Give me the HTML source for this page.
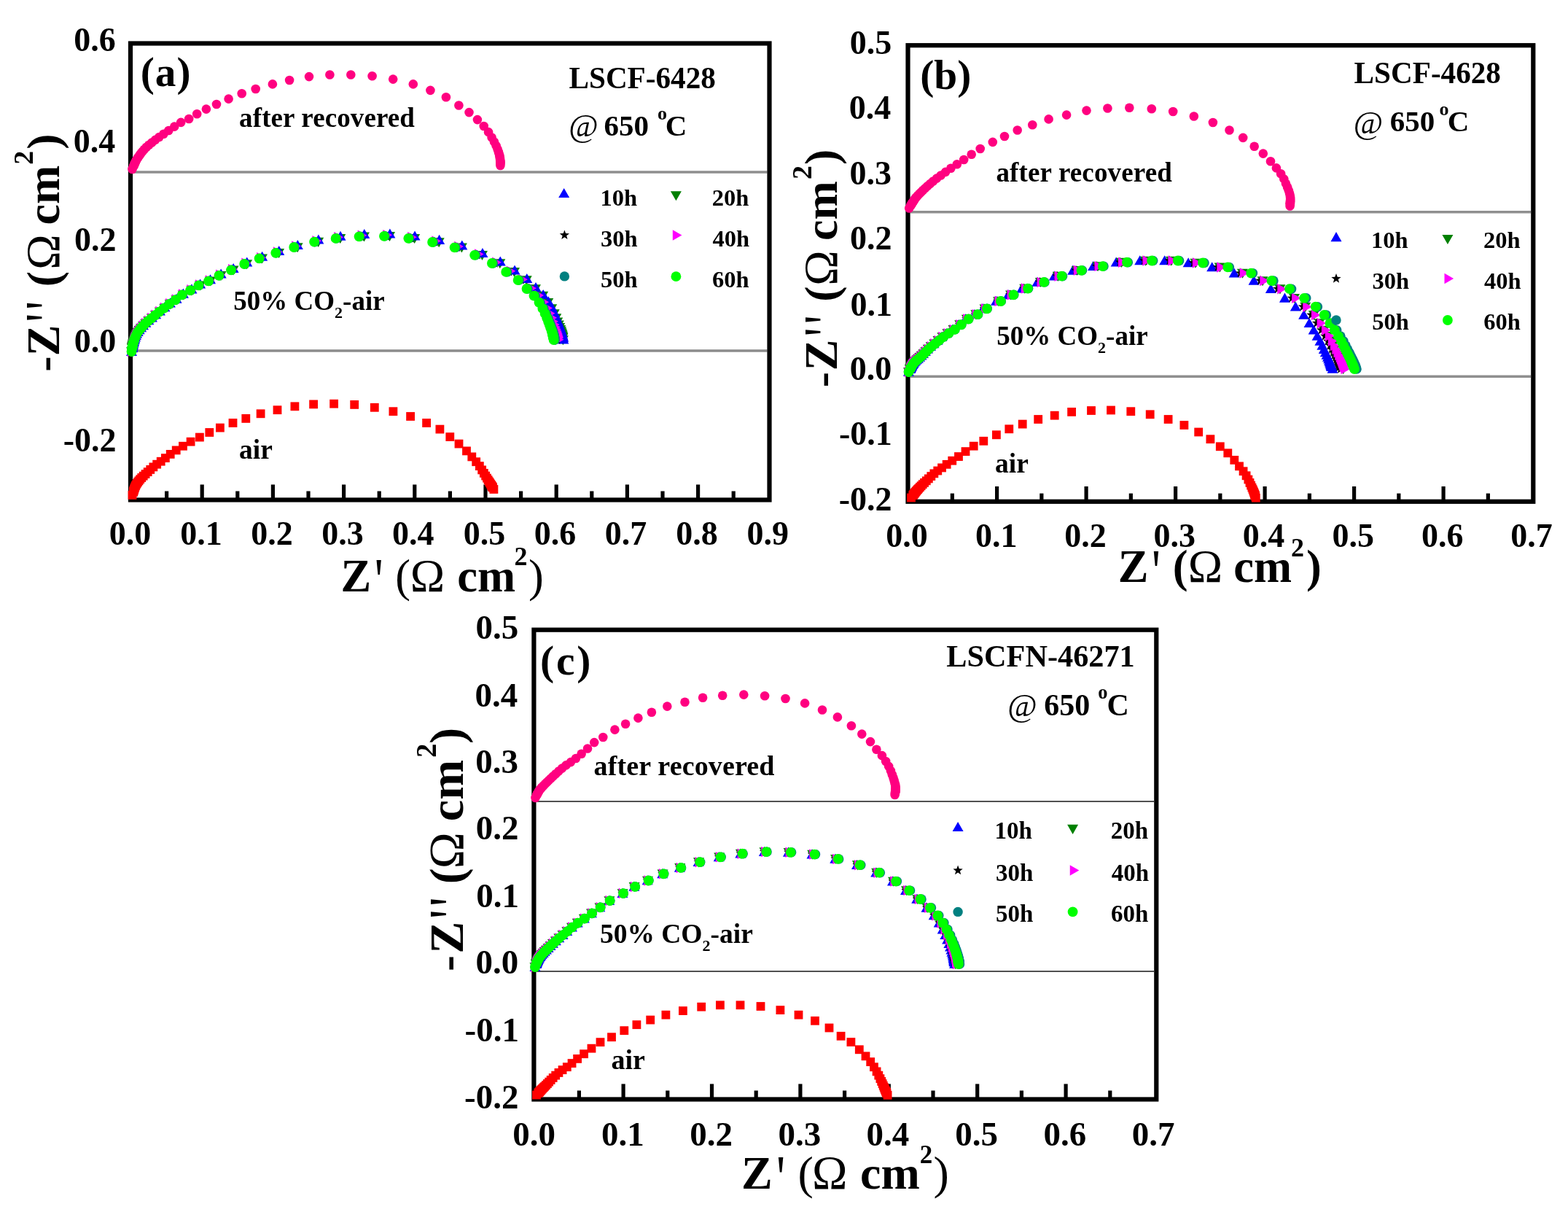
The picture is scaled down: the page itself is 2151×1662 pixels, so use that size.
<!DOCTYPE html><html><head><meta charset="utf-8"><title>Impedance spectra</title><style>html,body{margin:0;padding:0;background:#fff;}svg{display:block;}</style></head><body><svg xmlns="http://www.w3.org/2000/svg" width="2151" height="1662" viewBox="0 0 2151 1662"><rect width="2151" height="1662" fill="#fff"/><g><g font-family="'Liberation Serif','Times New Roman',serif" font-weight="bold"><line x1="182" y1="236" x2="1052.5" y2="236" stroke="#8e8e8e" stroke-width="3.6"/><line x1="182" y1="481" x2="1052.5" y2="481" stroke="#8c8c8c" stroke-width="3.6"/><rect x="179" y="59.5" width="876.5" height="626" fill="none" stroke="#000" stroke-width="6.2"/><g stroke="#000" stroke-width="5.2"><line x1="277.2" y1="685.5" x2="277.2" y2="664.5"/><line x1="374.4" y1="685.5" x2="374.4" y2="664.5"/><line x1="471.6" y1="685.5" x2="471.6" y2="664.5"/><line x1="568.8" y1="685.5" x2="568.8" y2="664.5"/><line x1="666" y1="685.5" x2="666" y2="664.5"/><line x1="763.2" y1="685.5" x2="763.2" y2="664.5"/><line x1="860.4" y1="685.5" x2="860.4" y2="664.5"/><line x1="957.6" y1="685.5" x2="957.6" y2="664.5"/><line x1="228.6" y1="685.5" x2="228.6" y2="673.5"/><line x1="325.8" y1="685.5" x2="325.8" y2="673.5"/><line x1="423" y1="685.5" x2="423" y2="673.5"/><line x1="520.2" y1="685.5" x2="520.2" y2="673.5"/><line x1="617.4" y1="685.5" x2="617.4" y2="673.5"/><line x1="714.6" y1="685.5" x2="714.6" y2="673.5"/><line x1="811.8" y1="685.5" x2="811.8" y2="673.5"/><line x1="909" y1="685.5" x2="909" y2="673.5"/><line x1="1006.2" y1="685.5" x2="1006.2" y2="673.5"/></g><circle cx="239.21" cy="173.67" r="6.3" fill="#FF0080"/><circle cx="231.35" cy="178.96" r="6.3" fill="#FF0080"/><circle cx="224.42" cy="183.7" r="6.3" fill="#FF0080"/><circle cx="218.33" cy="188.01" r="6.3" fill="#FF0080"/><circle cx="212.99" cy="191.9" r="6.3" fill="#FF0080"/><circle cx="208.36" cy="195.49" r="6.3" fill="#FF0080"/><circle cx="204.33" cy="198.78" r="6.3" fill="#FF0080"/><circle cx="200.87" cy="201.82" r="6.3" fill="#FF0080"/><circle cx="197.98" cy="204.71" r="6.3" fill="#FF0080"/><circle cx="195.6" cy="207.45" r="6.3" fill="#FF0080"/><circle cx="193.61" cy="209.98" r="6.3" fill="#FF0080"/><circle cx="191.91" cy="212.27" r="6.3" fill="#FF0080"/><circle cx="190.45" cy="214.34" r="6.3" fill="#FF0080"/><circle cx="189.18" cy="216.19" r="6.3" fill="#FF0080"/><circle cx="188.08" cy="217.85" r="6.3" fill="#FF0080"/><circle cx="187.17" cy="219.37" r="6.3" fill="#FF0080"/><circle cx="186.44" cy="220.75" r="6.3" fill="#FF0080"/><circle cx="185.84" cy="222" r="6.3" fill="#FF0080"/><circle cx="185.34" cy="223.13" r="6.3" fill="#FF0080"/><circle cx="184.9" cy="224.13" r="6.3" fill="#FF0080"/><circle cx="184.49" cy="225.01" r="6.3" fill="#FF0080"/><circle cx="184.13" cy="225.79" r="6.3" fill="#FF0080"/><circle cx="183.82" cy="226.49" r="6.3" fill="#FF0080"/><circle cx="183.55" cy="227.11" r="6.3" fill="#FF0080"/><circle cx="183.31" cy="227.66" r="6.3" fill="#FF0080"/><circle cx="183.1" cy="228.15" r="6.3" fill="#FF0080"/><circle cx="181.5" cy="232" r="6.3" fill="#FF0080"/><circle cx="248.2" cy="167.9" r="6.3" fill="#FF0080"/><circle cx="259.2" cy="163" r="6.3" fill="#FF0080"/><circle cx="270.2" cy="156.2" r="6.3" fill="#FF0080"/><circle cx="282.9" cy="149.6" r="6.3" fill="#FF0080"/><circle cx="297" cy="143" r="6.3" fill="#FF0080"/><circle cx="313.6" cy="135.6" r="6.3" fill="#FF0080"/><circle cx="331.7" cy="128.3" r="6.3" fill="#FF0080"/><circle cx="350.7" cy="122" r="6.3" fill="#FF0080"/><circle cx="373.9" cy="115.4" r="6.3" fill="#FF0080"/><circle cx="397.1" cy="110" r="6.3" fill="#FF0080"/><circle cx="424" cy="105.1" r="6.3" fill="#FF0080"/><circle cx="452.4" cy="102.5" r="6.3" fill="#FF0080"/><circle cx="481.3" cy="102.5" r="6.3" fill="#FF0080"/><circle cx="510.6" cy="104.2" r="6.3" fill="#FF0080"/><circle cx="539.2" cy="108.6" r="6.3" fill="#FF0080"/><circle cx="566.8" cy="115.4" r="6.3" fill="#FF0080"/><circle cx="590.4" cy="123.9" r="6.3" fill="#FF0080"/><circle cx="611.9" cy="133.2" r="6.3" fill="#FF0080"/><circle cx="629.4" cy="144.5" r="6.3" fill="#FF0080"/><circle cx="643.5" cy="154.1" r="6.3" fill="#FF0080"/><circle cx="654.9" cy="164.1" r="6.3" fill="#FF0080"/><circle cx="663.73" cy="172.99" r="6.3" fill="#FF0080"/><circle cx="670.09" cy="181.17" r="6.3" fill="#FF0080"/><circle cx="674.58" cy="188.47" r="6.3" fill="#FF0080"/><circle cx="678.03" cy="194.66" r="6.3" fill="#FF0080"/><circle cx="680.62" cy="199.91" r="6.3" fill="#FF0080"/><circle cx="682.51" cy="204.37" r="6.3" fill="#FF0080"/><circle cx="683.85" cy="208.15" r="6.3" fill="#FF0080"/><circle cx="684.77" cy="211.33" r="6.3" fill="#FF0080"/><circle cx="685.39" cy="213.99" r="6.3" fill="#FF0080"/><circle cx="685.79" cy="216.22" r="6.3" fill="#FF0080"/><circle cx="686.02" cy="218.08" r="6.3" fill="#FF0080"/><circle cx="686.15" cy="219.62" r="6.3" fill="#FF0080"/><circle cx="686.22" cy="220.9" r="6.3" fill="#FF0080"/><circle cx="686.26" cy="221.95" r="6.3" fill="#FF0080"/><circle cx="686.29" cy="222.83" r="6.3" fill="#FF0080"/><circle cx="686.31" cy="223.55" r="6.3" fill="#FF0080"/><circle cx="686.32" cy="224.15" r="6.3" fill="#FF0080"/><circle cx="686.4" cy="227" r="6.3" fill="#FF0080"/><rect x="245.08" y="605.86" width="11.8" height="11.8" fill="#FF0000"/><rect x="235.8" y="611.53" width="11.8" height="11.8" fill="#FF0000"/><rect x="227.8" y="616.98" width="11.8" height="11.8" fill="#FF0000"/><rect x="220.96" y="622.22" width="11.8" height="11.8" fill="#FF0000"/><rect x="214.82" y="626.83" width="11.8" height="11.8" fill="#FF0000"/><rect x="209.26" y="630.8" width="11.8" height="11.8" fill="#FF0000"/><rect x="204.45" y="634.52" width="11.8" height="11.8" fill="#FF0000"/><rect x="200.35" y="638.05" width="11.8" height="11.8" fill="#FF0000"/><rect x="196.78" y="641.29" width="11.8" height="11.8" fill="#FF0000"/><rect x="193.63" y="644.2" width="11.8" height="11.8" fill="#FF0000"/><rect x="190.82" y="646.79" width="11.8" height="11.8" fill="#FF0000"/><rect x="188.36" y="649.13" width="11.8" height="11.8" fill="#FF0000"/><rect x="186.31" y="651.36" width="11.8" height="11.8" fill="#FF0000"/><rect x="184.57" y="653.41" width="11.8" height="11.8" fill="#FF0000"/><rect x="183.08" y="655.29" width="11.8" height="11.8" fill="#FF0000"/><rect x="181.85" y="657.03" width="11.8" height="11.8" fill="#FF0000"/><rect x="180.86" y="658.65" width="11.8" height="11.8" fill="#FF0000"/><rect x="180.08" y="660.15" width="11.8" height="11.8" fill="#FF0000"/><rect x="179.47" y="661.53" width="11.8" height="11.8" fill="#FF0000"/><rect x="178.97" y="662.78" width="11.8" height="11.8" fill="#FF0000"/><rect x="178.56" y="663.9" width="11.8" height="11.8" fill="#FF0000"/><rect x="178.21" y="664.9" width="11.8" height="11.8" fill="#FF0000"/><rect x="177.91" y="665.79" width="11.8" height="11.8" fill="#FF0000"/><rect x="177.65" y="666.59" width="11.8" height="11.8" fill="#FF0000"/><rect x="177.42" y="667.31" width="11.8" height="11.8" fill="#FF0000"/><rect x="177.22" y="667.94" width="11.8" height="11.8" fill="#FF0000"/><rect x="177.04" y="668.51" width="11.8" height="11.8" fill="#FF0000"/><rect x="176.88" y="669.01" width="11.8" height="11.8" fill="#FF0000"/><rect x="175.6" y="673.1" width="11.8" height="11.8" fill="#FF0000"/><rect x="255.7" y="599.8" width="11.8" height="11.8" fill="#FF0000"/><rect x="268" y="593.7" width="11.8" height="11.8" fill="#FF0000"/><rect x="281.4" y="587.1" width="11.8" height="11.8" fill="#FF0000"/><rect x="296" y="580.7" width="11.8" height="11.8" fill="#FF0000"/><rect x="313.6" y="574.1" width="11.8" height="11.8" fill="#FF0000"/><rect x="331.4" y="568" width="11.8" height="11.8" fill="#FF0000"/><rect x="351.7" y="561.4" width="11.8" height="11.8" fill="#FF0000"/><rect x="374.6" y="556.3" width="11.8" height="11.8" fill="#FF0000"/><rect x="398.5" y="551.4" width="11.8" height="11.8" fill="#FF0000"/><rect x="424.2" y="548.5" width="11.8" height="11.8" fill="#FF0000"/><rect x="452.2" y="547.8" width="11.8" height="11.8" fill="#FF0000"/><rect x="480.3" y="549" width="11.8" height="11.8" fill="#FF0000"/><rect x="507.9" y="552.9" width="11.8" height="11.8" fill="#FF0000"/><rect x="533.5" y="558.3" width="11.8" height="11.8" fill="#FF0000"/><rect x="557.2" y="565.1" width="11.8" height="11.8" fill="#FF0000"/><rect x="579.2" y="574.1" width="11.8" height="11.8" fill="#FF0000"/><rect x="597.5" y="582.7" width="11.8" height="11.8" fill="#FF0000"/><rect x="611.4" y="593.2" width="11.8" height="11.8" fill="#FF0000"/><rect x="623.6" y="602.7" width="11.8" height="11.8" fill="#FF0000"/><rect x="634.1" y="612.5" width="11.8" height="11.8" fill="#FF0000"/><rect x="641.4" y="620.5" width="11.8" height="11.8" fill="#FF0000"/><rect x="647.28" y="627.34" width="11.8" height="11.8" fill="#FF0000"/><rect x="651.95" y="633.21" width="11.8" height="11.8" fill="#FF0000"/><rect x="655.25" y="638.53" width="11.8" height="11.8" fill="#FF0000"/><rect x="657.95" y="642.98" width="11.8" height="11.8" fill="#FF0000"/><rect x="660.23" y="646.67" width="11.8" height="11.8" fill="#FF0000"/><rect x="662.12" y="649.75" width="11.8" height="11.8" fill="#FF0000"/><rect x="663.7" y="652.31" width="11.8" height="11.8" fill="#FF0000"/><rect x="665.02" y="654.44" width="11.8" height="11.8" fill="#FF0000"/><rect x="666.11" y="656.22" width="11.8" height="11.8" fill="#FF0000"/><rect x="667.02" y="657.7" width="11.8" height="11.8" fill="#FF0000"/><rect x="667.77" y="658.93" width="11.8" height="11.8" fill="#FF0000"/><rect x="668.4" y="659.96" width="11.8" height="11.8" fill="#FF0000"/><rect x="668.92" y="660.82" width="11.8" height="11.8" fill="#FF0000"/><rect x="669.35" y="661.54" width="11.8" height="11.8" fill="#FF0000"/><rect x="669.71" y="662.13" width="11.8" height="11.8" fill="#FF0000"/><rect x="670.01" y="662.63" width="11.8" height="11.8" fill="#FF0000"/><rect x="671.5" y="665.1" width="11.8" height="11.8" fill="#FF0000"/><path d="M241.99 418.4L249.49 405.35L234.49 405.35Z" fill="#008000"/><path d="M233.33 424.17L240.83 411.12L225.83 411.12Z" fill="#008000"/><path d="M225.87 429.71L233.37 416.66L218.37 416.66Z" fill="#008000"/><path d="M219.31 434.8L226.81 421.75L211.81 421.75Z" fill="#008000"/><path d="M213.52 439.42L221.02 426.37L206.02 426.37Z" fill="#008000"/><path d="M208.36 443.57L215.86 430.52L200.86 430.52Z" fill="#008000"/><path d="M203.73 447.26L211.23 434.21L196.23 434.21Z" fill="#008000"/><path d="M199.81 450.8L207.31 437.75L192.31 437.75Z" fill="#008000"/><path d="M196.46 454.12L203.96 441.07L188.96 441.07Z" fill="#008000"/><path d="M193.56 457.18L201.06 444.13L186.06 444.13Z" fill="#008000"/><path d="M191.11 460.03L198.61 446.98L183.61 446.98Z" fill="#008000"/><path d="M189.12 462.72L196.62 449.67L181.62 449.67Z" fill="#008000"/><path d="M187.58 465.28L195.08 452.23L180.08 452.23Z" fill="#008000"/><path d="M186.41 467.68L193.91 454.63L178.91 454.63Z" fill="#008000"/><path d="M185.5 469.89L193 456.84L178 456.84Z" fill="#008000"/><path d="M184.78 471.88L192.28 458.83L177.28 458.83Z" fill="#008000"/><path d="M184.17 473.69L191.67 460.64L176.67 460.64Z" fill="#008000"/><path d="M183.66 475.3L191.16 462.25L176.16 462.25Z" fill="#008000"/><path d="M183.2 476.75L190.7 463.7L175.7 463.7Z" fill="#008000"/><path d="M182.81 478.05L190.31 465L175.31 465Z" fill="#008000"/><path d="M182.49 479.21L189.99 466.16L174.99 466.16Z" fill="#008000"/><path d="M182.23 480.26L189.73 467.21L174.73 467.21Z" fill="#008000"/><path d="M182.01 481.21L189.51 468.16L174.51 468.16Z" fill="#008000"/><path d="M181.83 482.05L189.33 469L174.33 469Z" fill="#008000"/><path d="M181.68 482.81L189.18 469.76L174.18 469.76Z" fill="#008000"/><path d="M181.54 483.48L189.04 470.43L174.04 470.43Z" fill="#008000"/><path d="M181.43 484.09L188.93 471.04L173.93 471.04Z" fill="#008000"/><path d="M181.33 484.63L188.83 471.58L173.83 471.58Z" fill="#008000"/><path d="M180.51 489.18L188.01 476.13L173.01 476.13Z" fill="#008000"/><path d="M251.34 411.48L258.84 398.43L243.84 398.43Z" fill="#008000"/><path d="M262.88 405.38L270.38 392.33L255.38 392.33Z" fill="#008000"/><path d="M274.53 398.58L282.03 385.53L267.03 385.53Z" fill="#008000"/><path d="M288.43 392.58L295.93 379.53L280.93 379.53Z" fill="#008000"/><path d="M303.05 384.98L310.55 371.93L295.55 371.93Z" fill="#008000"/><path d="M320.01 377.48L327.51 364.43L312.51 364.43Z" fill="#008000"/><path d="M338.61 369.18L346.11 356.13L331.11 356.13Z" fill="#008000"/><path d="M359.46 361.58L366.96 348.53L351.96 348.53Z" fill="#008000"/><path d="M382.56 353.98L390.06 340.93L375.06 340.93Z" fill="#008000"/><path d="M408.11 346.18L415.61 333.13L400.61 333.13Z" fill="#008000"/><path d="M436.62 338.88L444.12 325.83L429.12 325.83Z" fill="#008000"/><path d="M466.77 334.08L474.27 321.03L459.27 321.03Z" fill="#008000"/><path d="M499.48 331.48L506.98 318.43L491.98 318.43Z" fill="#008000"/><path d="M534.53 330.98L542.03 317.93L527.03 317.93Z" fill="#008000"/><path d="M568.67 333.98L576.17 320.93L561.17 320.93Z" fill="#008000"/><path d="M602.19 339.18L609.69 326.13L594.69 326.13Z" fill="#008000"/><path d="M633.36 346.58L640.86 333.53L625.86 333.53Z" fill="#008000"/><path d="M661.46 356.98L668.96 343.93L653.96 343.93Z" fill="#008000"/><path d="M685.79 368.18L693.29 355.13L678.29 355.13Z" fill="#008000"/><path d="M705.51 380.08L713.01 367.03L698.01 367.03Z" fill="#008000"/><path d="M722.27 391.28L729.77 378.23L714.77 378.23Z" fill="#008000"/><path d="M734.44 403.18L741.94 390.13L726.94 390.13Z" fill="#008000"/><path d="M744.62 412.89L752.12 399.84L737.12 399.84Z" fill="#008000"/><path d="M751.76 422.05L759.26 409L744.26 409Z" fill="#008000"/><path d="M756.72 430.25L764.22 417.2L749.22 417.2Z" fill="#008000"/><path d="M760.18 437.37L767.68 424.32L752.68 424.32Z" fill="#008000"/><path d="M762.78 443.38L770.28 430.33L755.28 430.33Z" fill="#008000"/><path d="M764.75 448.43L772.25 435.38L757.25 435.38Z" fill="#008000"/><path d="M766.37 452.61L773.87 439.56L758.87 439.56Z" fill="#008000"/><path d="M767.71 456.07L775.21 443.02L760.21 443.02Z" fill="#008000"/><path d="M768.77 458.95L776.27 445.9L761.27 445.9Z" fill="#008000"/><path d="M769.58 461.35L777.08 448.3L762.08 448.3Z" fill="#008000"/><path d="M770.18 463.36L777.68 450.31L762.68 450.31Z" fill="#008000"/><path d="M770.61 465.04L778.11 451.99L763.11 451.99Z" fill="#008000"/><path d="M770.94 466.44L778.44 453.39L763.44 453.39Z" fill="#008000"/><path d="M771.2 467.6L778.7 454.55L763.7 454.55Z" fill="#008000"/><path d="M771.41 468.56L778.91 455.51L763.91 455.51Z" fill="#008000"/><path d="M771.57 469.36L779.07 456.31L764.07 456.31Z" fill="#008000"/><path d="M771.71 470.02L779.21 456.97L764.21 456.97Z" fill="#008000"/><path d="M771.82 470.56L779.32 457.51L764.32 457.51Z" fill="#008000"/><path d="M772.35 473.18L779.85 460.13L764.85 460.13Z" fill="#008000"/><path d="M242.05 402.65L249.55 415.7L234.55 415.7Z" fill="#0000FF"/><path d="M233.38 408.54L240.88 421.59L225.88 421.59Z" fill="#0000FF"/><path d="M225.91 414.19L233.41 427.24L218.41 427.24Z" fill="#0000FF"/><path d="M219.35 419.38L226.85 432.43L211.85 432.43Z" fill="#0000FF"/><path d="M213.55 424.09L221.05 437.14L206.05 437.14Z" fill="#0000FF"/><path d="M208.38 428.33L215.88 441.38L200.88 441.38Z" fill="#0000FF"/><path d="M203.75 432.09L211.25 445.14L196.25 445.14Z" fill="#0000FF"/><path d="M199.82 435.7L207.32 448.75L192.32 448.75Z" fill="#0000FF"/><path d="M196.48 439.09L203.98 452.14L188.98 452.14Z" fill="#0000FF"/><path d="M193.58 442.2L201.08 455.25L186.08 455.25Z" fill="#0000FF"/><path d="M191.13 445.11L198.63 458.16L183.63 458.16Z" fill="#0000FF"/><path d="M189.13 447.86L196.63 460.91L181.63 460.91Z" fill="#0000FF"/><path d="M187.59 450.47L195.09 463.52L180.09 463.52Z" fill="#0000FF"/><path d="M186.42 452.92L193.92 465.97L178.92 465.97Z" fill="#0000FF"/><path d="M185.51 455.16L193.01 468.21L178.01 468.21Z" fill="#0000FF"/><path d="M184.78 457.2L192.28 470.25L177.28 470.25Z" fill="#0000FF"/><path d="M184.18 459.04L191.68 472.09L176.68 472.09Z" fill="#0000FF"/><path d="M183.66 460.69L191.16 473.74L176.16 473.74Z" fill="#0000FF"/><path d="M183.2 462.17L190.7 475.22L175.7 475.22Z" fill="#0000FF"/><path d="M182.81 463.49L190.31 476.54L175.31 476.54Z" fill="#0000FF"/><path d="M182.49 464.68L189.99 477.73L174.99 477.73Z" fill="#0000FF"/><path d="M182.23 465.75L189.73 478.8L174.73 478.8Z" fill="#0000FF"/><path d="M182.01 466.71L189.51 479.76L174.51 479.76Z" fill="#0000FF"/><path d="M181.83 467.57L189.33 480.62L174.33 480.62Z" fill="#0000FF"/><path d="M181.68 468.34L189.18 481.39L174.18 481.39Z" fill="#0000FF"/><path d="M181.54 469.03L189.04 482.08L174.04 482.08Z" fill="#0000FF"/><path d="M181.43 469.65L188.93 482.7L173.93 482.7Z" fill="#0000FF"/><path d="M181.33 470.2L188.83 483.25L173.83 483.25Z" fill="#0000FF"/><path d="M180.51 474.84L188.01 487.89L173.01 487.89Z" fill="#0000FF"/><path d="M251.41 395.59L258.91 408.64L243.91 408.64Z" fill="#0000FF"/><path d="M262.97 389.37L270.47 402.42L255.47 402.42Z" fill="#0000FF"/><path d="M274.63 382.43L282.13 395.48L267.13 395.48Z" fill="#0000FF"/><path d="M288.54 376.31L296.04 389.36L281.04 389.36Z" fill="#0000FF"/><path d="M303.17 368.56L310.67 381.61L295.67 381.61Z" fill="#0000FF"/><path d="M320.15 360.91L327.65 373.96L312.65 373.96Z" fill="#0000FF"/><path d="M338.77 352.44L346.27 365.49L331.27 365.49Z" fill="#0000FF"/><path d="M359.64 344.69L367.14 357.74L352.14 357.74Z" fill="#0000FF"/><path d="M382.76 336.94L390.26 349.99L375.26 349.99Z" fill="#0000FF"/><path d="M408.33 328.98L415.83 342.03L400.83 342.03Z" fill="#0000FF"/><path d="M436.88 321.54L444.38 334.59L429.38 334.59Z" fill="#0000FF"/><path d="M467.05 316.64L474.55 329.69L459.55 329.69Z" fill="#0000FF"/><path d="M499.79 313.99L507.29 327.04L492.29 327.04Z" fill="#0000FF"/><path d="M534.88 313.48L542.38 326.53L527.38 326.53Z" fill="#0000FF"/><path d="M569.05 316.54L576.55 329.59L561.55 329.59Z" fill="#0000FF"/><path d="M602.6 321.84L610.1 334.89L595.1 334.89Z" fill="#0000FF"/><path d="M633.8 329.39L641.3 342.44L626.3 342.44Z" fill="#0000FF"/><path d="M661.94 340L669.44 353.05L654.44 353.05Z" fill="#0000FF"/><path d="M686.28 351.42L693.78 364.47L678.78 364.47Z" fill="#0000FF"/><path d="M706.03 363.56L713.53 376.61L698.53 376.61Z" fill="#0000FF"/><path d="M722.8 374.98L730.3 388.03L715.3 388.03Z" fill="#0000FF"/><path d="M734.98 387.12L742.48 400.17L727.48 400.17Z" fill="#0000FF"/><path d="M745.18 397.03L752.68 410.08L737.68 410.08Z" fill="#0000FF"/><path d="M752.32 406.37L759.82 419.42L744.82 419.42Z" fill="#0000FF"/><path d="M757.29 414.73L764.79 427.78L749.79 427.78Z" fill="#0000FF"/><path d="M760.75 422L768.25 435.05L753.25 435.05Z" fill="#0000FF"/><path d="M763.35 428.13L770.85 441.18L755.85 441.18Z" fill="#0000FF"/><path d="M765.33 433.28L772.83 446.33L757.83 446.33Z" fill="#0000FF"/><path d="M766.94 437.54L774.44 450.59L759.44 450.59Z" fill="#0000FF"/><path d="M768.28 441.07L775.78 454.12L760.78 454.12Z" fill="#0000FF"/><path d="M769.34 444.01L776.84 457.06L761.84 457.06Z" fill="#0000FF"/><path d="M770.16 446.46L777.66 459.51L762.66 459.51Z" fill="#0000FF"/><path d="M770.76 448.51L778.26 461.56L763.26 461.56Z" fill="#0000FF"/><path d="M771.19 450.22L778.69 463.27L763.69 463.27Z" fill="#0000FF"/><path d="M771.52 451.65L779.02 464.7L764.02 464.7Z" fill="#0000FF"/><path d="M771.78 452.83L779.28 465.88L764.28 465.88Z" fill="#0000FF"/><path d="M771.98 453.81L779.48 466.86L764.48 466.86Z" fill="#0000FF"/><path d="M772.15 454.62L779.65 467.67L764.65 467.67Z" fill="#0000FF"/><path d="M772.28 455.3L779.78 468.35L764.78 468.35Z" fill="#0000FF"/><path d="M772.39 455.85L779.89 468.9L764.89 468.9Z" fill="#0000FF"/><path d="M772.93 458.52L780.43 471.57L765.43 471.57Z" fill="#0000FF"/><path d="M241.14 404.23L242.87 408.85L247.8 409.06L243.94 412.13L245.26 416.89L241.14 414.17L237.03 416.89L238.34 412.13L234.48 409.06L239.41 408.85Z" fill="#000000"/><path d="M232.6 410L234.33 414.62L239.26 414.83L235.39 417.91L236.71 422.66L232.6 419.94L228.48 422.66L229.8 417.91L225.94 414.83L230.87 414.62Z" fill="#000000"/><path d="M225.24 415.54L226.97 420.16L231.9 420.37L228.04 423.44L229.36 428.2L225.24 425.48L221.13 428.2L222.45 423.44L218.58 420.37L223.51 420.16Z" fill="#000000"/><path d="M218.78 420.62L220.5 425.24L225.43 425.46L221.57 428.53L222.89 433.29L218.78 430.56L214.66 433.29L215.98 428.53L212.12 425.46L217.05 425.24Z" fill="#000000"/><path d="M213.06 425.25L214.79 429.87L219.72 430.08L215.86 433.15L217.17 437.91L213.06 435.19L208.95 437.91L210.26 433.15L206.4 430.08L211.33 429.87Z" fill="#000000"/><path d="M207.97 429.4L209.7 434.02L214.63 434.23L210.76 437.3L212.08 442.06L207.97 439.34L203.85 442.06L205.17 437.3L201.31 434.23L206.24 434.02Z" fill="#000000"/><path d="M203.4 433.09L205.13 437.71L210.06 437.92L206.2 441L207.52 445.75L203.4 443.03L199.29 445.75L200.61 441L196.75 437.92L201.68 437.71Z" fill="#000000"/><path d="M199.53 436.62L201.26 441.24L206.19 441.46L202.33 444.53L203.65 449.28L199.53 446.56L195.42 449.28L196.74 444.53L192.88 441.46L197.81 441.24Z" fill="#000000"/><path d="M196.24 439.95L197.96 444.57L202.89 444.78L199.03 447.85L200.35 452.61L196.24 449.89L192.12 452.61L193.44 447.85L189.58 444.78L194.51 444.57Z" fill="#000000"/><path d="M193.38 443L195.11 447.62L200.04 447.84L196.17 450.91L197.49 455.66L193.38 452.94L189.26 455.66L190.58 450.91L186.72 447.84L191.65 447.62Z" fill="#000000"/><path d="M190.96 445.85L192.69 450.47L197.62 450.69L193.76 453.76L195.08 458.51L190.96 455.79L186.85 458.51L188.17 453.76L184.31 450.69L189.23 450.47Z" fill="#000000"/><path d="M188.99 448.54L190.72 453.16L195.65 453.38L191.79 456.45L193.11 461.21L188.99 458.48L184.88 461.21L186.2 456.45L182.33 453.38L187.26 453.16Z" fill="#000000"/><path d="M187.47 451.11L189.2 455.73L194.13 455.94L190.27 459.02L191.59 463.77L187.47 461.05L183.36 463.77L184.68 459.02L180.82 455.94L185.75 455.73Z" fill="#000000"/><path d="M186.32 453.51L188.05 458.13L192.98 458.34L189.12 461.41L190.44 466.17L186.32 463.45L182.21 466.17L183.53 461.41L179.67 458.34L184.6 458.13Z" fill="#000000"/><path d="M185.43 455.71L187.16 460.33L192.09 460.55L188.22 463.62L189.54 468.37L185.43 465.65L181.31 468.37L182.63 463.62L178.77 460.55L183.7 460.33Z" fill="#000000"/><path d="M184.71 457.71L186.44 462.33L191.37 462.54L187.51 465.62L188.82 470.37L184.71 467.65L180.6 470.37L181.91 465.62L178.05 462.54L182.98 462.33Z" fill="#000000"/><path d="M184.11 459.51L185.84 464.13L190.77 464.35L186.91 467.42L188.23 472.17L184.11 469.45L180 472.17L181.32 467.42L177.46 464.35L182.39 464.13Z" fill="#000000"/><path d="M183.61 461.13L185.33 465.75L190.26 465.96L186.4 469.03L187.72 473.79L183.61 471.07L179.49 473.79L180.81 469.03L176.95 465.96L181.88 465.75Z" fill="#000000"/><path d="M183.16 462.57L184.88 467.19L189.81 467.41L185.95 470.48L187.27 475.24L183.16 472.51L179.04 475.24L180.36 470.48L176.5 467.41L181.43 467.19Z" fill="#000000"/><path d="M182.77 463.87L184.49 468.49L189.42 468.71L185.56 471.78L186.88 476.53L182.77 473.81L178.65 476.53L179.97 471.78L176.11 468.71L181.04 468.49Z" fill="#000000"/><path d="M182.45 465.04L184.18 469.66L189.11 469.87L185.25 472.95L186.57 477.7L182.45 474.98L178.34 477.7L179.66 472.95L175.79 469.87L180.72 469.66Z" fill="#000000"/><path d="M182.2 466.09L183.93 470.71L188.85 470.92L184.99 474L186.31 478.75L182.2 476.03L178.08 478.75L179.4 474L175.54 470.92L180.47 470.71Z" fill="#000000"/><path d="M181.98 467.03L183.71 471.65L188.64 471.87L184.78 474.94L186.1 479.69L181.98 476.97L177.87 479.69L179.19 474.94L175.33 471.87L180.26 471.65Z" fill="#000000"/><path d="M181.81 467.87L183.53 472.49L188.46 472.71L184.6 475.78L185.92 480.54L181.81 477.81L177.69 480.54L179.01 475.78L175.15 472.71L180.08 472.49Z" fill="#000000"/><path d="M181.65 468.63L183.38 473.25L188.31 473.47L184.45 476.54L185.77 481.29L181.65 478.57L177.54 481.29L178.86 476.54L175 473.47L179.93 473.25Z" fill="#000000"/><path d="M181.52 469.31L183.25 473.93L188.18 474.14L184.32 477.21L185.64 481.97L181.52 479.25L177.41 481.97L178.73 477.21L174.86 474.14L179.79 473.93Z" fill="#000000"/><path d="M181.41 469.91L183.14 474.53L188.07 474.75L184.2 477.82L185.52 482.57L181.41 479.85L177.29 482.57L178.61 477.82L174.75 474.75L179.68 474.53Z" fill="#000000"/><path d="M181.31 470.45L183.04 475.07L187.97 475.29L184.11 478.36L185.42 483.12L181.31 480.39L177.2 483.12L178.51 478.36L174.65 475.29L179.58 475.07Z" fill="#000000"/><path d="M180.5 475L182.23 479.62L187.16 479.84L183.3 482.91L184.62 487.66L180.5 484.94L176.39 487.66L177.71 482.91L173.85 479.84L178.78 479.62Z" fill="#000000"/><path d="M250.36 397.3L252.09 401.92L257.02 402.14L253.15 405.21L254.47 409.96L250.36 407.24L246.24 409.96L247.56 405.21L243.7 402.14L248.63 401.92Z" fill="#000000"/><path d="M261.75 391.2L263.48 395.82L268.41 396.04L264.54 399.11L265.86 403.86L261.75 401.14L257.63 403.86L258.95 399.11L255.09 396.04L260.02 395.82Z" fill="#000000"/><path d="M273.24 384.4L274.97 389.02L279.9 389.24L276.04 392.31L277.35 397.06L273.24 394.34L269.13 397.06L270.44 392.31L266.58 389.24L271.51 389.02Z" fill="#000000"/><path d="M286.95 378.4L288.68 383.02L293.61 383.24L289.74 386.31L291.06 391.06L286.95 388.34L282.83 391.06L284.15 386.31L280.29 383.24L285.22 383.02Z" fill="#000000"/><path d="M301.36 370.8L303.09 375.42L308.02 375.64L304.16 378.71L305.48 383.46L301.36 380.74L297.25 383.46L298.57 378.71L294.71 375.64L299.64 375.42Z" fill="#000000"/><path d="M318.1 363.3L319.82 367.92L324.75 368.14L320.89 371.21L322.21 375.96L318.1 373.24L313.98 375.96L315.3 371.21L311.44 368.14L316.37 367.92Z" fill="#000000"/><path d="M336.44 355L338.17 359.62L343.1 359.84L339.24 362.91L340.56 367.66L336.44 364.94L332.33 367.66L333.65 362.91L329.78 359.84L334.71 359.62Z" fill="#000000"/><path d="M357 347.4L358.73 352.02L363.66 352.24L359.8 355.31L361.12 360.06L357 357.34L352.89 360.06L354.21 355.31L350.35 352.24L355.28 352.02Z" fill="#000000"/><path d="M379.79 339.8L381.51 344.42L386.44 344.64L382.58 347.71L383.9 352.46L379.79 349.74L375.67 352.46L376.99 347.71L373.13 344.64L378.06 344.42Z" fill="#000000"/><path d="M404.99 332L406.71 336.62L411.64 336.84L407.78 339.91L409.1 344.66L404.99 341.94L400.87 344.66L402.19 339.91L398.33 336.84L403.26 336.62Z" fill="#000000"/><path d="M433.11 324.7L434.84 329.32L439.77 329.54L435.9 332.61L437.22 337.36L433.11 334.64L428.99 337.36L430.31 332.61L426.45 329.54L431.38 329.32Z" fill="#000000"/><path d="M462.84 319.9L464.57 324.52L469.5 324.74L465.64 327.81L466.96 332.56L462.84 329.84L458.73 332.56L460.05 327.81L456.19 324.74L461.12 324.52Z" fill="#000000"/><path d="M495.1 317.3L496.83 321.92L501.76 322.14L497.9 325.21L499.22 329.96L495.1 327.24L490.99 329.96L492.3 325.21L488.44 322.14L493.37 321.92Z" fill="#000000"/><path d="M529.68 316.8L531.4 321.42L536.33 321.64L532.47 324.71L533.79 329.46L529.68 326.74L525.56 329.46L526.88 324.71L523.02 321.64L527.95 321.42Z" fill="#000000"/><path d="M563.34 319.8L565.07 324.42L570 324.64L566.14 327.71L567.46 332.46L563.34 329.74L559.23 332.46L560.55 327.71L556.69 324.64L561.61 324.42Z" fill="#000000"/><path d="M596.4 325L598.13 329.62L603.06 329.84L599.2 332.91L600.52 337.66L596.4 334.94L592.29 337.66L593.61 332.91L589.75 329.84L594.68 329.62Z" fill="#000000"/><path d="M627.15 332.4L628.88 337.02L633.81 337.24L629.94 340.31L631.26 345.06L627.15 342.34L623.03 345.06L624.35 340.31L620.49 337.24L625.42 337.02Z" fill="#000000"/><path d="M654.87 342.8L656.6 347.42L661.53 347.64L657.66 350.71L658.98 355.46L654.87 352.74L650.75 355.46L652.07 350.71L648.21 347.64L653.14 347.42Z" fill="#000000"/><path d="M678.86 354L680.59 358.62L685.52 358.84L681.66 361.91L682.97 366.66L678.86 363.94L674.74 366.66L676.06 361.91L672.2 358.84L677.13 358.62Z" fill="#000000"/><path d="M698.31 365.9L700.04 370.52L704.97 370.74L701.11 373.81L702.43 378.56L698.31 375.84L694.2 378.56L695.52 373.81L691.66 370.74L696.59 370.52Z" fill="#000000"/><path d="M714.84 377.1L716.57 381.72L721.5 381.94L717.64 385.01L718.96 389.76L714.84 387.04L710.73 389.76L712.05 385.01L708.19 381.94L713.12 381.72Z" fill="#000000"/><path d="M726.84 389L728.57 393.62L733.5 393.84L729.64 396.91L730.95 401.66L726.84 398.94L722.73 401.66L724.04 396.91L720.18 393.84L725.11 393.62Z" fill="#000000"/><path d="M736.89 398.72L738.62 403.34L743.55 403.55L739.69 406.63L741 411.38L736.89 408.66L732.78 411.38L734.09 406.63L730.23 403.55L735.16 403.34Z" fill="#000000"/><path d="M743.93 407.87L745.66 412.49L750.58 412.71L746.72 415.78L748.04 420.53L743.93 417.81L739.81 420.53L741.13 415.78L737.27 412.71L742.2 412.49Z" fill="#000000"/><path d="M748.82 416.07L750.55 420.69L755.48 420.91L751.62 423.98L752.94 428.73L748.82 426.01L744.71 428.73L746.03 423.98L742.16 420.91L747.09 420.69Z" fill="#000000"/><path d="M752.23 423.19L753.96 427.81L758.89 428.03L755.03 431.1L756.35 435.86L752.23 433.13L748.12 435.86L749.44 431.1L745.58 428.03L750.51 427.81Z" fill="#000000"/><path d="M754.8 429.2L756.53 433.83L761.45 434.04L757.59 437.11L758.91 441.87L754.8 439.14L750.68 441.87L752 437.11L748.14 434.04L753.07 433.83Z" fill="#000000"/><path d="M756.74 434.25L758.47 438.87L763.4 439.09L759.54 442.16L760.86 446.91L756.74 444.19L752.63 446.91L753.95 442.16L750.09 439.09L755.02 438.87Z" fill="#000000"/><path d="M758.34 438.43L760.07 443.05L764.99 443.27L761.13 446.34L762.45 451.09L758.34 448.37L754.22 451.09L755.54 446.34L751.68 443.27L756.61 443.05Z" fill="#000000"/><path d="M759.66 441.89L761.38 446.51L766.31 446.73L762.45 449.8L763.77 454.55L759.66 451.83L755.54 454.55L756.86 449.8L753 446.73L757.93 446.51Z" fill="#000000"/><path d="M760.7 444.77L762.43 449.39L767.36 449.6L763.5 452.68L764.81 457.43L760.7 454.71L756.59 457.43L757.9 452.68L754.04 449.6L758.97 449.39Z" fill="#000000"/><path d="M761.5 447.17L763.23 451.79L768.16 452.01L764.3 455.08L765.62 459.83L761.5 457.11L757.39 459.83L758.71 455.08L754.84 452.01L759.77 451.79Z" fill="#000000"/><path d="M762.09 449.18L763.82 453.8L768.75 454.02L764.89 457.09L766.21 461.85L762.09 459.12L757.98 461.85L759.3 457.09L755.44 454.02L760.37 453.8Z" fill="#000000"/><path d="M762.52 450.86L764.25 455.48L769.18 455.7L765.32 458.77L766.64 463.53L762.52 460.8L758.41 463.53L759.73 458.77L755.87 455.7L760.8 455.48Z" fill="#000000"/><path d="M762.85 452.26L764.58 456.88L769.51 457.1L765.64 460.17L766.96 464.92L762.85 462.2L758.73 464.92L760.05 460.17L756.19 457.1L761.12 456.88Z" fill="#000000"/><path d="M763.1 453.42L764.83 458.04L769.76 458.26L765.9 461.33L767.22 466.08L763.1 463.36L758.99 466.08L760.31 461.33L756.45 458.26L761.37 458.04Z" fill="#000000"/><path d="M763.3 454.38L765.03 459L769.96 459.22L766.1 462.29L767.42 467.05L763.3 464.32L759.19 467.05L760.51 462.29L756.65 459.22L761.58 459Z" fill="#000000"/><path d="M763.47 455.18L765.2 459.8L770.12 460.02L766.26 463.09L767.58 467.84L763.47 465.12L759.35 467.84L760.67 463.09L756.81 460.02L761.74 459.8Z" fill="#000000"/><path d="M763.6 455.84L765.33 460.46L770.26 460.67L766.4 463.75L767.71 468.5L763.6 465.78L759.49 468.5L760.8 463.75L756.94 460.67L761.87 460.46Z" fill="#000000"/><path d="M763.71 456.38L765.44 461.01L770.37 461.22L766.5 464.29L767.82 469.05L763.71 466.32L759.59 469.05L760.91 464.29L757.05 461.22L761.98 461.01Z" fill="#000000"/><path d="M764.24 459L765.96 463.62L770.89 463.84L767.03 466.91L768.35 471.66L764.24 468.94L760.12 471.66L761.44 466.91L757.58 463.84L762.51 463.62Z" fill="#000000"/><path d="M248.32 410.53L235.71 417.78L235.71 403.28Z" fill="#FF00FF"/><path d="M239.75 416.36L227.13 423.61L227.13 409.11Z" fill="#FF00FF"/><path d="M232.36 421.95L219.74 429.2L219.74 414.7Z" fill="#FF00FF"/><path d="M225.87 427.09L213.25 434.34L213.25 419.84Z" fill="#FF00FF"/><path d="M220.13 431.76L207.51 439.01L207.51 424.51Z" fill="#FF00FF"/><path d="M215.02 435.95L202.4 443.2L202.4 428.7Z" fill="#FF00FF"/><path d="M210.44 439.68L197.82 446.93L197.82 432.43Z" fill="#FF00FF"/><path d="M206.55 443.25L193.93 450.5L193.93 436Z" fill="#FF00FF"/><path d="M203.24 446.61L190.62 453.86L190.62 439.36Z" fill="#FF00FF"/><path d="M200.37 449.69L187.76 456.94L187.76 442.44Z" fill="#FF00FF"/><path d="M197.94 452.57L185.33 459.82L185.33 445.32Z" fill="#FF00FF"/><path d="M195.97 455.29L183.35 462.54L183.35 448.04Z" fill="#FF00FF"/><path d="M194.44 457.88L181.83 465.13L181.83 450.63Z" fill="#FF00FF"/><path d="M193.29 460.3L180.67 467.55L180.67 453.05Z" fill="#FF00FF"/><path d="M192.39 462.53L179.77 469.78L179.77 455.28Z" fill="#FF00FF"/><path d="M191.67 464.54L179.05 471.79L179.05 457.29Z" fill="#FF00FF"/><path d="M191.07 466.36L178.45 473.61L178.45 459.11Z" fill="#FF00FF"/><path d="M190.56 468L177.94 475.25L177.94 460.75Z" fill="#FF00FF"/><path d="M190.11 469.46L177.49 476.71L177.49 462.21Z" fill="#FF00FF"/><path d="M189.72 470.77L177.1 478.02L177.1 463.52Z" fill="#FF00FF"/><path d="M189.4 471.95L176.78 479.2L176.78 464.7Z" fill="#FF00FF"/><path d="M189.14 473.01L176.53 480.26L176.53 465.76Z" fill="#FF00FF"/><path d="M188.93 473.96L176.32 481.21L176.32 466.71Z" fill="#FF00FF"/><path d="M188.75 474.81L176.14 482.06L176.14 467.56Z" fill="#FF00FF"/><path d="M188.6 475.58L175.98 482.83L175.98 468.33Z" fill="#FF00FF"/><path d="M188.47 476.26L175.85 483.51L175.85 469.01Z" fill="#FF00FF"/><path d="M188.35 476.87L175.74 484.12L175.74 469.62Z" fill="#FF00FF"/><path d="M188.25 477.42L175.64 484.67L175.64 470.17Z" fill="#FF00FF"/><path d="M187.44 482.01L174.83 489.26L174.83 474.76Z" fill="#FF00FF"/><path d="M257.58 403.53L244.96 410.78L244.96 396.28Z" fill="#FF00FF"/><path d="M269.01 397.37L256.4 404.62L256.4 390.12Z" fill="#FF00FF"/><path d="M280.55 390.5L267.93 397.75L267.93 383.25Z" fill="#FF00FF"/><path d="M294.31 384.44L281.7 391.69L281.7 377.19Z" fill="#FF00FF"/><path d="M308.78 376.77L296.17 384.02L296.17 369.52Z" fill="#FF00FF"/><path d="M325.58 369.19L312.97 376.44L312.97 361.94Z" fill="#FF00FF"/><path d="M344 360.81L331.39 368.06L331.39 353.56Z" fill="#FF00FF"/><path d="M364.65 353.13L352.03 360.38L352.03 345.88Z" fill="#FF00FF"/><path d="M387.52 345.46L374.9 352.71L374.9 338.21Z" fill="#FF00FF"/><path d="M412.82 337.58L400.2 344.83L400.2 330.33Z" fill="#FF00FF"/><path d="M441.05 330.21L428.44 337.46L428.44 322.96Z" fill="#FF00FF"/><path d="M470.91 325.36L458.29 332.61L458.29 318.11Z" fill="#FF00FF"/><path d="M503.29 322.73L490.67 329.98L490.67 315.48Z" fill="#FF00FF"/><path d="M538 322.23L525.39 329.48L525.39 314.98Z" fill="#FF00FF"/><path d="M571.8 325.26L559.19 332.51L559.19 318.01Z" fill="#FF00FF"/><path d="M605 330.51L592.38 337.76L592.38 323.26Z" fill="#FF00FF"/><path d="M635.86 337.98L623.25 345.23L623.25 330.73Z" fill="#FF00FF"/><path d="M663.69 348.49L651.08 355.74L651.08 341.24Z" fill="#FF00FF"/><path d="M687.78 359.8L675.16 367.05L675.16 352.55Z" fill="#FF00FF"/><path d="M707.31 371.82L694.69 379.07L694.69 364.57Z" fill="#FF00FF"/><path d="M723.91 383.13L711.29 390.38L711.29 375.88Z" fill="#FF00FF"/><path d="M735.95 395.15L723.33 402.4L723.33 387.9Z" fill="#FF00FF"/><path d="M746.04 404.96L733.42 412.21L733.42 397.71Z" fill="#FF00FF"/><path d="M753.1 414.21L740.49 421.46L740.49 406.96Z" fill="#FF00FF"/><path d="M758.02 422.49L745.4 429.74L745.4 415.24Z" fill="#FF00FF"/><path d="M761.44 429.68L748.83 436.93L748.83 422.43Z" fill="#FF00FF"/><path d="M764.02 435.76L751.4 443.01L751.4 428.51Z" fill="#FF00FF"/><path d="M765.97 440.85L753.36 448.1L753.36 433.6Z" fill="#FF00FF"/><path d="M767.57 445.07L754.96 452.32L754.96 437.82Z" fill="#FF00FF"/><path d="M768.89 448.57L756.28 455.82L756.28 441.32Z" fill="#FF00FF"/><path d="M769.94 451.48L757.33 458.73L757.33 444.23Z" fill="#FF00FF"/><path d="M770.75 453.9L758.13 461.15L758.13 446.65Z" fill="#FF00FF"/><path d="M771.34 455.93L758.73 463.18L758.73 448.68Z" fill="#FF00FF"/><path d="M771.77 457.63L759.16 464.88L759.16 450.38Z" fill="#FF00FF"/><path d="M772.1 459.04L759.48 466.29L759.48 451.79Z" fill="#FF00FF"/><path d="M772.35 460.21L759.74 467.46L759.74 452.96Z" fill="#FF00FF"/><path d="M772.56 461.19L759.94 468.44L759.94 453.94Z" fill="#FF00FF"/><path d="M772.72 461.99L760.11 469.24L760.11 454.74Z" fill="#FF00FF"/><path d="M772.85 462.66L760.24 469.91L760.24 455.41Z" fill="#FF00FF"/><path d="M772.96 463.21L760.35 470.46L760.35 455.96Z" fill="#FF00FF"/><path d="M773.49 465.85L760.88 473.1L760.88 458.6Z" fill="#FF00FF"/><circle cx="240.84" cy="411.23" r="6.7" fill="#008080"/><circle cx="232.34" cy="417" r="6.7" fill="#008080"/><circle cx="225.02" cy="422.54" r="6.7" fill="#008080"/><circle cx="218.58" cy="427.62" r="6.7" fill="#008080"/><circle cx="212.9" cy="432.25" r="6.7" fill="#008080"/><circle cx="207.83" cy="436.4" r="6.7" fill="#008080"/><circle cx="203.29" cy="440.09" r="6.7" fill="#008080"/><circle cx="199.44" cy="443.62" r="6.7" fill="#008080"/><circle cx="196.16" cy="446.95" r="6.7" fill="#008080"/><circle cx="193.31" cy="450" r="6.7" fill="#008080"/><circle cx="190.91" cy="452.85" r="6.7" fill="#008080"/><circle cx="188.95" cy="455.54" r="6.7" fill="#008080"/><circle cx="187.44" cy="458.11" r="6.7" fill="#008080"/><circle cx="186.29" cy="460.51" r="6.7" fill="#008080"/><circle cx="185.4" cy="462.71" r="6.7" fill="#008080"/><circle cx="184.69" cy="464.71" r="6.7" fill="#008080"/><circle cx="184.09" cy="466.51" r="6.7" fill="#008080"/><circle cx="183.59" cy="468.13" r="6.7" fill="#008080"/><circle cx="183.14" cy="469.57" r="6.7" fill="#008080"/><circle cx="182.75" cy="470.87" r="6.7" fill="#008080"/><circle cx="182.44" cy="472.04" r="6.7" fill="#008080"/><circle cx="182.19" cy="473.09" r="6.7" fill="#008080"/><circle cx="181.97" cy="474.03" r="6.7" fill="#008080"/><circle cx="181.8" cy="474.87" r="6.7" fill="#008080"/><circle cx="181.65" cy="475.63" r="6.7" fill="#008080"/><circle cx="181.51" cy="476.31" r="6.7" fill="#008080"/><circle cx="181.4" cy="476.91" r="6.7" fill="#008080"/><circle cx="181.3" cy="477.45" r="6.7" fill="#008080"/><circle cx="180.5" cy="482" r="6.7" fill="#008080"/><circle cx="250.01" cy="404.3" r="6.7" fill="#008080"/><circle cx="261.34" cy="398.2" r="6.7" fill="#008080"/><circle cx="272.78" cy="391.4" r="6.7" fill="#008080"/><circle cx="286.42" cy="385.4" r="6.7" fill="#008080"/><circle cx="300.76" cy="377.8" r="6.7" fill="#008080"/><circle cx="317.41" cy="370.3" r="6.7" fill="#008080"/><circle cx="335.67" cy="362" r="6.7" fill="#008080"/><circle cx="356.13" cy="354.4" r="6.7" fill="#008080"/><circle cx="378.79" cy="346.8" r="6.7" fill="#008080"/><circle cx="403.87" cy="339" r="6.7" fill="#008080"/><circle cx="431.85" cy="331.7" r="6.7" fill="#008080"/><circle cx="461.44" cy="326.9" r="6.7" fill="#008080"/><circle cx="493.54" cy="324.3" r="6.7" fill="#008080"/><circle cx="527.94" cy="323.8" r="6.7" fill="#008080"/><circle cx="561.44" cy="326.8" r="6.7" fill="#008080"/><circle cx="594.34" cy="332" r="6.7" fill="#008080"/><circle cx="624.93" cy="339.4" r="6.7" fill="#008080"/><circle cx="652.51" cy="349.8" r="6.7" fill="#008080"/><circle cx="676.38" cy="361" r="6.7" fill="#008080"/><circle cx="695.74" cy="372.9" r="6.7" fill="#008080"/><circle cx="712.19" cy="384.1" r="6.7" fill="#008080"/><circle cx="724.13" cy="396" r="6.7" fill="#008080"/><circle cx="734.13" cy="405.72" r="6.7" fill="#008080"/><circle cx="741.13" cy="414.87" r="6.7" fill="#008080"/><circle cx="746" cy="423.07" r="6.7" fill="#008080"/><circle cx="749.4" cy="430.19" r="6.7" fill="#008080"/><circle cx="751.95" cy="436.2" r="6.7" fill="#008080"/><circle cx="753.88" cy="441.25" r="6.7" fill="#008080"/><circle cx="755.47" cy="445.43" r="6.7" fill="#008080"/><circle cx="756.78" cy="448.89" r="6.7" fill="#008080"/><circle cx="757.82" cy="451.77" r="6.7" fill="#008080"/><circle cx="758.62" cy="454.17" r="6.7" fill="#008080"/><circle cx="759.21" cy="456.18" r="6.7" fill="#008080"/><circle cx="759.63" cy="457.86" r="6.7" fill="#008080"/><circle cx="759.96" cy="459.26" r="6.7" fill="#008080"/><circle cx="760.21" cy="460.42" r="6.7" fill="#008080"/><circle cx="760.41" cy="461.38" r="6.7" fill="#008080"/><circle cx="760.57" cy="462.18" r="6.7" fill="#008080"/><circle cx="760.7" cy="462.84" r="6.7" fill="#008080"/><circle cx="760.81" cy="463.38" r="6.7" fill="#008080"/><circle cx="761.34" cy="466" r="6.7" fill="#008080"/><circle cx="240.66" cy="411.23" r="6.9" fill="#00FF00"/><circle cx="232.18" cy="417" r="6.9" fill="#00FF00"/><circle cx="224.88" cy="422.54" r="6.9" fill="#00FF00"/><circle cx="218.47" cy="427.62" r="6.9" fill="#00FF00"/><circle cx="212.8" cy="432.25" r="6.9" fill="#00FF00"/><circle cx="207.75" cy="436.4" r="6.9" fill="#00FF00"/><circle cx="203.22" cy="440.09" r="6.9" fill="#00FF00"/><circle cx="199.38" cy="443.62" r="6.9" fill="#00FF00"/><circle cx="196.11" cy="446.95" r="6.9" fill="#00FF00"/><circle cx="193.27" cy="450" r="6.9" fill="#00FF00"/><circle cx="190.88" cy="452.85" r="6.9" fill="#00FF00"/><circle cx="188.92" cy="455.54" r="6.9" fill="#00FF00"/><circle cx="187.42" cy="458.11" r="6.9" fill="#00FF00"/><circle cx="186.27" cy="460.51" r="6.9" fill="#00FF00"/><circle cx="185.39" cy="462.71" r="6.9" fill="#00FF00"/><circle cx="184.67" cy="464.71" r="6.9" fill="#00FF00"/><circle cx="184.08" cy="466.51" r="6.9" fill="#00FF00"/><circle cx="183.58" cy="468.13" r="6.9" fill="#00FF00"/><circle cx="183.13" cy="469.57" r="6.9" fill="#00FF00"/><circle cx="182.74" cy="470.87" r="6.9" fill="#00FF00"/><circle cx="182.43" cy="472.04" r="6.9" fill="#00FF00"/><circle cx="182.18" cy="473.09" r="6.9" fill="#00FF00"/><circle cx="181.97" cy="474.03" r="6.9" fill="#00FF00"/><circle cx="181.79" cy="474.87" r="6.9" fill="#00FF00"/><circle cx="181.64" cy="475.63" r="6.9" fill="#00FF00"/><circle cx="181.51" cy="476.31" r="6.9" fill="#00FF00"/><circle cx="181.4" cy="476.91" r="6.9" fill="#00FF00"/><circle cx="181.3" cy="477.45" r="6.9" fill="#00FF00"/><circle cx="180.5" cy="482" r="6.9" fill="#00FF00"/><circle cx="249.8" cy="404.3" r="6.9" fill="#00FF00"/><circle cx="261.1" cy="398.2" r="6.9" fill="#00FF00"/><circle cx="272.5" cy="391.4" r="6.9" fill="#00FF00"/><circle cx="286.1" cy="385.4" r="6.9" fill="#00FF00"/><circle cx="300.4" cy="377.8" r="6.9" fill="#00FF00"/><circle cx="317" cy="370.3" r="6.9" fill="#00FF00"/><circle cx="335.2" cy="362" r="6.9" fill="#00FF00"/><circle cx="355.6" cy="354.4" r="6.9" fill="#00FF00"/><circle cx="378.2" cy="346.8" r="6.9" fill="#00FF00"/><circle cx="403.2" cy="339" r="6.9" fill="#00FF00"/><circle cx="431.1" cy="331.7" r="6.9" fill="#00FF00"/><circle cx="460.6" cy="326.9" r="6.9" fill="#00FF00"/><circle cx="492.6" cy="324.3" r="6.9" fill="#00FF00"/><circle cx="526.9" cy="323.8" r="6.9" fill="#00FF00"/><circle cx="560.3" cy="326.8" r="6.9" fill="#00FF00"/><circle cx="593.1" cy="332" r="6.9" fill="#00FF00"/><circle cx="623.6" cy="339.4" r="6.9" fill="#00FF00"/><circle cx="651.1" cy="349.8" r="6.9" fill="#00FF00"/><circle cx="674.9" cy="361" r="6.9" fill="#00FF00"/><circle cx="694.2" cy="372.9" r="6.9" fill="#00FF00"/><circle cx="710.6" cy="384.1" r="6.9" fill="#00FF00"/><circle cx="722.5" cy="396" r="6.9" fill="#00FF00"/><circle cx="732.47" cy="405.72" r="6.9" fill="#00FF00"/><circle cx="739.45" cy="414.87" r="6.9" fill="#00FF00"/><circle cx="744.31" cy="423.07" r="6.9" fill="#00FF00"/><circle cx="747.69" cy="430.19" r="6.9" fill="#00FF00"/><circle cx="750.24" cy="436.2" r="6.9" fill="#00FF00"/><circle cx="752.17" cy="441.25" r="6.9" fill="#00FF00"/><circle cx="753.75" cy="445.43" r="6.9" fill="#00FF00"/><circle cx="755.05" cy="448.89" r="6.9" fill="#00FF00"/><circle cx="756.09" cy="451.77" r="6.9" fill="#00FF00"/><circle cx="756.89" cy="454.17" r="6.9" fill="#00FF00"/><circle cx="757.47" cy="456.18" r="6.9" fill="#00FF00"/><circle cx="757.9" cy="457.86" r="6.9" fill="#00FF00"/><circle cx="758.22" cy="459.26" r="6.9" fill="#00FF00"/><circle cx="758.47" cy="460.42" r="6.9" fill="#00FF00"/><circle cx="758.68" cy="461.38" r="6.9" fill="#00FF00"/><circle cx="758.84" cy="462.18" r="6.9" fill="#00FF00"/><circle cx="758.97" cy="462.84" r="6.9" fill="#00FF00"/><circle cx="759.08" cy="463.38" r="6.9" fill="#00FF00"/><circle cx="759.6" cy="466" r="6.9" fill="#00FF00"/><text x="149.75" y="747" font-size="46">0.0</text><text x="247.26" y="747" font-size="46">0.1</text><text x="344.26" y="747" font-size="46">0.2</text><text x="441.26" y="747" font-size="46">0.3</text><text x="538.1" y="747" font-size="46">0.4</text><text x="635.72" y="747" font-size="46">0.5</text><text x="732.75" y="747" font-size="46">0.6</text><text x="829.84" y="747" font-size="46">0.7</text><text x="927.24" y="747" font-size="46">0.8</text><text x="1024.51" y="747" font-size="46">0.9</text><text x="101.35" y="70.15" font-size="46">0.6</text><text x="100.85" y="208.8" font-size="46">0.4</text><text x="101.98" y="344.4" font-size="46">0.2</text><text x="101.75" y="483" font-size="46">0.0</text><text x="86.66" y="618.6" font-size="46">-0.2</text><g><text x="467.51" y="811.1" font-size="62.5">Z</text><text transform="translate(512.69 824.35) scale(1 1.7)" font-size="50">'</text><text x="542.25" y="811.1" font-size="62.5" font-weight="normal">(</text><text x="562.7" y="811.1" font-size="63.75" font-weight="normal">Ω</text><text x="627.36" y="811.1" font-size="62.5">cm</text><text x="705.39" y="774.9" font-size="36">2</text><text x="725.03" y="811.1" font-size="62.5" font-weight="normal">)</text></g><g transform="translate(80.5 507.4) rotate(-90)"><text x="-2.34" y="0" font-size="64">-</text><text x="19.04" y="0" font-size="64">Z</text><text transform="translate(64.6 13.57) scale(1 1.7)" font-size="51.2">'</text><text transform="translate(81.4 13.57) scale(1 1.7)" font-size="51.2">'</text><text x="114.09" y="0" font-size="64">(</text><text x="137.72" y="0" font-size="65.28" font-weight="normal">Ω</text><text x="198.91" y="0" font-size="64">cm</text><text x="281.6" y="-35.8" font-size="38">2</text><text x="302.6" y="0" font-size="64">)</text></g><text x="192.68" y="118.07" font-size="57.3" letter-spacing="1.1">(a)</text><text x="780.5" y="121.3" font-size="41.2">LSCF-6428</text><text x="780.16" y="187.2" font-size="44" font-weight="normal">@</text><text x="828.4" y="185.9" font-size="41">650</text><text x="902.01" y="163.9" font-size="26">o</text><text x="912.7" y="185.9" font-size="41">C</text><text x="328.11" y="174.3" font-size="37" letter-spacing="0.1">after recovered</text><text x="320.32" y="425.2" font-size="37">50% CO<tspan dy="11" font-size="22">2</tspan><tspan dy="-11" font-size="37">-air</tspan></text><text x="327.99" y="629.1" font-size="37.5">air</text><path d="M773.7 258.02L781.2 271.07L766.2 271.07Z" fill="#0000FF"/><path d="M927.4 275.18L934.9 262.13L919.9 262.13Z" fill="#008000"/><path d="M774.4 315.4L776.13 320.02L781.06 320.24L777.2 323.31L778.51 328.06L774.4 325.34L770.29 328.06L771.6 323.31L767.74 320.24L772.67 320.02Z" fill="#000000"/><path d="M935.44 322.4L922.82 329.65L922.82 315.15Z" fill="#FF00FF"/><circle cx="774.4" cy="378.9" r="6.7" fill="#008080"/><circle cx="927.4" cy="379.2" r="6.9" fill="#00FF00"/><text x="823.4" y="282.4" font-size="32.5">10h</text><text x="976.64" y="282.4" font-size="32.5">20h</text><text x="824.08" y="337.7" font-size="32.5">30h</text><text x="977.56" y="337.7" font-size="32.5">40h</text><text x="824" y="393.5" font-size="32.5">50h</text><text x="976.89" y="393.5" font-size="32.5">60h</text></g><g font-family="'Liberation Serif','Times New Roman',serif" font-weight="bold"><line x1="1249" y1="290.8" x2="2100" y2="290.8" stroke="#8f8f8f" stroke-width="3.4"/><line x1="1249" y1="516.3" x2="2100" y2="516.3" stroke="#8f8f8f" stroke-width="3.4"/><rect x="1245.5" y="62.2" width="857.8" height="625.6" fill="none" stroke="#000" stroke-width="6.2"/><g stroke="#000" stroke-width="5.2"><line x1="1367.6" y1="687.8" x2="1367.6" y2="667"/><line x1="1490.1" y1="687.8" x2="1490.1" y2="667"/><line x1="1612.6" y1="687.8" x2="1612.6" y2="667"/><line x1="1735.1" y1="687.8" x2="1735.1" y2="667"/><line x1="1857.6" y1="687.8" x2="1857.6" y2="667"/><line x1="1980.1" y1="687.8" x2="1980.1" y2="667"/><line x1="1306.35" y1="687.8" x2="1306.35" y2="676.6"/><line x1="1428.85" y1="687.8" x2="1428.85" y2="676.6"/><line x1="1551.35" y1="687.8" x2="1551.35" y2="676.6"/><line x1="1673.85" y1="687.8" x2="1673.85" y2="676.6"/><line x1="1796.35" y1="687.8" x2="1796.35" y2="676.6"/><line x1="1918.85" y1="687.8" x2="1918.85" y2="676.6"/><line x1="2041.35" y1="687.8" x2="2041.35" y2="676.6"/></g><circle cx="1322.21" cy="218.99" r="6.3" fill="#FF0080"/><circle cx="1312.79" cy="225.22" r="6.3" fill="#FF0080"/><circle cx="1304.39" cy="230.73" r="6.3" fill="#FF0080"/><circle cx="1297.08" cy="235.83" r="6.3" fill="#FF0080"/><circle cx="1290.65" cy="240.46" r="6.3" fill="#FF0080"/><circle cx="1284.99" cy="244.65" r="6.3" fill="#FF0080"/><circle cx="1280.08" cy="248.53" r="6.3" fill="#FF0080"/><circle cx="1275.82" cy="252.1" r="6.3" fill="#FF0080"/><circle cx="1272.11" cy="255.36" r="6.3" fill="#FF0080"/><circle cx="1268.88" cy="258.33" r="6.3" fill="#FF0080"/><circle cx="1266.05" cy="261.02" r="6.3" fill="#FF0080"/><circle cx="1263.57" cy="263.43" r="6.3" fill="#FF0080"/><circle cx="1261.39" cy="265.61" r="6.3" fill="#FF0080"/><circle cx="1259.49" cy="267.58" r="6.3" fill="#FF0080"/><circle cx="1257.85" cy="269.37" r="6.3" fill="#FF0080"/><circle cx="1256.46" cy="271.02" r="6.3" fill="#FF0080"/><circle cx="1255.29" cy="272.54" r="6.3" fill="#FF0080"/><circle cx="1254.32" cy="273.94" r="6.3" fill="#FF0080"/><circle cx="1253.49" cy="275.2" r="6.3" fill="#FF0080"/><circle cx="1252.76" cy="276.33" r="6.3" fill="#FF0080"/><circle cx="1252.11" cy="277.34" r="6.3" fill="#FF0080"/><circle cx="1251.53" cy="278.23" r="6.3" fill="#FF0080"/><circle cx="1251.02" cy="279.03" r="6.3" fill="#FF0080"/><circle cx="1250.58" cy="279.74" r="6.3" fill="#FF0080"/><circle cx="1250.2" cy="280.38" r="6.3" fill="#FF0080"/><circle cx="1249.86" cy="280.94" r="6.3" fill="#FF0080"/><circle cx="1249.56" cy="281.45" r="6.3" fill="#FF0080"/><circle cx="1249.29" cy="281.9" r="6.3" fill="#FF0080"/><circle cx="1247.2" cy="285.5" r="6.3" fill="#FF0080"/><circle cx="1332.7" cy="211.8" r="6.3" fill="#FF0080"/><circle cx="1344.7" cy="204" r="6.3" fill="#FF0080"/><circle cx="1361.8" cy="194.9" r="6.3" fill="#FF0080"/><circle cx="1378" cy="187" r="6.3" fill="#FF0080"/><circle cx="1395.7" cy="178.5" r="6.3" fill="#FF0080"/><circle cx="1416.3" cy="171.2" r="6.3" fill="#FF0080"/><circle cx="1438.6" cy="163.4" r="6.3" fill="#FF0080"/><circle cx="1463.1" cy="157.6" r="6.3" fill="#FF0080"/><circle cx="1490.5" cy="151.6" r="6.3" fill="#FF0080"/><circle cx="1519.4" cy="148.5" r="6.3" fill="#FF0080"/><circle cx="1549.3" cy="147.7" r="6.3" fill="#FF0080"/><circle cx="1579.8" cy="149.3" r="6.3" fill="#FF0080"/><circle cx="1609.2" cy="153" r="6.3" fill="#FF0080"/><circle cx="1637.8" cy="159.5" r="6.3" fill="#FF0080"/><circle cx="1663.9" cy="168" r="6.3" fill="#FF0080"/><circle cx="1686.5" cy="178.5" r="6.3" fill="#FF0080"/><circle cx="1705.2" cy="188.9" r="6.3" fill="#FF0080"/><circle cx="1720.7" cy="200.7" r="6.3" fill="#FF0080"/><circle cx="1732.8" cy="210.6" r="6.3" fill="#FF0080"/><circle cx="1743" cy="221.2" r="6.3" fill="#FF0080"/><circle cx="1750.91" cy="230.39" r="6.3" fill="#FF0080"/><circle cx="1757.11" cy="238.24" r="6.3" fill="#FF0080"/><circle cx="1761.31" cy="245.33" r="6.3" fill="#FF0080"/><circle cx="1763.92" cy="251.61" r="6.3" fill="#FF0080"/><circle cx="1766.09" cy="256.78" r="6.3" fill="#FF0080"/><circle cx="1767.76" cy="261.09" r="6.3" fill="#FF0080"/><circle cx="1768.91" cy="264.72" r="6.3" fill="#FF0080"/><circle cx="1769.68" cy="267.77" r="6.3" fill="#FF0080"/><circle cx="1770.06" cy="270.33" r="6.3" fill="#FF0080"/><circle cx="1770.16" cy="272.47" r="6.3" fill="#FF0080"/><circle cx="1770.13" cy="274.23" r="6.3" fill="#FF0080"/><circle cx="1770.07" cy="275.68" r="6.3" fill="#FF0080"/><circle cx="1770" cy="276.88" r="6.3" fill="#FF0080"/><circle cx="1769.94" cy="277.87" r="6.3" fill="#FF0080"/><circle cx="1769.88" cy="278.68" r="6.3" fill="#FF0080"/><circle cx="1769.83" cy="279.35" r="6.3" fill="#FF0080"/><circle cx="1769.78" cy="279.9" r="6.3" fill="#FF0080"/><circle cx="1769.6" cy="282.5" r="6.3" fill="#FF0080"/><rect x="1318.62" y="613.22" width="11.8" height="11.8" fill="#FF0000"/><rect x="1309.08" y="620.18" width="11.8" height="11.8" fill="#FF0000"/><rect x="1300.36" y="625.84" width="11.8" height="11.8" fill="#FF0000"/><rect x="1292.76" y="630.93" width="11.8" height="11.8" fill="#FF0000"/><rect x="1286.17" y="635.54" width="11.8" height="11.8" fill="#FF0000"/><rect x="1280.38" y="639.63" width="11.8" height="11.8" fill="#FF0000"/><rect x="1275.47" y="643.46" width="11.8" height="11.8" fill="#FF0000"/><rect x="1271.42" y="647.16" width="11.8" height="11.8" fill="#FF0000"/><rect x="1267.94" y="650.51" width="11.8" height="11.8" fill="#FF0000"/><rect x="1264.87" y="653.44" width="11.8" height="11.8" fill="#FF0000"/><rect x="1262.15" y="656.01" width="11.8" height="11.8" fill="#FF0000"/><rect x="1259.79" y="658.3" width="11.8" height="11.8" fill="#FF0000"/><rect x="1257.75" y="660.36" width="11.8" height="11.8" fill="#FF0000"/><rect x="1255.98" y="662.19" width="11.8" height="11.8" fill="#FF0000"/><rect x="1254.44" y="663.82" width="11.8" height="11.8" fill="#FF0000"/><rect x="1253.1" y="665.27" width="11.8" height="11.8" fill="#FF0000"/><rect x="1251.94" y="666.56" width="11.8" height="11.8" fill="#FF0000"/><rect x="1250.93" y="667.71" width="11.8" height="11.8" fill="#FF0000"/><rect x="1250.07" y="668.74" width="11.8" height="11.8" fill="#FF0000"/><rect x="1249.32" y="669.66" width="11.8" height="11.8" fill="#FF0000"/><rect x="1248.68" y="670.48" width="11.8" height="11.8" fill="#FF0000"/><rect x="1248.12" y="671.21" width="11.8" height="11.8" fill="#FF0000"/><rect x="1247.63" y="671.85" width="11.8" height="11.8" fill="#FF0000"/><rect x="1247.2" y="672.42" width="11.8" height="11.8" fill="#FF0000"/><rect x="1246.83" y="672.92" width="11.8" height="11.8" fill="#FF0000"/><rect x="1246.5" y="673.36" width="11.8" height="11.8" fill="#FF0000"/><rect x="1244.1" y="676.6" width="11.8" height="11.8" fill="#FF0000"/><rect x="1329.8" y="605.8" width="11.8" height="11.8" fill="#FF0000"/><rect x="1343.4" y="598.9" width="11.8" height="11.8" fill="#FF0000"/><rect x="1361" y="590.4" width="11.8" height="11.8" fill="#FF0000"/><rect x="1378.4" y="582.4" width="11.8" height="11.8" fill="#FF0000"/><rect x="1396.8" y="575.7" width="11.8" height="11.8" fill="#FF0000"/><rect x="1418.3" y="569.1" width="11.8" height="11.8" fill="#FF0000"/><rect x="1440.8" y="563.8" width="11.8" height="11.8" fill="#FF0000"/><rect x="1464.2" y="559" width="11.8" height="11.8" fill="#FF0000"/><rect x="1491.1" y="557.1" width="11.8" height="11.8" fill="#FF0000"/><rect x="1518.1" y="556.6" width="11.8" height="11.8" fill="#FF0000"/><rect x="1545.4" y="558.3" width="11.8" height="11.8" fill="#FF0000"/><rect x="1571.8" y="562.4" width="11.8" height="11.8" fill="#FF0000"/><rect x="1596.7" y="569.1" width="11.8" height="11.8" fill="#FF0000"/><rect x="1618.5" y="577.1" width="11.8" height="11.8" fill="#FF0000"/><rect x="1638.3" y="586.6" width="11.8" height="11.8" fill="#FF0000"/><rect x="1654.5" y="596.3" width="11.8" height="11.8" fill="#FF0000"/><rect x="1667.9" y="606.4" width="11.8" height="11.8" fill="#FF0000"/><rect x="1678.4" y="615.4" width="11.8" height="11.8" fill="#FF0000"/><rect x="1687.4" y="625" width="11.8" height="11.8" fill="#FF0000"/><rect x="1694.12" y="633.45" width="11.8" height="11.8" fill="#FF0000"/><rect x="1699.68" y="640.34" width="11.8" height="11.8" fill="#FF0000"/><rect x="1703.69" y="646.39" width="11.8" height="11.8" fill="#FF0000"/><rect x="1706.48" y="651.66" width="11.8" height="11.8" fill="#FF0000"/><rect x="1708.58" y="656.08" width="11.8" height="11.8" fill="#FF0000"/><rect x="1710.23" y="659.74" width="11.8" height="11.8" fill="#FF0000"/><rect x="1711.57" y="662.75" width="11.8" height="11.8" fill="#FF0000"/><rect x="1712.64" y="665.22" width="11.8" height="11.8" fill="#FF0000"/><rect x="1713.49" y="667.27" width="11.8" height="11.8" fill="#FF0000"/><rect x="1714.15" y="668.96" width="11.8" height="11.8" fill="#FF0000"/><rect x="1714.67" y="670.36" width="11.8" height="11.8" fill="#FF0000"/><rect x="1715.08" y="671.51" width="11.8" height="11.8" fill="#FF0000"/><rect x="1715.41" y="672.46" width="11.8" height="11.8" fill="#FF0000"/><rect x="1715.68" y="673.24" width="11.8" height="11.8" fill="#FF0000"/><rect x="1715.9" y="673.88" width="11.8" height="11.8" fill="#FF0000"/><rect x="1716.08" y="674.4" width="11.8" height="11.8" fill="#FF0000"/><rect x="1716.9" y="676.8" width="11.8" height="11.8" fill="#FF0000"/><path d="M1315.02 438.07L1322.52 451.12L1307.52 451.12Z" fill="#0000FF"/><path d="M1306.52 444.7L1314.02 457.75L1299.02 457.75Z" fill="#0000FF"/><path d="M1298.57 449.95L1306.07 463L1291.07 463Z" fill="#0000FF"/><path d="M1291.73 454.91L1299.23 467.96L1284.23 467.96Z" fill="#0000FF"/><path d="M1286.01 459.8L1293.51 472.85L1278.51 472.85Z" fill="#0000FF"/><path d="M1280.93 464.13L1288.43 477.18L1273.43 477.18Z" fill="#0000FF"/><path d="M1276.44 467.97L1283.94 481.02L1268.94 481.02Z" fill="#0000FF"/><path d="M1272.59 471.54L1280.09 484.59L1265.09 484.59Z" fill="#0000FF"/><path d="M1269.32 474.87L1276.82 487.92L1261.82 487.92Z" fill="#0000FF"/><path d="M1266.47 477.86L1273.97 490.91L1258.97 490.91Z" fill="#0000FF"/><path d="M1263.91 480.49L1271.41 493.54L1256.41 493.54Z" fill="#0000FF"/><path d="M1261.56 482.72L1269.06 495.77L1254.06 495.77Z" fill="#0000FF"/><path d="M1259.4 484.61L1266.9 497.66L1251.9 497.66Z" fill="#0000FF"/><path d="M1257.49 486.29L1264.99 499.34L1249.99 499.34Z" fill="#0000FF"/><path d="M1255.84 487.82L1263.34 500.87L1248.34 500.87Z" fill="#0000FF"/><path d="M1254.44 489.25L1261.94 502.3L1246.94 502.3Z" fill="#0000FF"/><path d="M1253.28 490.61L1260.78 503.66L1245.78 503.66Z" fill="#0000FF"/><path d="M1252.34 491.88L1259.84 504.93L1244.84 504.93Z" fill="#0000FF"/><path d="M1251.57 493.06L1259.07 506.11L1244.07 506.11Z" fill="#0000FF"/><path d="M1250.92 494.13L1258.42 507.18L1243.42 507.18Z" fill="#0000FF"/><path d="M1250.38 495.1L1257.88 508.15L1242.88 508.15Z" fill="#0000FF"/><path d="M1249.91 495.96L1257.41 509.01L1242.41 509.01Z" fill="#0000FF"/><path d="M1249.5 496.73L1257 509.78L1242 509.78Z" fill="#0000FF"/><path d="M1249.14 497.42L1256.64 510.47L1241.64 510.47Z" fill="#0000FF"/><path d="M1248.83 498.03L1256.33 511.08L1241.33 511.08Z" fill="#0000FF"/><path d="M1248.56 498.58L1256.06 511.63L1241.06 511.63Z" fill="#0000FF"/><path d="M1248.32 499.06L1255.82 512.11L1240.82 512.11Z" fill="#0000FF"/><path d="M1246.45 502.82L1253.95 515.87L1238.95 515.87Z" fill="#0000FF"/><path d="M1324.43 430.32L1331.93 443.37L1316.93 443.37Z" fill="#0000FF"/><path d="M1336.51 424.02L1344.01 437.07L1329.01 437.07Z" fill="#0000FF"/><path d="M1348.49 416.12L1355.99 429.17L1340.99 429.17Z" fill="#0000FF"/><path d="M1366.56 405.82L1374.06 418.87L1359.06 418.87Z" fill="#0000FF"/><path d="M1383.11 397.12L1390.61 410.17L1375.61 410.17Z" fill="#0000FF"/><path d="M1401.84 388.42L1409.34 401.47L1394.34 401.47Z" fill="#0000FF"/><path d="M1422.96 379.72L1430.46 392.77L1415.46 392.77Z" fill="#0000FF"/><path d="M1446.26 371.52L1453.76 384.57L1438.76 384.57Z" fill="#0000FF"/><path d="M1471.74 363.62L1479.24 376.67L1464.24 376.67Z" fill="#0000FF"/><path d="M1499.61 357.92L1507.11 370.97L1492.11 370.97Z" fill="#0000FF"/><path d="M1531.18 352.52L1538.68 365.57L1523.68 365.57Z" fill="#0000FF"/><path d="M1563.7 350.32L1571.2 363.37L1556.2 363.37Z" fill="#0000FF"/><path d="M1597.66 350.32L1605.16 363.37L1590.16 363.37Z" fill="#0000FF"/><path d="M1630.18 353.32L1637.68 366.37L1622.68 366.37Z" fill="#0000FF"/><path d="M1662.7 359.22L1670.2 372.27L1655.2 372.27Z" fill="#0000FF"/><path d="M1693.14 367.42L1700.64 380.47L1685.64 380.47Z" fill="#0000FF"/><path d="M1720.05 377.82L1727.55 390.87L1712.55 390.87Z" fill="#0000FF"/><path d="M1743.35 389.02L1750.85 402.07L1735.85 402.07Z" fill="#0000FF"/><path d="M1762.46 401.62L1769.96 414.67L1754.96 414.67Z" fill="#0000FF"/><path d="M1777.3 413.52L1784.8 426.57L1769.8 426.57Z" fill="#0000FF"/><path d="M1788.62 424.72L1796.12 437.77L1781.12 437.77Z" fill="#0000FF"/><path d="M1796.08 435.96L1803.58 449.01L1788.58 449.01Z" fill="#0000FF"/><path d="M1802.15 445.53L1809.65 458.58L1794.65 458.58Z" fill="#0000FF"/><path d="M1807.04 453.7L1814.54 466.75L1799.54 466.75Z" fill="#0000FF"/><path d="M1810.93 460.68L1818.43 473.73L1803.43 473.73Z" fill="#0000FF"/><path d="M1813.87 466.73L1821.37 479.78L1806.37 479.78Z" fill="#0000FF"/><path d="M1816.22 471.86L1823.72 484.91L1808.72 484.91Z" fill="#0000FF"/><path d="M1818.27 476.13L1825.77 489.18L1810.77 489.18Z" fill="#0000FF"/><path d="M1820.01 479.7L1827.51 492.75L1812.51 492.75Z" fill="#0000FF"/><path d="M1821.43 482.71L1828.93 495.76L1813.93 495.76Z" fill="#0000FF"/><path d="M1822.58 485.26L1830.08 498.31L1815.08 498.31Z" fill="#0000FF"/><path d="M1823.49 487.43L1830.99 500.48L1815.99 500.48Z" fill="#0000FF"/><path d="M1824.23 489.26L1831.73 502.31L1816.73 502.31Z" fill="#0000FF"/><path d="M1824.84 490.79L1832.34 503.84L1817.34 503.84Z" fill="#0000FF"/><path d="M1825.36 492.08L1832.86 505.13L1817.86 505.13Z" fill="#0000FF"/><path d="M1825.78 493.17L1833.28 506.22L1818.28 506.22Z" fill="#0000FF"/><path d="M1826.14 494.08L1833.64 507.13L1818.64 507.13Z" fill="#0000FF"/><path d="M1826.43 494.84L1833.93 507.89L1818.93 507.89Z" fill="#0000FF"/><path d="M1826.68 495.48L1834.18 508.53L1819.18 508.53Z" fill="#0000FF"/><path d="M1826.89 496.02L1834.39 509.07L1819.39 509.07Z" fill="#0000FF"/><path d="M1827.99 498.82L1835.49 511.87L1820.49 511.87Z" fill="#0000FF"/><path d="M1316.78 452.42L1324.28 439.37L1309.28 439.37Z" fill="#008000"/><path d="M1308.06 459.05L1315.56 446L1300.56 446Z" fill="#008000"/><path d="M1299.91 464.3L1307.41 451.25L1292.41 451.25Z" fill="#008000"/><path d="M1292.9 469.27L1300.4 456.22L1285.4 456.22Z" fill="#008000"/><path d="M1287.03 474.16L1294.53 461.11L1279.53 461.11Z" fill="#008000"/><path d="M1281.82 478.48L1289.32 465.43L1274.32 465.43Z" fill="#008000"/><path d="M1277.22 482.32L1284.72 469.27L1269.72 469.27Z" fill="#008000"/><path d="M1273.27 485.89L1280.77 472.84L1265.77 472.84Z" fill="#008000"/><path d="M1269.92 489.22L1277.42 476.17L1262.42 476.17Z" fill="#008000"/><path d="M1267 492.22L1274.5 479.17L1259.5 479.17Z" fill="#008000"/><path d="M1264.37 494.84L1271.87 481.79L1256.87 481.79Z" fill="#008000"/><path d="M1261.96 497.07L1269.46 484.02L1254.46 484.02Z" fill="#008000"/><path d="M1259.75 498.97L1267.25 485.92L1252.25 485.92Z" fill="#008000"/><path d="M1257.8 500.64L1265.3 487.59L1250.3 487.59Z" fill="#008000"/><path d="M1256.1 502.18L1263.6 489.13L1248.6 489.13Z" fill="#008000"/><path d="M1254.67 503.61L1262.17 490.56L1247.17 490.56Z" fill="#008000"/><path d="M1253.48 504.96L1260.98 491.91L1245.98 491.91Z" fill="#008000"/><path d="M1252.51 506.24L1260.01 493.19L1245.01 493.19Z" fill="#008000"/><path d="M1251.72 507.42L1259.22 494.37L1244.22 494.37Z" fill="#008000"/><path d="M1251.06 508.49L1258.56 495.44L1243.56 495.44Z" fill="#008000"/><path d="M1250.5 509.45L1258 496.4L1243 496.4Z" fill="#008000"/><path d="M1250.02 510.32L1257.52 497.27L1242.52 497.27Z" fill="#008000"/><path d="M1249.6 511.09L1257.1 498.04L1242.1 498.04Z" fill="#008000"/><path d="M1249.23 511.78L1256.73 498.73L1241.73 498.73Z" fill="#008000"/><path d="M1248.92 512.39L1256.42 499.34L1241.42 499.34Z" fill="#008000"/><path d="M1248.64 512.93L1256.14 499.88L1241.14 499.88Z" fill="#008000"/><path d="M1248.39 513.42L1255.89 500.37L1240.89 500.37Z" fill="#008000"/><path d="M1246.47 517.18L1253.97 504.13L1238.97 504.13Z" fill="#008000"/><path d="M1326.42 444.68L1333.92 431.63L1318.92 431.63Z" fill="#008000"/><path d="M1338.81 438.38L1346.31 425.33L1331.31 425.33Z" fill="#008000"/><path d="M1351.09 430.48L1358.59 417.43L1343.59 417.43Z" fill="#008000"/><path d="M1369.62 420.18L1377.12 407.13L1362.12 407.13Z" fill="#008000"/><path d="M1386.58 411.48L1394.08 398.43L1379.08 398.43Z" fill="#008000"/><path d="M1405.79 402.78L1413.29 389.73L1398.29 389.73Z" fill="#008000"/><path d="M1427.43 394.08L1434.93 381.03L1419.93 381.03Z" fill="#008000"/><path d="M1451.32 385.88L1458.82 372.83L1443.82 372.83Z" fill="#008000"/><path d="M1477.45 377.98L1484.95 364.93L1469.95 364.93Z" fill="#008000"/><path d="M1506.02 372.28L1513.52 359.23L1498.52 359.23Z" fill="#008000"/><path d="M1538.39 366.88L1545.89 353.83L1530.89 353.83Z" fill="#008000"/><path d="M1571.73 364.68L1579.23 351.63L1564.23 351.63Z" fill="#008000"/><path d="M1606.54 364.68L1614.04 351.63L1599.04 351.63Z" fill="#008000"/><path d="M1639.89 367.68L1647.39 354.63L1632.39 354.63Z" fill="#008000"/><path d="M1673.23 373.58L1680.73 360.53L1665.73 360.53Z" fill="#008000"/><path d="M1704.43 381.78L1711.93 368.73L1696.93 368.73Z" fill="#008000"/><path d="M1732.03 392.18L1739.53 379.13L1724.53 379.13Z" fill="#008000"/><path d="M1755.91 403.38L1763.41 390.33L1748.41 390.33Z" fill="#008000"/><path d="M1775.51 415.98L1783.01 402.93L1768.01 402.93Z" fill="#008000"/><path d="M1790.72 427.88L1798.22 414.83L1783.22 414.83Z" fill="#008000"/><path d="M1802.32 439.08L1809.82 426.03L1794.82 426.03Z" fill="#008000"/><path d="M1809.97 450.32L1817.47 437.27L1802.47 437.27Z" fill="#008000"/><path d="M1816.2 459.89L1823.7 446.84L1808.7 446.84Z" fill="#008000"/><path d="M1821.21 468.05L1828.71 455L1813.71 455Z" fill="#008000"/><path d="M1825.2 475.04L1832.7 461.99L1817.7 461.99Z" fill="#008000"/><path d="M1828.21 481.08L1835.71 468.03L1820.71 468.03Z" fill="#008000"/><path d="M1830.62 486.22L1838.12 473.17L1823.12 473.17Z" fill="#008000"/><path d="M1832.72 490.49L1840.22 477.44L1825.22 477.44Z" fill="#008000"/><path d="M1834.51 494.05L1842.01 481L1827.01 481Z" fill="#008000"/><path d="M1835.97 497.06L1843.47 484.01L1828.47 484.01Z" fill="#008000"/><path d="M1837.14 499.62L1844.64 486.57L1829.64 486.57Z" fill="#008000"/><path d="M1838.07 501.79L1845.57 488.74L1830.57 488.74Z" fill="#008000"/><path d="M1838.84 503.61L1846.34 490.56L1831.34 490.56Z" fill="#008000"/><path d="M1839.47 505.15L1846.97 492.1L1831.97 492.1Z" fill="#008000"/><path d="M1839.99 506.44L1847.49 493.39L1832.49 493.39Z" fill="#008000"/><path d="M1840.43 507.52L1847.93 494.47L1832.93 494.47Z" fill="#008000"/><path d="M1840.79 508.43L1848.29 495.38L1833.29 495.38Z" fill="#008000"/><path d="M1841.1 509.2L1848.6 496.15L1833.6 496.15Z" fill="#008000"/><path d="M1841.35 509.84L1848.85 496.79L1833.85 496.79Z" fill="#008000"/><path d="M1841.57 510.38L1849.07 497.33L1834.07 497.33Z" fill="#008000"/><path d="M1842.69 513.18L1850.19 500.13L1835.19 500.13Z" fill="#008000"/><path d="M1316.34 438.25L1318.07 442.87L1323 443.08L1319.14 446.15L1320.46 450.91L1316.34 448.19L1312.23 450.91L1313.54 446.15L1309.68 443.08L1314.61 442.87Z" fill="#000000"/><path d="M1307.67 444.88L1309.4 449.5L1314.33 449.71L1310.47 452.78L1311.79 457.54L1307.67 454.82L1303.56 457.54L1304.88 452.78L1301.01 449.71L1305.94 449.5Z" fill="#000000"/><path d="M1299.58 450.13L1301.3 454.75L1306.23 454.96L1302.37 458.03L1303.69 462.79L1299.58 460.07L1295.46 462.79L1296.78 458.03L1292.92 454.96L1297.85 454.75Z" fill="#000000"/><path d="M1292.6 455.09L1294.33 459.71L1299.26 459.93L1295.4 463L1296.72 467.75L1292.6 465.03L1288.49 467.75L1289.81 463L1285.95 459.93L1290.88 459.71Z" fill="#000000"/><path d="M1286.78 459.98L1288.5 464.6L1293.43 464.82L1289.57 467.89L1290.89 472.64L1286.78 469.92L1282.66 472.64L1283.98 467.89L1280.12 464.82L1285.05 464.6Z" fill="#000000"/><path d="M1281.6 464.3L1283.33 468.92L1288.26 469.14L1284.4 472.21L1285.71 476.97L1281.6 474.24L1277.49 476.97L1278.8 472.21L1274.94 469.14L1279.87 468.92Z" fill="#000000"/><path d="M1277.02 468.15L1278.75 472.77L1283.68 472.98L1279.82 476.06L1281.14 480.81L1277.02 478.09L1272.91 480.81L1274.23 476.06L1270.36 472.98L1275.29 472.77Z" fill="#000000"/><path d="M1273.1 471.72L1274.83 476.34L1279.76 476.55L1275.9 479.63L1277.21 484.38L1273.1 481.66L1268.99 484.38L1270.3 479.63L1266.44 476.55L1271.37 476.34Z" fill="#000000"/><path d="M1269.77 475.05L1271.5 479.67L1276.43 479.88L1272.57 482.96L1273.89 487.71L1269.77 484.99L1265.66 487.71L1266.98 482.96L1263.12 479.88L1268.04 479.67Z" fill="#000000"/><path d="M1266.86 478.04L1268.59 482.66L1273.52 482.88L1269.66 485.95L1270.98 490.71L1266.86 487.98L1262.75 490.71L1264.07 485.95L1260.21 482.88L1265.14 482.66Z" fill="#000000"/><path d="M1264.26 480.67L1265.99 485.29L1270.92 485.5L1267.05 488.57L1268.37 493.33L1264.26 490.61L1260.14 493.33L1261.46 488.57L1257.6 485.5L1262.53 485.29Z" fill="#000000"/><path d="M1261.86 482.9L1263.59 487.52L1268.52 487.73L1264.66 490.8L1265.98 495.56L1261.86 492.84L1257.75 495.56L1259.07 490.8L1255.2 487.73L1260.13 487.52Z" fill="#000000"/><path d="M1259.67 484.79L1261.39 489.41L1266.32 489.62L1262.46 492.7L1263.78 497.45L1259.67 494.73L1255.55 497.45L1256.87 492.7L1253.01 489.62L1257.94 489.41Z" fill="#000000"/><path d="M1257.72 486.46L1259.45 491.09L1264.38 491.3L1260.52 494.37L1261.83 499.13L1257.72 496.4L1253.61 499.13L1254.92 494.37L1251.06 491.3L1255.99 491.09Z" fill="#000000"/><path d="M1256.04 488L1257.76 492.62L1262.69 492.84L1258.83 495.91L1260.15 500.66L1256.04 497.94L1251.92 500.66L1253.24 495.91L1249.38 492.84L1254.31 492.62Z" fill="#000000"/><path d="M1254.61 489.43L1256.34 494.05L1261.27 494.27L1257.41 497.34L1258.72 502.1L1254.61 499.37L1250.49 502.1L1251.81 497.34L1247.95 494.27L1252.88 494.05Z" fill="#000000"/><path d="M1253.43 490.78L1255.16 495.41L1260.09 495.62L1256.22 498.69L1257.54 503.45L1253.43 500.72L1249.31 503.45L1250.63 498.69L1246.77 495.62L1251.7 495.41Z" fill="#000000"/><path d="M1252.47 492.06L1254.2 496.68L1259.13 496.9L1255.26 499.97L1256.58 504.72L1252.47 502L1248.35 504.72L1249.67 499.97L1245.81 496.9L1250.74 496.68Z" fill="#000000"/><path d="M1251.68 493.24L1253.41 497.86L1258.34 498.08L1254.48 501.15L1255.8 505.9L1251.68 503.18L1247.57 505.9L1248.89 501.15L1245.03 498.08L1249.96 497.86Z" fill="#000000"/><path d="M1251.03 494.31L1252.76 498.93L1257.68 499.15L1253.82 502.22L1255.14 506.97L1251.03 504.25L1246.91 506.97L1248.23 502.22L1244.37 499.15L1249.3 498.93Z" fill="#000000"/><path d="M1250.47 495.28L1252.2 499.9L1257.13 500.11L1253.27 503.18L1254.58 507.94L1250.47 505.22L1246.35 507.94L1247.67 503.18L1243.81 500.11L1248.74 499.9Z" fill="#000000"/><path d="M1249.99 496.14L1251.72 500.76L1256.65 500.98L1252.78 504.05L1254.1 508.8L1249.99 506.08L1245.87 508.8L1247.19 504.05L1243.33 500.98L1248.26 500.76Z" fill="#000000"/><path d="M1249.57 496.91L1251.3 501.53L1256.23 501.75L1252.37 504.82L1253.69 509.57L1249.57 506.85L1245.46 509.57L1246.78 504.82L1242.92 501.75L1247.84 501.53Z" fill="#000000"/><path d="M1249.21 497.6L1250.94 502.22L1255.87 502.44L1252.01 505.51L1253.33 510.26L1249.21 507.54L1245.1 510.26L1246.42 505.51L1242.55 502.44L1247.48 502.22Z" fill="#000000"/><path d="M1248.9 498.21L1250.62 502.83L1255.55 503.05L1251.69 506.12L1253.01 510.87L1248.9 508.15L1244.78 510.87L1246.1 506.12L1242.24 503.05L1247.17 502.83Z" fill="#000000"/><path d="M1248.62 498.75L1250.35 503.38L1255.28 503.59L1251.41 506.66L1252.73 511.42L1248.62 508.69L1244.5 511.42L1245.82 506.66L1241.96 503.59L1246.89 503.38Z" fill="#000000"/><path d="M1248.37 499.24L1250.1 503.86L1255.03 504.07L1251.17 507.15L1252.49 511.9L1248.37 509.18L1244.26 511.9L1245.58 507.15L1241.72 504.07L1246.65 503.86Z" fill="#000000"/><path d="M1246.47 503L1248.2 507.62L1253.13 507.84L1249.27 510.91L1250.58 515.66L1246.47 512.94L1242.35 515.66L1243.67 510.91L1239.81 507.84L1244.74 507.62Z" fill="#000000"/><path d="M1325.93 430.5L1327.66 435.12L1332.58 435.34L1328.72 438.41L1330.04 443.16L1325.93 440.44L1321.81 443.16L1323.13 438.41L1319.27 435.34L1324.2 435.12Z" fill="#000000"/><path d="M1338.23 424.2L1339.96 428.82L1344.89 429.04L1341.03 432.11L1342.35 436.86L1338.23 434.14L1334.12 436.86L1335.44 432.11L1331.58 429.04L1336.51 428.82Z" fill="#000000"/><path d="M1350.44 416.3L1352.17 420.92L1357.1 421.14L1353.24 424.21L1354.56 428.96L1350.44 426.24L1346.33 428.96L1347.65 424.21L1343.79 421.14L1348.71 420.92Z" fill="#000000"/><path d="M1368.85 406L1370.58 410.62L1375.51 410.84L1371.65 413.91L1372.97 418.66L1368.85 415.94L1364.74 418.66L1366.06 413.91L1362.2 410.84L1367.13 410.62Z" fill="#000000"/><path d="M1385.71 397.3L1387.44 401.92L1392.37 402.14L1388.51 405.21L1389.83 409.96L1385.71 407.24L1381.6 409.96L1382.92 405.21L1379.06 402.14L1383.99 401.92Z" fill="#000000"/><path d="M1404.8 388.6L1406.53 393.22L1411.46 393.44L1407.6 396.51L1408.92 401.26L1404.8 398.54L1400.69 401.26L1402.01 396.51L1398.15 393.44L1403.08 393.22Z" fill="#000000"/><path d="M1426.32 379.9L1428.04 384.52L1432.97 384.74L1429.11 387.81L1430.43 392.56L1426.32 389.84L1422.2 392.56L1423.52 387.81L1419.66 384.74L1424.59 384.52Z" fill="#000000"/><path d="M1450.06 371.7L1451.78 376.32L1456.71 376.54L1452.85 379.61L1454.17 384.36L1450.06 381.64L1445.94 384.36L1447.26 379.61L1443.4 376.54L1448.33 376.32Z" fill="#000000"/><path d="M1476.03 363.8L1477.75 368.42L1482.68 368.64L1478.82 371.71L1480.14 376.46L1476.03 373.74L1471.91 376.46L1473.23 371.71L1469.37 368.64L1474.3 368.42Z" fill="#000000"/><path d="M1504.42 358.1L1506.14 362.72L1511.07 362.94L1507.21 366.01L1508.53 370.76L1504.42 368.04L1500.3 370.76L1501.62 366.01L1497.76 362.94L1502.69 362.72Z" fill="#000000"/><path d="M1536.59 352.7L1538.32 357.32L1543.24 357.54L1539.38 360.61L1540.7 365.36L1536.59 362.64L1532.47 365.36L1533.79 360.61L1529.93 357.54L1534.86 357.32Z" fill="#000000"/><path d="M1569.73 350.5L1571.46 355.12L1576.38 355.34L1572.52 358.41L1573.84 363.16L1569.73 360.44L1565.61 363.16L1566.93 358.41L1563.07 355.34L1568 355.12Z" fill="#000000"/><path d="M1604.32 350.5L1606.05 355.12L1610.98 355.34L1607.12 358.41L1608.44 363.16L1604.32 360.44L1600.21 363.16L1601.52 358.41L1597.66 355.34L1602.59 355.12Z" fill="#000000"/><path d="M1637.46 353.5L1639.19 358.12L1644.12 358.34L1640.26 361.41L1641.57 366.16L1637.46 363.44L1633.35 366.16L1634.66 361.41L1630.8 358.34L1635.73 358.12Z" fill="#000000"/><path d="M1670.6 359.4L1672.33 364.02L1677.26 364.24L1673.4 367.31L1674.71 372.06L1670.6 369.34L1666.49 372.06L1667.8 367.31L1663.94 364.24L1668.87 364.02Z" fill="#000000"/><path d="M1701.61 367.6L1703.34 372.22L1708.27 372.44L1704.4 375.51L1705.72 380.26L1701.61 377.54L1697.49 380.26L1698.81 375.51L1694.95 372.44L1699.88 372.22Z" fill="#000000"/><path d="M1729.03 378L1730.76 382.62L1735.69 382.84L1731.83 385.91L1733.15 390.66L1729.03 387.94L1724.92 390.66L1726.23 385.91L1722.37 382.84L1727.3 382.62Z" fill="#000000"/><path d="M1752.77 389.2L1754.5 393.82L1759.43 394.04L1755.57 397.11L1756.89 401.86L1752.77 399.14L1748.66 401.86L1749.98 397.11L1746.11 394.04L1751.04 393.82Z" fill="#000000"/><path d="M1772.25 401.8L1773.98 406.42L1778.91 406.64L1775.04 409.71L1776.36 414.46L1772.25 411.74L1768.13 414.46L1769.45 409.71L1765.59 406.64L1770.52 406.42Z" fill="#000000"/><path d="M1787.36 413.7L1789.09 418.32L1794.02 418.54L1790.16 421.61L1791.48 426.36L1787.36 423.64L1783.25 426.36L1784.57 421.61L1780.71 418.54L1785.64 418.32Z" fill="#000000"/><path d="M1798.9 424.9L1800.62 429.52L1805.55 429.74L1801.69 432.81L1803.01 437.56L1798.9 434.84L1794.78 437.56L1796.1 432.81L1792.24 429.74L1797.17 429.52Z" fill="#000000"/><path d="M1806.5 436.14L1808.23 440.76L1813.16 440.98L1809.3 444.05L1810.61 448.8L1806.5 446.08L1802.39 448.8L1803.7 444.05L1799.84 440.98L1804.77 440.76Z" fill="#000000"/><path d="M1812.69 445.71L1814.41 450.33L1819.34 450.55L1815.48 453.62L1816.8 458.37L1812.69 455.65L1808.57 458.37L1809.89 453.62L1806.03 450.55L1810.96 450.33Z" fill="#000000"/><path d="M1817.67 453.87L1819.4 458.49L1824.33 458.71L1820.47 461.78L1821.78 466.54L1817.67 463.81L1813.56 466.54L1814.87 461.78L1811.01 458.71L1815.94 458.49Z" fill="#000000"/><path d="M1821.63 460.86L1823.36 465.48L1828.29 465.69L1824.43 468.77L1825.75 473.52L1821.63 470.8L1817.52 473.52L1818.84 468.77L1814.98 465.69L1819.91 465.48Z" fill="#000000"/><path d="M1824.63 466.9L1826.36 471.53L1831.29 471.74L1827.43 474.81L1828.74 479.57L1824.63 476.84L1820.51 479.57L1821.83 474.81L1817.97 471.74L1822.9 471.53Z" fill="#000000"/><path d="M1827.02 472.04L1828.75 476.66L1833.68 476.88L1829.82 479.95L1831.14 484.7L1827.02 481.98L1822.91 484.7L1824.23 479.95L1820.37 476.88L1825.3 476.66Z" fill="#000000"/><path d="M1829.11 476.31L1830.84 480.93L1835.77 481.14L1831.9 484.22L1833.22 488.97L1829.11 486.25L1824.99 488.97L1826.31 484.22L1822.45 481.14L1827.38 480.93Z" fill="#000000"/><path d="M1830.88 479.88L1832.61 484.5L1837.54 484.71L1833.68 487.78L1835 492.54L1830.88 489.82L1826.77 492.54L1828.09 487.78L1824.23 484.71L1829.16 484.5Z" fill="#000000"/><path d="M1832.34 482.89L1834.06 487.51L1838.99 487.72L1835.13 490.8L1836.45 495.55L1832.34 492.83L1828.22 495.55L1829.54 490.8L1825.68 487.72L1830.61 487.51Z" fill="#000000"/><path d="M1833.5 485.44L1835.23 490.06L1840.16 490.28L1836.29 493.35L1837.61 498.11L1833.5 495.38L1829.38 498.11L1830.7 493.35L1826.84 490.28L1831.77 490.06Z" fill="#000000"/><path d="M1834.43 487.61L1836.15 492.23L1841.08 492.44L1837.22 495.52L1838.54 500.27L1834.43 497.55L1830.31 500.27L1831.63 495.52L1827.77 492.44L1832.7 492.23Z" fill="#000000"/><path d="M1835.18 489.43L1836.91 494.06L1841.84 494.27L1837.98 497.34L1839.3 502.1L1835.18 499.37L1831.07 502.1L1832.39 497.34L1828.53 494.27L1833.46 494.06Z" fill="#000000"/><path d="M1835.81 490.97L1837.54 495.59L1842.47 495.81L1838.61 498.88L1839.92 503.63L1835.81 500.91L1831.7 503.63L1833.01 498.88L1829.15 495.81L1834.08 495.59Z" fill="#000000"/><path d="M1836.33 492.26L1838.06 496.88L1842.99 497.1L1839.13 500.17L1840.44 504.93L1836.33 502.2L1832.22 504.93L1833.53 500.17L1829.67 497.1L1834.6 496.88Z" fill="#000000"/><path d="M1836.76 493.35L1838.49 497.97L1843.42 498.18L1839.56 501.26L1840.88 506.01L1836.76 503.29L1832.65 506.01L1833.97 501.26L1830.11 498.18L1835.04 497.97Z" fill="#000000"/><path d="M1837.13 494.26L1838.85 498.88L1843.78 499.09L1839.92 502.17L1841.24 506.92L1837.13 504.2L1833.01 506.92L1834.33 502.17L1830.47 499.09L1835.4 498.88Z" fill="#000000"/><path d="M1837.43 495.02L1839.16 499.64L1844.09 499.86L1840.23 502.93L1841.54 507.68L1837.43 504.96L1833.32 507.68L1834.63 502.93L1830.77 499.86L1835.7 499.64Z" fill="#000000"/><path d="M1837.68 495.66L1839.41 500.28L1844.34 500.5L1840.48 503.57L1841.8 508.33L1837.68 505.6L1833.57 508.33L1834.89 503.57L1831.03 500.5L1835.96 500.28Z" fill="#000000"/><path d="M1837.9 496.2L1839.63 500.82L1844.55 501.04L1840.69 504.11L1842.01 508.86L1837.9 506.14L1833.78 508.86L1835.1 504.11L1831.24 501.04L1836.17 500.82Z" fill="#000000"/><path d="M1839.01 499L1840.74 503.62L1845.67 503.84L1841.81 506.91L1843.13 511.66L1839.01 508.94L1834.9 511.66L1836.22 506.91L1832.36 503.84L1837.28 503.62Z" fill="#000000"/><path d="M1324.01 445.25L1311.4 452.5L1311.4 438Z" fill="#FF00FF"/><path d="M1315.25 451.88L1302.64 459.13L1302.64 444.63Z" fill="#FF00FF"/><path d="M1307.07 457.13L1294.46 464.38L1294.46 449.88Z" fill="#FF00FF"/><path d="M1300.03 462.09L1287.41 469.34L1287.41 454.84Z" fill="#FF00FF"/><path d="M1294.14 466.98L1281.53 474.23L1281.53 459.73Z" fill="#FF00FF"/><path d="M1288.91 471.3L1276.3 478.55L1276.3 464.05Z" fill="#FF00FF"/><path d="M1284.29 475.15L1271.67 482.4L1271.67 467.9Z" fill="#FF00FF"/><path d="M1280.32 478.72L1267.71 485.97L1267.71 471.47Z" fill="#FF00FF"/><path d="M1276.96 482.05L1264.35 489.3L1264.35 474.8Z" fill="#FF00FF"/><path d="M1274.02 485.04L1261.41 492.29L1261.41 477.79Z" fill="#FF00FF"/><path d="M1271.39 487.67L1258.78 494.92L1258.78 480.42Z" fill="#FF00FF"/><path d="M1268.97 489.9L1256.35 497.15L1256.35 482.65Z" fill="#FF00FF"/><path d="M1266.75 491.79L1254.14 499.04L1254.14 484.54Z" fill="#FF00FF"/><path d="M1264.78 493.46L1252.17 500.71L1252.17 486.21Z" fill="#FF00FF"/><path d="M1263.08 495L1250.47 502.25L1250.47 487.75Z" fill="#FF00FF"/><path d="M1261.64 496.43L1249.03 503.68L1249.03 489.18Z" fill="#FF00FF"/><path d="M1260.45 497.78L1247.83 505.03L1247.83 490.53Z" fill="#FF00FF"/><path d="M1259.48 499.06L1246.86 506.31L1246.86 491.81Z" fill="#FF00FF"/><path d="M1258.69 500.24L1246.07 507.49L1246.07 492.99Z" fill="#FF00FF"/><path d="M1258.02 501.31L1245.41 508.56L1245.41 494.06Z" fill="#FF00FF"/><path d="M1257.46 502.28L1244.84 509.53L1244.84 495.03Z" fill="#FF00FF"/><path d="M1256.97 503.14L1244.36 510.39L1244.36 495.89Z" fill="#FF00FF"/><path d="M1256.55 503.91L1243.94 511.16L1243.94 496.66Z" fill="#FF00FF"/><path d="M1256.19 504.6L1243.57 511.85L1243.57 497.35Z" fill="#FF00FF"/><path d="M1255.87 505.21L1243.25 512.46L1243.25 497.96Z" fill="#FF00FF"/><path d="M1255.59 505.75L1242.97 513L1242.97 498.5Z" fill="#FF00FF"/><path d="M1255.34 506.24L1242.73 513.49L1242.73 498.99Z" fill="#FF00FF"/><path d="M1253.42 510L1240.8 517.25L1240.8 502.75Z" fill="#FF00FF"/><path d="M1333.7 437.5L1321.08 444.75L1321.08 430.25Z" fill="#FF00FF"/><path d="M1346.13 431.2L1333.51 438.45L1333.51 423.95Z" fill="#FF00FF"/><path d="M1358.46 423.3L1345.85 430.55L1345.85 416.05Z" fill="#FF00FF"/><path d="M1377.06 413L1364.45 420.25L1364.45 405.75Z" fill="#FF00FF"/><path d="M1394.1 404.3L1381.48 411.55L1381.48 397.05Z" fill="#FF00FF"/><path d="M1413.39 395.6L1400.77 402.85L1400.77 388.35Z" fill="#FF00FF"/><path d="M1435.12 386.9L1422.5 394.15L1422.5 379.65Z" fill="#FF00FF"/><path d="M1459.11 378.7L1446.49 385.95L1446.49 371.45Z" fill="#FF00FF"/><path d="M1485.34 370.8L1472.73 378.05L1472.73 363.55Z" fill="#FF00FF"/><path d="M1514.03 365.1L1501.41 372.35L1501.41 357.85Z" fill="#FF00FF"/><path d="M1546.53 359.7L1533.91 366.95L1533.91 352.45Z" fill="#FF00FF"/><path d="M1580.01 357.5L1567.4 364.75L1567.4 350.25Z" fill="#FF00FF"/><path d="M1614.96 357.5L1602.35 364.75L1602.35 350.25Z" fill="#FF00FF"/><path d="M1648.44 360.5L1635.83 367.75L1635.83 353.25Z" fill="#FF00FF"/><path d="M1681.93 366.4L1669.31 373.65L1669.31 359.15Z" fill="#FF00FF"/><path d="M1713.25 374.6L1700.64 381.85L1700.64 367.35Z" fill="#FF00FF"/><path d="M1740.96 385L1728.34 392.25L1728.34 377.75Z" fill="#FF00FF"/><path d="M1764.94 396.2L1752.33 403.45L1752.33 388.95Z" fill="#FF00FF"/><path d="M1784.62 408.8L1772.01 416.05L1772.01 401.55Z" fill="#FF00FF"/><path d="M1799.9 420.7L1787.28 427.95L1787.28 413.45Z" fill="#FF00FF"/><path d="M1811.55 431.9L1798.93 439.15L1798.93 424.65Z" fill="#FF00FF"/><path d="M1819.23 443.14L1806.61 450.39L1806.61 435.89Z" fill="#FF00FF"/><path d="M1825.48 452.71L1812.86 459.96L1812.86 445.46Z" fill="#FF00FF"/><path d="M1830.51 460.87L1817.9 468.12L1817.9 453.62Z" fill="#FF00FF"/><path d="M1834.52 467.86L1821.9 475.11L1821.9 460.61Z" fill="#FF00FF"/><path d="M1837.54 473.9L1824.93 481.15L1824.93 466.65Z" fill="#FF00FF"/><path d="M1839.96 479.04L1827.35 486.29L1827.35 471.79Z" fill="#FF00FF"/><path d="M1842.07 483.31L1829.45 490.56L1829.45 476.06Z" fill="#FF00FF"/><path d="M1843.86 486.88L1831.25 494.13L1831.25 479.63Z" fill="#FF00FF"/><path d="M1845.33 489.89L1832.72 497.14L1832.72 482.64Z" fill="#FF00FF"/><path d="M1846.5 492.44L1833.89 499.69L1833.89 485.19Z" fill="#FF00FF"/><path d="M1847.44 494.61L1834.83 501.86L1834.83 487.36Z" fill="#FF00FF"/><path d="M1848.21 496.43L1835.59 503.68L1835.59 489.18Z" fill="#FF00FF"/><path d="M1848.84 497.97L1836.23 505.22L1836.23 490.72Z" fill="#FF00FF"/><path d="M1849.37 499.26L1836.75 506.51L1836.75 492.01Z" fill="#FF00FF"/><path d="M1849.8 500.35L1837.19 507.6L1837.19 493.1Z" fill="#FF00FF"/><path d="M1850.17 501.26L1837.56 508.51L1837.56 494.01Z" fill="#FF00FF"/><path d="M1850.48 502.02L1837.86 509.27L1837.86 494.77Z" fill="#FF00FF"/><path d="M1850.73 502.66L1838.12 509.91L1838.12 495.41Z" fill="#FF00FF"/><path d="M1850.95 503.2L1838.33 510.45L1838.33 495.95Z" fill="#FF00FF"/><path d="M1852.08 506L1839.46 513.25L1839.46 498.75Z" fill="#FF00FF"/><circle cx="1318.97" cy="445.25" r="6.7" fill="#008080"/><circle cx="1309.98" cy="451.88" r="6.7" fill="#008080"/><circle cx="1301.59" cy="457.13" r="6.7" fill="#008080"/><circle cx="1294.35" cy="462.09" r="6.7" fill="#008080"/><circle cx="1288.31" cy="466.98" r="6.7" fill="#008080"/><circle cx="1282.94" cy="471.3" r="6.7" fill="#008080"/><circle cx="1278.19" cy="475.15" r="6.7" fill="#008080"/><circle cx="1274.13" cy="478.72" r="6.7" fill="#008080"/><circle cx="1270.67" cy="482.05" r="6.7" fill="#008080"/><circle cx="1267.66" cy="485.04" r="6.7" fill="#008080"/><circle cx="1264.96" cy="487.67" r="6.7" fill="#008080"/><circle cx="1262.47" cy="489.9" r="6.7" fill="#008080"/><circle cx="1260.19" cy="491.79" r="6.7" fill="#008080"/><circle cx="1258.17" cy="493.46" r="6.7" fill="#008080"/><circle cx="1256.43" cy="495" r="6.7" fill="#008080"/><circle cx="1254.95" cy="496.43" r="6.7" fill="#008080"/><circle cx="1253.72" cy="497.78" r="6.7" fill="#008080"/><circle cx="1252.73" cy="499.06" r="6.7" fill="#008080"/><circle cx="1251.91" cy="500.24" r="6.7" fill="#008080"/><circle cx="1251.23" cy="501.31" r="6.7" fill="#008080"/><circle cx="1250.65" cy="502.28" r="6.7" fill="#008080"/><circle cx="1250.16" cy="503.14" r="6.7" fill="#008080"/><circle cx="1249.72" cy="503.91" r="6.7" fill="#008080"/><circle cx="1249.35" cy="504.6" r="6.7" fill="#008080"/><circle cx="1249.02" cy="505.21" r="6.7" fill="#008080"/><circle cx="1248.73" cy="505.75" r="6.7" fill="#008080"/><circle cx="1248.48" cy="506.24" r="6.7" fill="#008080"/><circle cx="1246.51" cy="510" r="6.7" fill="#008080"/><circle cx="1328.91" cy="437.5" r="6.7" fill="#008080"/><circle cx="1341.68" cy="431.2" r="6.7" fill="#008080"/><circle cx="1354.34" cy="423.3" r="6.7" fill="#008080"/><circle cx="1373.44" cy="413" r="6.7" fill="#008080"/><circle cx="1390.92" cy="404.3" r="6.7" fill="#008080"/><circle cx="1410.72" cy="395.6" r="6.7" fill="#008080"/><circle cx="1433.03" cy="386.9" r="6.7" fill="#008080"/><circle cx="1457.66" cy="378.7" r="6.7" fill="#008080"/><circle cx="1484.59" cy="370.8" r="6.7" fill="#008080"/><circle cx="1514.04" cy="365.1" r="6.7" fill="#008080"/><circle cx="1547.4" cy="359.7" r="6.7" fill="#008080"/><circle cx="1581.77" cy="357.5" r="6.7" fill="#008080"/><circle cx="1617.65" cy="357.5" r="6.7" fill="#008080"/><circle cx="1652.02" cy="360.5" r="6.7" fill="#008080"/><circle cx="1686.39" cy="366.4" r="6.7" fill="#008080"/><circle cx="1718.55" cy="374.6" r="6.7" fill="#008080"/><circle cx="1746.99" cy="385" r="6.7" fill="#008080"/><circle cx="1771.62" cy="396.2" r="6.7" fill="#008080"/><circle cx="1791.82" cy="408.8" r="6.7" fill="#008080"/><circle cx="1807.5" cy="420.7" r="6.7" fill="#008080"/><circle cx="1819.46" cy="431.9" r="6.7" fill="#008080"/><circle cx="1827.34" cy="443.14" r="6.7" fill="#008080"/><circle cx="1833.76" cy="452.71" r="6.7" fill="#008080"/><circle cx="1838.93" cy="460.87" r="6.7" fill="#008080"/><circle cx="1843.04" cy="467.86" r="6.7" fill="#008080"/><circle cx="1846.14" cy="473.9" r="6.7" fill="#008080"/><circle cx="1848.63" cy="479.04" r="6.7" fill="#008080"/><circle cx="1850.79" cy="483.31" r="6.7" fill="#008080"/><circle cx="1852.63" cy="486.88" r="6.7" fill="#008080"/><circle cx="1854.14" cy="489.89" r="6.7" fill="#008080"/><circle cx="1855.34" cy="492.44" r="6.7" fill="#008080"/><circle cx="1856.31" cy="494.61" r="6.7" fill="#008080"/><circle cx="1857.09" cy="496.43" r="6.7" fill="#008080"/><circle cx="1857.74" cy="497.97" r="6.7" fill="#008080"/><circle cx="1858.28" cy="499.26" r="6.7" fill="#008080"/><circle cx="1858.73" cy="500.35" r="6.7" fill="#008080"/><circle cx="1859.11" cy="501.26" r="6.7" fill="#008080"/><circle cx="1859.42" cy="502.02" r="6.7" fill="#008080"/><circle cx="1859.68" cy="502.66" r="6.7" fill="#008080"/><circle cx="1859.91" cy="503.2" r="6.7" fill="#008080"/><circle cx="1861.06" cy="506" r="6.7" fill="#008080"/><circle cx="1318.61" cy="445.25" r="6.9" fill="#00FF00"/><circle cx="1309.66" cy="451.88" r="6.9" fill="#00FF00"/><circle cx="1301.31" cy="457.13" r="6.9" fill="#00FF00"/><circle cx="1294.11" cy="462.09" r="6.9" fill="#00FF00"/><circle cx="1288.1" cy="466.98" r="6.9" fill="#00FF00"/><circle cx="1282.75" cy="471.3" r="6.9" fill="#00FF00"/><circle cx="1278.03" cy="475.15" r="6.9" fill="#00FF00"/><circle cx="1273.98" cy="478.72" r="6.9" fill="#00FF00"/><circle cx="1270.55" cy="482.05" r="6.9" fill="#00FF00"/><circle cx="1267.55" cy="485.04" r="6.9" fill="#00FF00"/><circle cx="1264.86" cy="487.67" r="6.9" fill="#00FF00"/><circle cx="1262.38" cy="489.9" r="6.9" fill="#00FF00"/><circle cx="1260.12" cy="491.79" r="6.9" fill="#00FF00"/><circle cx="1258.11" cy="493.46" r="6.9" fill="#00FF00"/><circle cx="1256.37" cy="495" r="6.9" fill="#00FF00"/><circle cx="1254.9" cy="496.43" r="6.9" fill="#00FF00"/><circle cx="1253.68" cy="497.78" r="6.9" fill="#00FF00"/><circle cx="1252.69" cy="499.06" r="6.9" fill="#00FF00"/><circle cx="1251.88" cy="500.24" r="6.9" fill="#00FF00"/><circle cx="1251.2" cy="501.31" r="6.9" fill="#00FF00"/><circle cx="1250.63" cy="502.28" r="6.9" fill="#00FF00"/><circle cx="1250.13" cy="503.14" r="6.9" fill="#00FF00"/><circle cx="1249.7" cy="503.91" r="6.9" fill="#00FF00"/><circle cx="1249.33" cy="504.6" r="6.9" fill="#00FF00"/><circle cx="1249" cy="505.21" r="6.9" fill="#00FF00"/><circle cx="1248.72" cy="505.75" r="6.9" fill="#00FF00"/><circle cx="1248.47" cy="506.24" r="6.9" fill="#00FF00"/><circle cx="1246.5" cy="510" r="6.9" fill="#00FF00"/><circle cx="1328.5" cy="437.5" r="6.9" fill="#00FF00"/><circle cx="1341.2" cy="431.2" r="6.9" fill="#00FF00"/><circle cx="1353.8" cy="423.3" r="6.9" fill="#00FF00"/><circle cx="1372.8" cy="413" r="6.9" fill="#00FF00"/><circle cx="1390.2" cy="404.3" r="6.9" fill="#00FF00"/><circle cx="1409.9" cy="395.6" r="6.9" fill="#00FF00"/><circle cx="1432.1" cy="386.9" r="6.9" fill="#00FF00"/><circle cx="1456.6" cy="378.7" r="6.9" fill="#00FF00"/><circle cx="1483.4" cy="370.8" r="6.9" fill="#00FF00"/><circle cx="1512.7" cy="365.1" r="6.9" fill="#00FF00"/><circle cx="1545.9" cy="359.7" r="6.9" fill="#00FF00"/><circle cx="1580.1" cy="357.5" r="6.9" fill="#00FF00"/><circle cx="1615.8" cy="357.5" r="6.9" fill="#00FF00"/><circle cx="1650" cy="360.5" r="6.9" fill="#00FF00"/><circle cx="1684.2" cy="366.4" r="6.9" fill="#00FF00"/><circle cx="1716.2" cy="374.6" r="6.9" fill="#00FF00"/><circle cx="1744.5" cy="385" r="6.9" fill="#00FF00"/><circle cx="1769" cy="396.2" r="6.9" fill="#00FF00"/><circle cx="1789.1" cy="408.8" r="6.9" fill="#00FF00"/><circle cx="1804.7" cy="420.7" r="6.9" fill="#00FF00"/><circle cx="1816.6" cy="431.9" r="6.9" fill="#00FF00"/><circle cx="1824.45" cy="443.14" r="6.9" fill="#00FF00"/><circle cx="1830.83" cy="452.71" r="6.9" fill="#00FF00"/><circle cx="1835.97" cy="460.87" r="6.9" fill="#00FF00"/><circle cx="1840.07" cy="467.86" r="6.9" fill="#00FF00"/><circle cx="1843.16" cy="473.9" r="6.9" fill="#00FF00"/><circle cx="1845.63" cy="479.04" r="6.9" fill="#00FF00"/><circle cx="1847.78" cy="483.31" r="6.9" fill="#00FF00"/><circle cx="1849.61" cy="486.88" r="6.9" fill="#00FF00"/><circle cx="1851.11" cy="489.89" r="6.9" fill="#00FF00"/><circle cx="1852.31" cy="492.44" r="6.9" fill="#00FF00"/><circle cx="1853.27" cy="494.61" r="6.9" fill="#00FF00"/><circle cx="1854.05" cy="496.43" r="6.9" fill="#00FF00"/><circle cx="1854.7" cy="497.97" r="6.9" fill="#00FF00"/><circle cx="1855.23" cy="499.26" r="6.9" fill="#00FF00"/><circle cx="1855.68" cy="500.35" r="6.9" fill="#00FF00"/><circle cx="1856.05" cy="501.26" r="6.9" fill="#00FF00"/><circle cx="1856.37" cy="502.02" r="6.9" fill="#00FF00"/><circle cx="1856.63" cy="502.66" r="6.9" fill="#00FF00"/><circle cx="1856.85" cy="503.2" r="6.9" fill="#00FF00"/><circle cx="1858" cy="506" r="6.9" fill="#00FF00"/><text x="1215.15" y="750" font-size="46">0.0</text><text x="1337.96" y="750" font-size="46">0.1</text><text x="1460.26" y="750" font-size="46">0.2</text><text x="1582.56" y="750" font-size="46">0.3</text><text x="1704.7" y="750" font-size="46">0.4</text><text x="1827.62" y="750" font-size="46">0.5</text><text x="1949.95" y="750" font-size="46">0.6</text><text x="2072.34" y="750" font-size="46">0.7</text><text x="1165.68" y="73.8" font-size="46">0.5</text><text x="1164.85" y="162.8" font-size="46">0.4</text><text x="1165.57" y="252.8" font-size="46">0.3</text><text x="1165.98" y="341.7" font-size="46">0.2</text><text x="1166.38" y="433.3" font-size="46">0.1</text><text x="1165.75" y="521.1" font-size="46">0.0</text><text x="1151.06" y="610.1" font-size="46">-0.1</text><text x="1150.66" y="699.6" font-size="46">-0.2</text><g><text x="1533.71" y="798.3" font-size="62.5">Z</text><text transform="translate(1578.89 811.55) scale(1 1.7)" font-size="50">'</text><text x="1608.65" y="798.3" font-size="62.5">(</text><text x="1629.7" y="798.3" font-size="63.75" font-weight="normal">Ω</text><text x="1692.16" y="798.3" font-size="62.5">cm</text><text x="1770.89" y="762.8" font-size="36">2</text><text x="1792.03" y="798.3" font-size="62.5">)</text></g><g transform="translate(1148.2 529) rotate(-90)"><text x="-2.34" y="0" font-size="64">-</text><text x="20.74" y="0" font-size="64">Z</text><text transform="translate(66.4 13.57) scale(1 1.7)" font-size="51.2">'</text><text transform="translate(83.4 13.57) scale(1 1.7)" font-size="51.2">'</text><text x="115.19" y="0" font-size="64">(</text><text x="137.32" y="0" font-size="65.28" font-weight="normal">Ω</text><text x="199.11" y="0" font-size="64">cm</text><text x="283" y="-35.7" font-size="38">2</text><text x="302.9" y="0" font-size="64">)</text></g><text x="1262.18" y="121.94" font-size="57.4">(b)</text><text x="1857.6" y="114.3" font-size="41.2">LSCF-4628</text><text x="1856.86" y="182.7" font-size="44" font-weight="normal">@</text><text x="1906.8" y="180.4" font-size="41">650</text><text x="1974.51" y="158.1" font-size="26">o</text><text x="1985.7" y="180.4" font-size="41">C</text><text x="1366.41" y="248.8" font-size="37" letter-spacing="0.15">after recovered</text><text x="1367.32" y="473.1" font-size="37">50% CO<tspan dy="11" font-size="22">2</tspan><tspan dy="-11" font-size="37">-air</tspan></text><text x="1364.99" y="647.6" font-size="37.5">air</text><path d="M1833 318.12L1840.5 331.17L1825.5 331.17Z" fill="#0000FF"/><path d="M1985.9 334.98L1993.4 321.93L1978.4 321.93Z" fill="#008000"/><path d="M1833 375.1L1834.73 379.72L1839.66 379.94L1835.8 383.01L1837.11 387.76L1833 385.04L1828.89 387.76L1830.2 383.01L1826.34 379.94L1831.27 379.72Z" fill="#000000"/><path d="M1994.14 382.1L1981.52 389.35L1981.52 374.85Z" fill="#FF00FF"/><circle cx="1833" cy="439" r="6.7" fill="#008080"/><circle cx="1985.9" cy="439" r="6.9" fill="#00FF00"/><text x="1881" y="340.4" font-size="32.5">10h</text><text x="2035.04" y="340.4" font-size="32.5">20h</text><text x="1882.38" y="396" font-size="32.5">30h</text><text x="2035.96" y="396" font-size="32.5">40h</text><text x="1882.3" y="451.6" font-size="32.5">50h</text><text x="2035.29" y="451.6" font-size="32.5">60h</text></g><g font-family="'Liberation Serif','Times New Roman',serif" font-weight="bold"><line x1="735.5" y1="1099" x2="1583" y2="1099" stroke="#505050" stroke-width="2.2"/><line x1="735.5" y1="1332" x2="1583" y2="1332" stroke="#505050" stroke-width="2.2"/><rect x="732.4" y="863.7" width="853.9" height="643.8" fill="none" stroke="#000" stroke-width="6.2"/><g stroke="#000" stroke-width="5.2"><line x1="855.1" y1="1507.5" x2="855.1" y2="1486.4"/><line x1="976.5" y1="1507.5" x2="976.5" y2="1486.4"/><line x1="1097.9" y1="1507.5" x2="1097.9" y2="1486.4"/><line x1="1219.3" y1="1507.5" x2="1219.3" y2="1486.4"/><line x1="1340.7" y1="1507.5" x2="1340.7" y2="1486.4"/><line x1="1462.1" y1="1507.5" x2="1462.1" y2="1486.4"/><line x1="794.4" y1="1507.5" x2="794.4" y2="1495.5"/><line x1="915.8" y1="1507.5" x2="915.8" y2="1495.5"/><line x1="1037.2" y1="1507.5" x2="1037.2" y2="1495.5"/><line x1="1158.6" y1="1507.5" x2="1158.6" y2="1495.5"/><line x1="1280" y1="1507.5" x2="1280" y2="1495.5"/><line x1="1401.4" y1="1507.5" x2="1401.4" y2="1495.5"/><line x1="1522.8" y1="1507.5" x2="1522.8" y2="1495.5"/></g><circle cx="806.03" cy="1026.54" r="6.3" fill="#FF0080"/><circle cx="797.63" cy="1033.76" r="6.3" fill="#FF0080"/><circle cx="789.99" cy="1039.96" r="6.3" fill="#FF0080"/><circle cx="782.92" cy="1045.09" r="6.3" fill="#FF0080"/><circle cx="776.47" cy="1049.42" r="6.3" fill="#FF0080"/><circle cx="771" cy="1053.62" r="6.3" fill="#FF0080"/><circle cx="766.33" cy="1057.59" r="6.3" fill="#FF0080"/><circle cx="762.28" cy="1061.23" r="6.3" fill="#FF0080"/><circle cx="758.73" cy="1064.52" r="6.3" fill="#FF0080"/><circle cx="755.6" cy="1067.46" r="6.3" fill="#FF0080"/><circle cx="752.84" cy="1070.1" r="6.3" fill="#FF0080"/><circle cx="750.41" cy="1072.47" r="6.3" fill="#FF0080"/><circle cx="748.26" cy="1074.58" r="6.3" fill="#FF0080"/><circle cx="746.37" cy="1076.48" r="6.3" fill="#FF0080"/><circle cx="744.71" cy="1078.19" r="6.3" fill="#FF0080"/><circle cx="743.26" cy="1079.72" r="6.3" fill="#FF0080"/><circle cx="742" cy="1081.12" r="6.3" fill="#FF0080"/><circle cx="740.93" cy="1082.4" r="6.3" fill="#FF0080"/><circle cx="740.05" cy="1083.59" r="6.3" fill="#FF0080"/><circle cx="739.34" cy="1084.7" r="6.3" fill="#FF0080"/><circle cx="738.75" cy="1085.71" r="6.3" fill="#FF0080"/><circle cx="738.23" cy="1086.61" r="6.3" fill="#FF0080"/><circle cx="737.76" cy="1087.41" r="6.3" fill="#FF0080"/><circle cx="737.36" cy="1088.12" r="6.3" fill="#FF0080"/><circle cx="737.01" cy="1088.77" r="6.3" fill="#FF0080"/><circle cx="736.72" cy="1089.34" r="6.3" fill="#FF0080"/><circle cx="736.46" cy="1089.86" r="6.3" fill="#FF0080"/><circle cx="736.24" cy="1090.32" r="6.3" fill="#FF0080"/><circle cx="734.5" cy="1094" r="6.3" fill="#FF0080"/><circle cx="815.2" cy="1018.1" r="6.3" fill="#FF0080"/><circle cx="827.3" cy="1011" r="6.3" fill="#FF0080"/><circle cx="843.4" cy="1000.6" r="6.3" fill="#FF0080"/><circle cx="858.1" cy="992.7" r="6.3" fill="#FF0080"/><circle cx="875.4" cy="984.6" r="6.3" fill="#FF0080"/><circle cx="893.9" cy="976.7" r="6.3" fill="#FF0080"/><circle cx="915.3" cy="968.6" r="6.3" fill="#FF0080"/><circle cx="939.5" cy="962.7" r="6.3" fill="#FF0080"/><circle cx="964.1" cy="956.7" r="6.3" fill="#FF0080"/><circle cx="991.2" cy="953.8" r="6.3" fill="#FF0080"/><circle cx="1020.3" cy="952.6" r="6.3" fill="#FF0080"/><circle cx="1049.1" cy="954.3" r="6.3" fill="#FF0080"/><circle cx="1077.5" cy="958" r="6.3" fill="#FF0080"/><circle cx="1104.1" cy="964.4" r="6.3" fill="#FF0080"/><circle cx="1128" cy="973.5" r="6.3" fill="#FF0080"/><circle cx="1148.9" cy="983.4" r="6.3" fill="#FF0080"/><circle cx="1167.9" cy="995.2" r="6.3" fill="#FF0080"/><circle cx="1182.3" cy="1006.6" r="6.3" fill="#FF0080"/><circle cx="1194" cy="1017.1" r="6.3" fill="#FF0080"/><circle cx="1202.4" cy="1027.7" r="6.3" fill="#FF0080"/><circle cx="1209.94" cy="1036.15" r="6.3" fill="#FF0080"/><circle cx="1215.13" cy="1044.06" r="6.3" fill="#FF0080"/><circle cx="1219.14" cy="1050.91" r="6.3" fill="#FF0080"/><circle cx="1221.91" cy="1056.95" r="6.3" fill="#FF0080"/><circle cx="1223.86" cy="1062.15" r="6.3" fill="#FF0080"/><circle cx="1225.43" cy="1066.54" r="6.3" fill="#FF0080"/><circle cx="1226.59" cy="1070.25" r="6.3" fill="#FF0080"/><circle cx="1227.45" cy="1073.4" r="6.3" fill="#FF0080"/><circle cx="1228.08" cy="1076.06" r="6.3" fill="#FF0080"/><circle cx="1228.46" cy="1078.31" r="6.3" fill="#FF0080"/><circle cx="1228.61" cy="1080.22" r="6.3" fill="#FF0080"/><circle cx="1228.58" cy="1081.82" r="6.3" fill="#FF0080"/><circle cx="1228.48" cy="1083.16" r="6.3" fill="#FF0080"/><circle cx="1228.37" cy="1084.28" r="6.3" fill="#FF0080"/><circle cx="1228.26" cy="1085.21" r="6.3" fill="#FF0080"/><circle cx="1228.16" cy="1085.99" r="6.3" fill="#FF0080"/><circle cx="1228.07" cy="1086.65" r="6.3" fill="#FF0080"/><circle cx="1227.99" cy="1087.19" r="6.3" fill="#FF0080"/><circle cx="1227.6" cy="1090" r="6.3" fill="#FF0080"/><rect x="817.61" y="1423.23" width="11.8" height="11.8" fill="#FF0000"/><rect x="805.58" y="1431.78" width="11.8" height="11.8" fill="#FF0000"/><rect x="795.17" y="1439.32" width="11.8" height="11.8" fill="#FF0000"/><rect x="786.2" y="1446.01" width="11.8" height="11.8" fill="#FF0000"/><rect x="778.65" y="1452.17" width="11.8" height="11.8" fill="#FF0000"/><rect x="771.9" y="1457.29" width="11.8" height="11.8" fill="#FF0000"/><rect x="765.66" y="1461.24" width="11.8" height="11.8" fill="#FF0000"/><rect x="760.52" y="1465.07" width="11.8" height="11.8" fill="#FF0000"/><rect x="756.31" y="1468.75" width="11.8" height="11.8" fill="#FF0000"/><rect x="752.75" y="1472.07" width="11.8" height="11.8" fill="#FF0000"/><rect x="749.75" y="1475.06" width="11.8" height="11.8" fill="#FF0000"/><rect x="747.23" y="1477.75" width="11.8" height="11.8" fill="#FF0000"/><rect x="745.05" y="1480.1" width="11.8" height="11.8" fill="#FF0000"/><rect x="743.11" y="1482.1" width="11.8" height="11.8" fill="#FF0000"/><rect x="741.39" y="1483.82" width="11.8" height="11.8" fill="#FF0000"/><rect x="739.88" y="1485.31" width="11.8" height="11.8" fill="#FF0000"/><rect x="738.57" y="1486.6" width="11.8" height="11.8" fill="#FF0000"/><rect x="737.45" y="1487.74" width="11.8" height="11.8" fill="#FF0000"/><rect x="736.48" y="1488.75" width="11.8" height="11.8" fill="#FF0000"/><rect x="735.65" y="1489.63" width="11.8" height="11.8" fill="#FF0000"/><rect x="734.92" y="1490.4" width="11.8" height="11.8" fill="#FF0000"/><rect x="734.3" y="1491.07" width="11.8" height="11.8" fill="#FF0000"/><rect x="733.75" y="1491.66" width="11.8" height="11.8" fill="#FF0000"/><rect x="733.28" y="1492.17" width="11.8" height="11.8" fill="#FF0000"/><rect x="732.86" y="1492.61" width="11.8" height="11.8" fill="#FF0000"/><rect x="732.51" y="1493" width="11.8" height="11.8" fill="#FF0000"/><rect x="730.1" y="1495.6" width="11.8" height="11.8" fill="#FF0000"/><rect x="833.1" y="1416.3" width="11.8" height="11.8" fill="#FF0000"/><rect x="850.4" y="1407.3" width="11.8" height="11.8" fill="#FF0000"/><rect x="867.5" y="1399.3" width="11.8" height="11.8" fill="#FF0000"/><rect x="886.3" y="1392.7" width="11.8" height="11.8" fill="#FF0000"/><rect x="907.5" y="1385.8" width="11.8" height="11.8" fill="#FF0000"/><rect x="931" y="1380.2" width="11.8" height="11.8" fill="#FF0000"/><rect x="956.3" y="1374.8" width="11.8" height="11.8" fill="#FF0000"/><rect x="982" y="1372.4" width="11.8" height="11.8" fill="#FF0000"/><rect x="1009.6" y="1372.4" width="11.8" height="11.8" fill="#FF0000"/><rect x="1037.6" y="1374.1" width="11.8" height="11.8" fill="#FF0000"/><rect x="1064.5" y="1379.2" width="11.8" height="11.8" fill="#FF0000"/><rect x="1089.6" y="1385.8" width="11.8" height="11.8" fill="#FF0000"/><rect x="1112.1" y="1393.9" width="11.8" height="11.8" fill="#FF0000"/><rect x="1131.6" y="1403.6" width="11.8" height="11.8" fill="#FF0000"/><rect x="1147.7" y="1414.9" width="11.8" height="11.8" fill="#FF0000"/><rect x="1161.5" y="1423.1" width="11.8" height="11.8" fill="#FF0000"/><rect x="1172.9" y="1433.4" width="11.8" height="11.8" fill="#FF0000"/><rect x="1181.6" y="1442.4" width="11.8" height="11.8" fill="#FF0000"/><rect x="1188.3" y="1450.2" width="11.8" height="11.8" fill="#FF0000"/><rect x="1193.06" y="1457.33" width="11.8" height="11.8" fill="#FF0000"/><rect x="1196.69" y="1463.48" width="11.8" height="11.8" fill="#FF0000"/><rect x="1199.41" y="1468.77" width="11.8" height="11.8" fill="#FF0000"/><rect x="1201.54" y="1473.25" width="11.8" height="11.8" fill="#FF0000"/><rect x="1203.28" y="1477" width="11.8" height="11.8" fill="#FF0000"/><rect x="1204.7" y="1480.14" width="11.8" height="11.8" fill="#FF0000"/><rect x="1205.83" y="1482.78" width="11.8" height="11.8" fill="#FF0000"/><rect x="1206.76" y="1484.99" width="11.8" height="11.8" fill="#FF0000"/><rect x="1207.54" y="1486.82" width="11.8" height="11.8" fill="#FF0000"/><rect x="1208.21" y="1488.35" width="11.8" height="11.8" fill="#FF0000"/><rect x="1208.78" y="1489.61" width="11.8" height="11.8" fill="#FF0000"/><rect x="1209.26" y="1490.66" width="11.8" height="11.8" fill="#FF0000"/><rect x="1209.66" y="1491.53" width="11.8" height="11.8" fill="#FF0000"/><rect x="1210" y="1492.26" width="11.8" height="11.8" fill="#FF0000"/><rect x="1210.28" y="1492.87" width="11.8" height="11.8" fill="#FF0000"/><rect x="1210.52" y="1493.37" width="11.8" height="11.8" fill="#FF0000"/><rect x="1211.7" y="1495.9" width="11.8" height="11.8" fill="#FF0000"/><path d="M811.38 1245.26L818.88 1258.31L803.88 1258.31Z" fill="#0000FF"/><path d="M801.28 1252.46L808.78 1265.51L793.78 1265.51Z" fill="#0000FF"/><path d="M792.15 1258.56L799.65 1271.61L784.65 1271.61Z" fill="#0000FF"/><path d="M784.41 1264.44L791.91 1277.49L776.91 1277.49Z" fill="#0000FF"/><path d="M777.79 1269.96L785.29 1283.01L770.29 1283.01Z" fill="#0000FF"/><path d="M771.99 1274.91L779.49 1287.96L764.49 1287.96Z" fill="#0000FF"/><path d="M766.81 1279.24L774.31 1292.29L759.31 1292.29Z" fill="#0000FF"/><path d="M762.31 1283.18L769.81 1296.23L754.81 1296.23Z" fill="#0000FF"/><path d="M758.42 1286.76L765.92 1299.81L750.92 1299.81Z" fill="#0000FF"/><path d="M755.02 1289.99L762.52 1303.04L747.52 1303.04Z" fill="#0000FF"/><path d="M752.06 1292.89L759.56 1305.94L744.56 1305.94Z" fill="#0000FF"/><path d="M749.44 1295.47L756.94 1308.52L741.94 1308.52Z" fill="#0000FF"/><path d="M747.14 1297.77L754.64 1310.82L739.64 1310.82Z" fill="#0000FF"/><path d="M745.13 1299.83L752.63 1312.88L737.63 1312.88Z" fill="#0000FF"/><path d="M743.38 1301.69L750.88 1314.74L735.88 1314.74Z" fill="#0000FF"/><path d="M741.88 1303.37L749.38 1316.42L734.38 1316.42Z" fill="#0000FF"/><path d="M740.63 1304.93L748.13 1317.98L733.13 1317.98Z" fill="#0000FF"/><path d="M739.6 1306.37L747.1 1319.42L732.1 1319.42Z" fill="#0000FF"/><path d="M738.79 1307.71L746.29 1320.76L731.29 1320.76Z" fill="#0000FF"/><path d="M738.13 1308.94L745.63 1321.99L730.63 1321.99Z" fill="#0000FF"/><path d="M737.59 1310.04L745.09 1323.09L730.09 1323.09Z" fill="#0000FF"/><path d="M737.11 1311.02L744.61 1324.07L729.61 1324.07Z" fill="#0000FF"/><path d="M736.69 1311.89L744.19 1324.94L729.19 1324.94Z" fill="#0000FF"/><path d="M736.34 1312.67L743.84 1325.72L728.84 1325.72Z" fill="#0000FF"/><path d="M736.05 1313.36L743.55 1326.41L728.55 1326.41Z" fill="#0000FF"/><path d="M735.8 1313.98L743.3 1327.03L728.3 1327.03Z" fill="#0000FF"/><path d="M735.58 1314.53L743.08 1327.58L728.08 1327.58Z" fill="#0000FF"/><path d="M735.39 1315.02L742.89 1328.07L727.89 1328.07Z" fill="#0000FF"/><path d="M733.99 1318.82L741.49 1331.87L726.49 1331.87Z" fill="#0000FF"/><path d="M822.78 1237.12L830.28 1250.17L815.28 1250.17Z" fill="#0000FF"/><path d="M835.67 1227.92L843.17 1240.97L828.17 1240.97Z" fill="#0000FF"/><path d="M853.9 1217.92L861.4 1230.97L846.4 1230.97Z" fill="#0000FF"/><path d="M869.86 1208.72L877.36 1221.77L862.36 1221.77Z" fill="#0000FF"/><path d="M888.19 1200.32L895.69 1213.37L880.69 1213.37Z" fill="#0000FF"/><path d="M908.7 1191.12L916.2 1204.17L901.2 1204.17Z" fill="#0000FF"/><path d="M932.29 1182.72L939.79 1195.77L924.79 1195.77Z" fill="#0000FF"/><path d="M958.06 1175.02L965.56 1188.07L950.56 1188.07Z" fill="#0000FF"/><path d="M986.2 1168.12L993.7 1181.17L978.7 1181.17Z" fill="#0000FF"/><path d="M1015.83 1163.52L1023.33 1176.57L1008.33 1176.57Z" fill="#0000FF"/><path d="M1048.34 1160.92L1055.84 1173.97L1040.84 1173.97Z" fill="#0000FF"/><path d="M1081.44 1161.62L1088.94 1174.67L1073.94 1174.67Z" fill="#0000FF"/><path d="M1113.94 1164.42L1121.44 1177.47L1106.44 1177.47Z" fill="#0000FF"/><path d="M1145.75 1170.72L1153.25 1183.77L1138.25 1183.77Z" fill="#0000FF"/><path d="M1175.48 1179.02L1182.98 1192.07L1167.98 1192.07Z" fill="#0000FF"/><path d="M1201.74 1189.52L1209.24 1202.57L1194.24 1202.57Z" fill="#0000FF"/><path d="M1224.54 1201.42L1232.04 1214.47L1217.04 1214.47Z" fill="#0000FF"/><path d="M1242.47 1213.92L1249.97 1226.97L1234.97 1226.97Z" fill="#0000FF"/><path d="M1257.73 1225.82L1265.23 1238.87L1250.23 1238.87Z" fill="#0000FF"/><path d="M1271.01 1237.62L1278.51 1250.67L1263.51 1250.67Z" fill="#0000FF"/><path d="M1281.21 1248.3L1288.71 1261.35L1273.71 1261.35Z" fill="#0000FF"/><path d="M1288.23 1258.4L1295.73 1271.45L1280.73 1271.45Z" fill="#0000FF"/><path d="M1293.21 1267.33L1300.71 1280.38L1285.71 1280.38Z" fill="#0000FF"/><path d="M1296.84 1275.03L1304.34 1288.08L1289.34 1288.08Z" fill="#0000FF"/><path d="M1299.61 1281.53L1307.11 1294.58L1292.11 1294.58Z" fill="#0000FF"/><path d="M1301.84 1286.97L1309.34 1300.02L1294.34 1300.02Z" fill="#0000FF"/><path d="M1303.58 1291.54L1311.08 1304.59L1296.08 1304.59Z" fill="#0000FF"/><path d="M1304.92 1295.38L1312.42 1308.43L1297.42 1308.43Z" fill="#0000FF"/><path d="M1305.96 1298.6L1313.46 1311.65L1298.46 1311.65Z" fill="#0000FF"/><path d="M1306.77 1301.29L1314.27 1314.34L1299.27 1314.34Z" fill="#0000FF"/><path d="M1307.39 1303.53L1314.89 1316.58L1299.89 1316.58Z" fill="#0000FF"/><path d="M1307.88 1305.42L1315.38 1318.47L1300.38 1318.47Z" fill="#0000FF"/><path d="M1308.23 1306.99L1315.73 1320.04L1300.73 1320.04Z" fill="#0000FF"/><path d="M1308.49 1308.31L1315.99 1321.36L1300.99 1321.36Z" fill="#0000FF"/><path d="M1308.68 1309.4L1316.18 1322.45L1301.18 1322.45Z" fill="#0000FF"/><path d="M1308.84 1310.32L1316.34 1323.37L1301.34 1323.37Z" fill="#0000FF"/><path d="M1308.97 1311.08L1316.47 1324.13L1301.47 1324.13Z" fill="#0000FF"/><path d="M1309.07 1311.71L1316.57 1324.76L1301.57 1324.76Z" fill="#0000FF"/><path d="M1309.15 1312.23L1316.65 1325.28L1301.65 1325.28Z" fill="#0000FF"/><path d="M1309.56 1314.82L1317.06 1327.87L1302.06 1327.87Z" fill="#0000FF"/><path d="M811.53 1259.62L819.03 1246.57L804.03 1246.57Z" fill="#008000"/><path d="M801.41 1266.82L808.91 1253.77L793.91 1253.77Z" fill="#008000"/><path d="M792.27 1272.92L799.77 1259.87L784.77 1259.87Z" fill="#008000"/><path d="M784.51 1278.8L792.01 1265.75L777.01 1265.75Z" fill="#008000"/><path d="M777.88 1284.32L785.38 1271.27L770.38 1271.27Z" fill="#008000"/><path d="M772.07 1289.26L779.57 1276.21L764.57 1276.21Z" fill="#008000"/><path d="M766.88 1293.6L774.38 1280.55L759.38 1280.55Z" fill="#008000"/><path d="M762.37 1297.53L769.87 1284.48L754.87 1284.48Z" fill="#008000"/><path d="M758.47 1301.11L765.97 1288.06L750.97 1288.06Z" fill="#008000"/><path d="M755.07 1304.34L762.57 1291.29L747.57 1291.29Z" fill="#008000"/><path d="M752.09 1307.25L759.59 1294.2L744.59 1294.2Z" fill="#008000"/><path d="M749.48 1309.83L756.98 1296.78L741.98 1296.78Z" fill="#008000"/><path d="M747.17 1312.13L754.67 1299.08L739.67 1299.08Z" fill="#008000"/><path d="M745.16 1314.19L752.66 1301.14L737.66 1301.14Z" fill="#008000"/><path d="M743.4 1316.04L750.9 1302.99L735.9 1302.99Z" fill="#008000"/><path d="M741.9 1317.73L749.4 1304.68L734.4 1304.68Z" fill="#008000"/><path d="M740.64 1319.28L748.14 1306.23L733.14 1306.23Z" fill="#008000"/><path d="M739.62 1320.73L747.12 1307.68L732.12 1307.68Z" fill="#008000"/><path d="M738.8 1322.07L746.3 1309.02L731.3 1309.02Z" fill="#008000"/><path d="M738.14 1323.29L745.64 1310.24L730.64 1310.24Z" fill="#008000"/><path d="M737.6 1324.4L745.1 1311.35L730.1 1311.35Z" fill="#008000"/><path d="M737.12 1325.38L744.62 1312.33L729.62 1312.33Z" fill="#008000"/><path d="M736.7 1326.24L744.2 1313.19L729.2 1313.19Z" fill="#008000"/><path d="M736.35 1327.02L743.85 1313.97L728.85 1313.97Z" fill="#008000"/><path d="M736.05 1327.72L743.55 1314.67L728.55 1314.67Z" fill="#008000"/><path d="M735.8 1328.34L743.3 1315.29L728.3 1315.29Z" fill="#008000"/><path d="M735.58 1328.89L743.08 1315.84L728.08 1315.84Z" fill="#008000"/><path d="M735.4 1329.38L742.9 1316.33L727.9 1316.33Z" fill="#008000"/><path d="M733.99 1333.18L741.49 1320.13L726.49 1320.13Z" fill="#008000"/><path d="M822.97 1251.48L830.47 1238.43L815.47 1238.43Z" fill="#008000"/><path d="M835.87 1242.28L843.37 1229.23L828.37 1229.23Z" fill="#008000"/><path d="M854.15 1232.28L861.65 1219.23L846.65 1219.23Z" fill="#008000"/><path d="M870.13 1223.08L877.63 1210.03L862.63 1210.03Z" fill="#008000"/><path d="M888.5 1214.68L896 1201.63L881 1201.63Z" fill="#008000"/><path d="M909.06 1205.48L916.56 1192.43L901.56 1192.43Z" fill="#008000"/><path d="M932.69 1197.08L940.19 1184.03L925.19 1184.03Z" fill="#008000"/><path d="M958.51 1189.38L966.01 1176.33L951.01 1176.33Z" fill="#008000"/><path d="M986.71 1182.48L994.21 1169.43L979.21 1169.43Z" fill="#008000"/><path d="M1016.4 1177.88L1023.9 1164.83L1008.9 1164.83Z" fill="#008000"/><path d="M1048.97 1175.28L1056.47 1162.23L1041.47 1162.23Z" fill="#008000"/><path d="M1082.14 1175.98L1089.64 1162.93L1074.64 1162.93Z" fill="#008000"/><path d="M1114.71 1178.78L1122.21 1165.73L1107.21 1165.73Z" fill="#008000"/><path d="M1146.58 1185.08L1154.08 1172.03L1139.08 1172.03Z" fill="#008000"/><path d="M1176.37 1193.38L1183.87 1180.33L1168.87 1180.33Z" fill="#008000"/><path d="M1202.69 1203.88L1210.19 1190.83L1195.19 1190.83Z" fill="#008000"/><path d="M1225.53 1215.78L1233.03 1202.73L1218.03 1202.73Z" fill="#008000"/><path d="M1243.5 1228.28L1251 1215.23L1236 1215.23Z" fill="#008000"/><path d="M1258.79 1240.18L1266.29 1227.13L1251.29 1227.13Z" fill="#008000"/><path d="M1272.1 1251.98L1279.6 1238.93L1264.6 1238.93Z" fill="#008000"/><path d="M1282.32 1262.66L1289.82 1249.61L1274.82 1249.61Z" fill="#008000"/><path d="M1289.35 1272.75L1296.85 1259.7L1281.85 1259.7Z" fill="#008000"/><path d="M1294.34 1281.69L1301.84 1268.64L1286.84 1268.64Z" fill="#008000"/><path d="M1297.97 1289.38L1305.47 1276.33L1290.47 1276.33Z" fill="#008000"/><path d="M1300.76 1295.89L1308.26 1282.84L1293.26 1282.84Z" fill="#008000"/><path d="M1302.99 1301.33L1310.49 1288.28L1295.49 1288.28Z" fill="#008000"/><path d="M1304.74 1305.9L1312.24 1292.85L1297.24 1292.85Z" fill="#008000"/><path d="M1306.07 1309.74L1313.57 1296.69L1298.57 1296.69Z" fill="#008000"/><path d="M1307.11 1312.95L1314.61 1299.9L1299.61 1299.9Z" fill="#008000"/><path d="M1307.92 1315.64L1315.42 1302.59L1300.42 1302.59Z" fill="#008000"/><path d="M1308.55 1317.89L1316.05 1304.84L1301.05 1304.84Z" fill="#008000"/><path d="M1309.04 1319.77L1316.54 1306.72L1301.54 1306.72Z" fill="#008000"/><path d="M1309.39 1321.34L1316.89 1308.29L1301.89 1308.29Z" fill="#008000"/><path d="M1309.65 1322.66L1317.15 1309.61L1302.15 1309.61Z" fill="#008000"/><path d="M1309.85 1323.76L1317.35 1310.71L1302.35 1310.71Z" fill="#008000"/><path d="M1310 1324.67L1317.5 1311.62L1302.5 1311.62Z" fill="#008000"/><path d="M1310.13 1325.43L1317.63 1312.38L1302.63 1312.38Z" fill="#008000"/><path d="M1310.23 1326.06L1317.73 1313.01L1302.73 1313.01Z" fill="#008000"/><path d="M1310.31 1326.59L1317.81 1313.54L1302.81 1313.54Z" fill="#008000"/><path d="M1310.73 1329.18L1318.23 1316.13L1303.23 1316.13Z" fill="#008000"/><path d="M811.45 1245.44L813.18 1250.06L818.11 1250.28L814.25 1253.35L815.57 1258.1L811.45 1255.38L807.34 1258.1L808.66 1253.35L804.8 1250.28L809.73 1250.06Z" fill="#000000"/><path d="M801.35 1252.64L803.07 1257.26L808 1257.48L804.14 1260.55L805.46 1265.31L801.35 1262.58L797.23 1265.31L798.55 1260.55L794.69 1257.48L799.62 1257.26Z" fill="#000000"/><path d="M792.21 1258.74L793.94 1263.36L798.87 1263.58L795.01 1266.65L796.33 1271.4L792.21 1268.68L788.1 1271.4L789.41 1266.65L785.55 1263.58L790.48 1263.36Z" fill="#000000"/><path d="M784.46 1264.62L786.19 1269.24L791.11 1269.46L787.25 1272.53L788.57 1277.28L784.46 1274.56L780.34 1277.28L781.66 1272.53L777.8 1269.46L782.73 1269.24Z" fill="#000000"/><path d="M777.84 1270.14L779.57 1274.76L784.5 1274.98L780.63 1278.05L781.95 1282.8L777.84 1280.08L773.72 1282.8L775.04 1278.05L771.18 1274.98L776.11 1274.76Z" fill="#000000"/><path d="M772.03 1275.08L773.75 1279.71L778.68 1279.92L774.82 1282.99L776.14 1287.75L772.03 1285.02L767.91 1287.75L769.23 1282.99L765.37 1279.92L770.3 1279.71Z" fill="#000000"/><path d="M766.85 1279.42L768.58 1284.04L773.5 1284.26L769.64 1287.33L770.96 1292.08L766.85 1289.36L762.73 1292.08L764.05 1287.33L760.19 1284.26L765.12 1284.04Z" fill="#000000"/><path d="M762.34 1283.35L764.07 1287.98L769 1288.19L765.14 1291.26L766.46 1296.02L762.34 1293.29L758.23 1296.02L759.55 1291.26L755.68 1288.19L760.61 1287.98Z" fill="#000000"/><path d="M758.44 1286.94L760.17 1291.56L765.1 1291.77L761.24 1294.84L762.56 1299.6L758.44 1296.88L754.33 1299.6L755.65 1294.84L751.78 1291.77L756.71 1291.56Z" fill="#000000"/><path d="M755.04 1290.17L756.77 1294.79L761.7 1295L757.84 1298.07L759.16 1302.83L755.04 1300.11L750.93 1302.83L752.25 1298.07L748.39 1295L753.31 1294.79Z" fill="#000000"/><path d="M752.08 1293.07L753.8 1297.69L758.73 1297.9L754.87 1300.98L756.19 1305.73L752.08 1303.01L747.96 1305.73L749.28 1300.98L745.42 1297.9L750.35 1297.69Z" fill="#000000"/><path d="M749.46 1295.65L751.19 1300.27L756.12 1300.49L752.26 1303.56L753.58 1308.31L749.46 1305.59L745.35 1308.31L746.66 1303.56L742.8 1300.49L747.73 1300.27Z" fill="#000000"/><path d="M747.16 1297.95L748.89 1302.57L753.82 1302.79L749.95 1305.86L751.27 1310.61L747.16 1307.89L743.04 1310.61L744.36 1305.86L740.5 1302.79L745.43 1302.57Z" fill="#000000"/><path d="M745.14 1300.01L746.87 1304.63L751.8 1304.85L747.94 1307.92L749.26 1312.67L745.14 1309.95L741.03 1312.67L742.35 1307.92L738.49 1304.85L743.42 1304.63Z" fill="#000000"/><path d="M743.39 1301.86L745.12 1306.49L750.05 1306.7L746.19 1309.77L747.51 1314.53L743.39 1311.8L739.28 1314.53L740.6 1309.77L736.74 1306.7L741.67 1306.49Z" fill="#000000"/><path d="M741.89 1303.55L743.62 1308.17L748.55 1308.39L744.69 1311.46L746.01 1316.21L741.89 1313.49L737.78 1316.21L739.1 1311.46L735.24 1308.39L740.16 1308.17Z" fill="#000000"/><path d="M740.64 1305.11L742.36 1309.73L747.29 1309.94L743.43 1313.02L744.75 1317.77L740.64 1315.05L736.52 1317.77L737.84 1313.02L733.98 1309.94L738.91 1309.73Z" fill="#000000"/><path d="M739.61 1306.55L741.34 1311.17L746.27 1311.39L742.41 1314.46L743.72 1319.21L739.61 1316.49L735.5 1319.21L736.81 1314.46L732.95 1311.39L737.88 1311.17Z" fill="#000000"/><path d="M738.79 1307.89L740.52 1312.51L745.45 1312.73L741.59 1315.8L742.91 1320.55L738.79 1317.83L734.68 1320.55L736 1315.8L732.13 1312.73L737.06 1312.51Z" fill="#000000"/><path d="M738.14 1309.11L739.87 1313.74L744.79 1313.95L740.93 1317.02L742.25 1321.78L738.14 1319.05L734.02 1321.78L735.34 1317.02L731.48 1313.95L736.41 1313.74Z" fill="#000000"/><path d="M737.59 1310.22L739.32 1314.84L744.25 1315.06L740.39 1318.13L741.71 1322.88L737.59 1320.16L733.48 1322.88L734.8 1318.13L730.94 1315.06L735.87 1314.84Z" fill="#000000"/><path d="M737.12 1311.2L738.85 1315.82L743.77 1316.04L739.91 1319.11L741.23 1323.86L737.12 1321.14L733 1323.86L734.32 1319.11L730.46 1316.04L735.39 1315.82Z" fill="#000000"/><path d="M736.7 1312.07L738.42 1316.69L743.35 1316.9L739.49 1319.97L740.81 1324.73L736.7 1322.01L732.58 1324.73L733.9 1319.97L730.04 1316.9L734.97 1316.69Z" fill="#000000"/><path d="M736.35 1312.84L738.07 1317.47L743 1317.68L739.14 1320.75L740.46 1325.51L736.35 1322.78L732.23 1325.51L733.55 1320.75L729.69 1317.68L734.62 1317.47Z" fill="#000000"/><path d="M736.05 1313.54L737.78 1318.16L742.71 1318.38L738.85 1321.45L740.17 1326.2L736.05 1323.48L731.94 1326.2L733.25 1321.45L729.39 1318.38L734.32 1318.16Z" fill="#000000"/><path d="M735.8 1314.16L737.53 1318.78L742.46 1319L738.6 1322.07L739.91 1326.82L735.8 1324.1L731.69 1326.82L733 1322.07L729.14 1319L734.07 1318.78Z" fill="#000000"/><path d="M735.58 1314.71L737.31 1319.33L742.24 1319.55L738.38 1322.62L739.7 1327.38L735.58 1324.65L731.47 1327.38L732.79 1322.62L728.92 1319.55L733.85 1319.33Z" fill="#000000"/><path d="M735.39 1315.2L737.12 1319.82L742.05 1320.04L738.19 1323.11L739.51 1327.87L735.39 1325.14L731.28 1327.87L732.6 1323.11L728.74 1320.04L733.67 1319.82Z" fill="#000000"/><path d="M733.99 1319L735.72 1323.62L740.65 1323.84L736.79 1326.91L738.11 1331.66L733.99 1328.94L729.88 1331.66L731.2 1326.91L727.33 1323.84L732.26 1323.62Z" fill="#000000"/><path d="M822.88 1237.3L824.6 1241.92L829.53 1242.14L825.67 1245.21L826.99 1249.96L822.88 1247.24L818.76 1249.96L820.08 1245.21L816.22 1242.14L821.15 1241.92Z" fill="#000000"/><path d="M835.77 1228.1L837.5 1232.72L842.43 1232.94L838.57 1236.01L839.89 1240.76L835.77 1238.04L831.66 1240.76L832.98 1236.01L829.11 1232.94L834.04 1232.72Z" fill="#000000"/><path d="M854.02 1218.1L855.75 1222.72L860.68 1222.94L856.82 1226.01L858.14 1230.76L854.02 1228.04L849.91 1230.76L851.23 1226.01L847.37 1222.94L852.3 1222.72Z" fill="#000000"/><path d="M870 1208.9L871.72 1213.52L876.65 1213.74L872.79 1216.81L874.11 1221.56L870 1218.84L865.88 1221.56L867.2 1216.81L863.34 1213.74L868.27 1213.52Z" fill="#000000"/><path d="M888.35 1200.5L890.08 1205.12L895 1205.34L891.14 1208.41L892.46 1213.16L888.35 1210.44L884.23 1213.16L885.55 1208.41L881.69 1205.34L886.62 1205.12Z" fill="#000000"/><path d="M908.88 1191.3L910.61 1195.92L915.54 1196.14L911.68 1199.21L913 1203.96L908.88 1201.24L904.77 1203.96L906.09 1199.21L902.22 1196.14L907.15 1195.92Z" fill="#000000"/><path d="M932.49 1182.9L934.22 1187.52L939.15 1187.74L935.29 1190.81L936.61 1195.56L932.49 1192.84L928.38 1195.56L929.7 1190.81L925.83 1187.74L930.76 1187.52Z" fill="#000000"/><path d="M958.28 1175.2L960.01 1179.82L964.94 1180.04L961.08 1183.11L962.4 1187.86L958.28 1185.14L954.17 1187.86L955.49 1183.11L951.63 1180.04L956.56 1179.82Z" fill="#000000"/><path d="M986.46 1168.3L988.18 1172.92L993.11 1173.14L989.25 1176.21L990.57 1180.96L986.46 1178.24L982.34 1180.96L983.66 1176.21L979.8 1173.14L984.73 1172.92Z" fill="#000000"/><path d="M1016.12 1163.7L1017.84 1168.32L1022.77 1168.54L1018.91 1171.61L1020.23 1176.36L1016.12 1173.64L1012 1176.36L1013.32 1171.61L1009.46 1168.54L1014.39 1168.32Z" fill="#000000"/><path d="M1048.65 1161.1L1050.38 1165.72L1055.31 1165.94L1051.45 1169.01L1052.77 1173.76L1048.65 1171.04L1044.54 1173.76L1045.86 1169.01L1042 1165.94L1046.93 1165.72Z" fill="#000000"/><path d="M1081.79 1161.8L1083.52 1166.42L1088.44 1166.64L1084.58 1169.71L1085.9 1174.46L1081.79 1171.74L1077.67 1174.46L1078.99 1169.71L1075.13 1166.64L1080.06 1166.42Z" fill="#000000"/><path d="M1114.32 1164.6L1116.05 1169.22L1120.98 1169.44L1117.12 1172.51L1118.44 1177.26L1114.32 1174.54L1110.21 1177.26L1111.53 1172.51L1107.67 1169.44L1112.6 1169.22Z" fill="#000000"/><path d="M1146.17 1170.9L1147.9 1175.52L1152.83 1175.74L1148.96 1178.81L1150.28 1183.56L1146.17 1180.84L1142.05 1183.56L1143.37 1178.81L1139.51 1175.74L1144.44 1175.52Z" fill="#000000"/><path d="M1175.93 1179.2L1177.66 1183.82L1182.59 1184.04L1178.72 1187.11L1180.04 1191.86L1175.93 1189.14L1171.81 1191.86L1173.13 1187.11L1169.27 1184.04L1174.2 1183.82Z" fill="#000000"/><path d="M1202.22 1189.7L1203.94 1194.32L1208.87 1194.54L1205.01 1197.61L1206.33 1202.36L1202.22 1199.64L1198.1 1202.36L1199.42 1197.61L1195.56 1194.54L1200.49 1194.32Z" fill="#000000"/><path d="M1225.03 1201.6L1226.76 1206.22L1231.69 1206.44L1227.83 1209.51L1229.15 1214.26L1225.03 1211.54L1220.92 1214.26L1222.24 1209.51L1218.37 1206.44L1223.3 1206.22Z" fill="#000000"/><path d="M1242.99 1214.1L1244.72 1218.72L1249.64 1218.94L1245.78 1222.01L1247.1 1226.76L1242.99 1224.04L1238.87 1226.76L1240.19 1222.01L1236.33 1218.94L1241.26 1218.72Z" fill="#000000"/><path d="M1258.26 1226L1259.99 1230.62L1264.92 1230.84L1261.06 1233.91L1262.38 1238.66L1258.26 1235.94L1254.15 1238.66L1255.47 1233.91L1251.61 1230.84L1256.54 1230.62Z" fill="#000000"/><path d="M1271.56 1237.8L1273.28 1242.42L1278.21 1242.64L1274.35 1245.71L1275.67 1250.46L1271.56 1247.74L1267.44 1250.46L1268.76 1245.71L1264.9 1242.64L1269.83 1242.42Z" fill="#000000"/><path d="M1281.76 1248.48L1283.49 1253.1L1288.42 1253.32L1284.56 1256.39L1285.88 1261.15L1281.76 1258.42L1277.65 1261.15L1278.97 1256.39L1275.11 1253.32L1280.03 1253.1Z" fill="#000000"/><path d="M1288.79 1258.57L1290.52 1263.19L1295.45 1263.41L1291.59 1266.48L1292.9 1271.24L1288.79 1268.51L1284.68 1271.24L1285.99 1266.48L1282.13 1263.41L1287.06 1263.19Z" fill="#000000"/><path d="M1293.77 1267.51L1295.5 1272.13L1300.43 1272.34L1296.57 1275.42L1297.89 1280.17L1293.77 1277.45L1289.66 1280.17L1290.98 1275.42L1287.12 1272.34L1292.05 1272.13Z" fill="#000000"/><path d="M1297.41 1275.2L1299.13 1279.82L1304.06 1280.04L1300.2 1283.11L1301.52 1287.87L1297.41 1285.14L1293.29 1287.87L1294.61 1283.11L1290.75 1280.04L1295.68 1279.82Z" fill="#000000"/><path d="M1300.18 1281.71L1301.91 1286.33L1306.84 1286.55L1302.98 1289.62L1304.3 1294.37L1300.18 1291.65L1296.07 1294.37L1297.39 1289.62L1293.53 1286.55L1298.46 1286.33Z" fill="#000000"/><path d="M1302.42 1287.15L1304.14 1291.77L1309.07 1291.99L1305.21 1295.06L1306.53 1299.82L1302.42 1297.09L1298.3 1299.82L1299.62 1295.06L1295.76 1291.99L1300.69 1291.77Z" fill="#000000"/><path d="M1304.16 1291.72L1305.89 1296.34L1310.82 1296.56L1306.96 1299.63L1308.27 1304.38L1304.16 1301.66L1300.05 1304.38L1301.36 1299.63L1297.5 1296.56L1302.43 1296.34Z" fill="#000000"/><path d="M1305.5 1295.56L1307.22 1300.18L1312.15 1300.4L1308.29 1303.47L1309.61 1308.22L1305.5 1305.5L1301.38 1308.22L1302.7 1303.47L1298.84 1300.4L1303.77 1300.18Z" fill="#000000"/><path d="M1306.53 1298.77L1308.26 1303.4L1313.19 1303.61L1309.33 1306.68L1310.65 1311.44L1306.53 1308.71L1302.42 1311.44L1303.74 1306.68L1299.88 1303.61L1304.81 1303.4Z" fill="#000000"/><path d="M1307.34 1301.46L1309.07 1306.09L1314 1306.3L1310.14 1309.37L1311.46 1314.13L1307.34 1311.4L1303.23 1314.13L1304.55 1309.37L1300.69 1306.3L1305.62 1306.09Z" fill="#000000"/><path d="M1307.97 1303.71L1309.7 1308.33L1314.63 1308.55L1310.77 1311.62L1312.09 1316.38L1307.97 1313.65L1303.86 1316.38L1305.18 1311.62L1301.32 1308.55L1306.25 1308.33Z" fill="#000000"/><path d="M1308.46 1305.59L1310.18 1310.21L1315.11 1310.43L1311.25 1313.5L1312.57 1318.26L1308.46 1315.53L1304.34 1318.26L1305.66 1313.5L1301.8 1310.43L1306.73 1310.21Z" fill="#000000"/><path d="M1308.81 1307.17L1310.53 1311.79L1315.46 1312L1311.6 1315.08L1312.92 1319.83L1308.81 1317.11L1304.69 1319.83L1306.01 1315.08L1302.15 1312L1307.08 1311.79Z" fill="#000000"/><path d="M1309.07 1308.48L1310.79 1313.1L1315.72 1313.32L1311.86 1316.39L1313.18 1321.15L1309.07 1318.42L1304.95 1321.15L1306.27 1316.39L1302.41 1313.32L1307.34 1313.1Z" fill="#000000"/><path d="M1309.27 1309.58L1310.99 1314.2L1315.92 1314.42L1312.06 1317.49L1313.38 1322.24L1309.27 1319.52L1305.15 1322.24L1306.47 1317.49L1302.61 1314.42L1307.54 1314.2Z" fill="#000000"/><path d="M1309.42 1310.49L1311.15 1315.12L1316.08 1315.33L1312.22 1318.4L1313.54 1323.16L1309.42 1320.43L1305.31 1323.16L1306.63 1318.4L1302.77 1315.33L1307.69 1315.12Z" fill="#000000"/><path d="M1309.55 1311.25L1311.28 1315.88L1316.21 1316.09L1312.34 1319.16L1313.66 1323.92L1309.55 1321.19L1305.43 1323.92L1306.75 1319.16L1302.89 1316.09L1307.82 1315.88Z" fill="#000000"/><path d="M1309.65 1311.89L1311.38 1316.51L1316.31 1316.72L1312.45 1319.79L1313.76 1324.55L1309.65 1321.83L1305.54 1324.55L1306.85 1319.79L1302.99 1316.72L1307.92 1316.51Z" fill="#000000"/><path d="M1309.73 1312.41L1311.46 1317.03L1316.39 1317.25L1312.53 1320.32L1313.85 1325.07L1309.73 1322.35L1305.62 1325.07L1306.94 1320.32L1303.07 1317.25L1308 1317.03Z" fill="#000000"/><path d="M1310.15 1315L1311.87 1319.62L1316.8 1319.84L1312.94 1322.91L1314.26 1327.66L1310.15 1324.94L1306.03 1327.66L1307.35 1322.91L1303.49 1319.84L1308.42 1319.62Z" fill="#000000"/><path d="M818.71 1252.44L806.09 1259.69L806.09 1245.19Z" fill="#FF00FF"/><path d="M808.56 1259.64L795.94 1266.89L795.94 1252.39Z" fill="#FF00FF"/><path d="M799.39 1265.74L786.77 1272.99L786.77 1258.49Z" fill="#FF00FF"/><path d="M791.6 1271.62L778.99 1278.87L778.99 1264.37Z" fill="#FF00FF"/><path d="M784.96 1277.14L772.34 1284.39L772.34 1269.89Z" fill="#FF00FF"/><path d="M779.12 1282.08L766.51 1289.33L766.51 1274.83Z" fill="#FF00FF"/><path d="M773.92 1286.42L761.31 1293.67L761.31 1279.17Z" fill="#FF00FF"/><path d="M769.4 1290.35L756.78 1297.6L756.78 1283.1Z" fill="#FF00FF"/><path d="M765.48 1293.94L752.87 1301.19L752.87 1286.69Z" fill="#FF00FF"/><path d="M762.07 1297.17L749.46 1304.42L749.46 1289.92Z" fill="#FF00FF"/><path d="M759.09 1300.07L746.48 1307.32L746.48 1292.82Z" fill="#FF00FF"/><path d="M756.47 1302.65L743.85 1309.9L743.85 1295.4Z" fill="#FF00FF"/><path d="M754.15 1304.95L741.54 1312.2L741.54 1297.7Z" fill="#FF00FF"/><path d="M752.13 1307.01L739.52 1314.26L739.52 1299.76Z" fill="#FF00FF"/><path d="M750.37 1308.86L737.76 1316.11L737.76 1301.61Z" fill="#FF00FF"/><path d="M748.87 1310.55L736.25 1317.8L736.25 1303.3Z" fill="#FF00FF"/><path d="M747.61 1312.11L734.99 1319.36L734.99 1304.86Z" fill="#FF00FF"/><path d="M746.57 1313.55L733.96 1320.8L733.96 1306.3Z" fill="#FF00FF"/><path d="M745.75 1314.89L733.14 1322.14L733.14 1307.64Z" fill="#FF00FF"/><path d="M745.1 1316.11L732.48 1323.36L732.48 1308.86Z" fill="#FF00FF"/><path d="M744.55 1317.22L731.94 1324.47L731.94 1309.97Z" fill="#FF00FF"/><path d="M744.07 1318.2L731.46 1325.45L731.46 1310.95Z" fill="#FF00FF"/><path d="M743.65 1319.07L731.03 1326.32L731.03 1311.82Z" fill="#FF00FF"/><path d="M743.3 1319.84L730.68 1327.09L730.68 1312.59Z" fill="#FF00FF"/><path d="M743 1320.54L730.39 1327.79L730.39 1313.29Z" fill="#FF00FF"/><path d="M742.75 1321.16L730.13 1328.41L730.13 1313.91Z" fill="#FF00FF"/><path d="M742.53 1321.71L729.92 1328.96L729.92 1314.46Z" fill="#FF00FF"/><path d="M742.34 1322.2L729.73 1329.45L729.73 1314.95Z" fill="#FF00FF"/><path d="M740.93 1326L728.32 1333.25L728.32 1318.75Z" fill="#FF00FF"/><path d="M830.18 1244.3L817.56 1251.55L817.56 1237.05Z" fill="#FF00FF"/><path d="M843.12 1235.1L830.51 1242.35L830.51 1227.85Z" fill="#FF00FF"/><path d="M861.45 1225.1L848.84 1232.35L848.84 1217.85Z" fill="#FF00FF"/><path d="M877.49 1215.9L864.87 1223.15L864.87 1208.65Z" fill="#FF00FF"/><path d="M895.91 1207.5L883.3 1214.75L883.3 1200.25Z" fill="#FF00FF"/><path d="M916.53 1198.3L903.91 1205.55L903.91 1191.05Z" fill="#FF00FF"/><path d="M940.23 1189.9L927.62 1197.15L927.62 1182.65Z" fill="#FF00FF"/><path d="M966.13 1182.2L953.51 1189.45L953.51 1174.95Z" fill="#FF00FF"/><path d="M994.42 1175.3L981.8 1182.55L981.8 1168.05Z" fill="#FF00FF"/><path d="M1024.2 1170.7L1011.58 1177.95L1011.58 1163.45Z" fill="#FF00FF"/><path d="M1056.87 1168.1L1044.25 1175.35L1044.25 1160.85Z" fill="#FF00FF"/><path d="M1090.13 1168.8L1077.52 1176.05L1077.52 1161.55Z" fill="#FF00FF"/><path d="M1122.8 1171.6L1110.19 1178.85L1110.19 1164.35Z" fill="#FF00FF"/><path d="M1154.77 1177.9L1142.16 1185.15L1142.16 1170.65Z" fill="#FF00FF"/><path d="M1184.65 1186.2L1172.04 1193.45L1172.04 1178.95Z" fill="#FF00FF"/><path d="M1211.05 1196.7L1198.43 1203.95L1198.43 1189.45Z" fill="#FF00FF"/><path d="M1233.95 1208.6L1221.34 1215.85L1221.34 1201.35Z" fill="#FF00FF"/><path d="M1251.98 1221.1L1239.37 1228.35L1239.37 1213.85Z" fill="#FF00FF"/><path d="M1267.32 1233L1254.71 1240.25L1254.71 1225.75Z" fill="#FF00FF"/><path d="M1280.67 1244.8L1268.05 1252.05L1268.05 1237.55Z" fill="#FF00FF"/><path d="M1290.91 1255.48L1278.3 1262.73L1278.3 1248.23Z" fill="#FF00FF"/><path d="M1297.97 1265.57L1285.35 1272.82L1285.35 1258.32Z" fill="#FF00FF"/><path d="M1302.97 1274.51L1290.36 1281.76L1290.36 1267.26Z" fill="#FF00FF"/><path d="M1306.62 1282.2L1294 1289.45L1294 1274.95Z" fill="#FF00FF"/><path d="M1309.41 1288.71L1296.79 1295.96L1296.79 1281.46Z" fill="#FF00FF"/><path d="M1311.65 1294.15L1299.03 1301.4L1299.03 1286.9Z" fill="#FF00FF"/><path d="M1313.4 1298.72L1300.79 1305.97L1300.79 1291.47Z" fill="#FF00FF"/><path d="M1314.74 1302.56L1302.13 1309.81L1302.13 1295.31Z" fill="#FF00FF"/><path d="M1315.79 1305.77L1303.17 1313.02L1303.17 1298.52Z" fill="#FF00FF"/><path d="M1316.6 1308.46L1303.98 1315.71L1303.98 1301.21Z" fill="#FF00FF"/><path d="M1317.23 1310.71L1304.62 1317.96L1304.62 1303.46Z" fill="#FF00FF"/><path d="M1317.71 1312.59L1305.1 1319.84L1305.1 1305.34Z" fill="#FF00FF"/><path d="M1318.07 1314.17L1305.45 1321.42L1305.45 1306.92Z" fill="#FF00FF"/><path d="M1318.33 1315.48L1305.71 1322.73L1305.71 1308.23Z" fill="#FF00FF"/><path d="M1318.53 1316.58L1305.91 1323.83L1305.91 1309.33Z" fill="#FF00FF"/><path d="M1318.69 1317.49L1306.07 1324.74L1306.07 1310.24Z" fill="#FF00FF"/><path d="M1318.81 1318.25L1306.2 1325.5L1306.2 1311Z" fill="#FF00FF"/><path d="M1318.91 1318.89L1306.3 1326.14L1306.3 1311.64Z" fill="#FF00FF"/><path d="M1319 1319.41L1306.38 1326.66L1306.38 1312.16Z" fill="#FF00FF"/><path d="M1319.41 1322L1306.8 1329.25L1306.8 1314.75Z" fill="#FF00FF"/><circle cx="812.32" cy="1252.44" r="6.7" fill="#008080"/><circle cx="802.1" cy="1259.64" r="6.7" fill="#008080"/><circle cx="792.87" cy="1265.74" r="6.7" fill="#008080"/><circle cx="785.03" cy="1271.62" r="6.7" fill="#008080"/><circle cx="778.34" cy="1277.14" r="6.7" fill="#008080"/><circle cx="772.46" cy="1282.08" r="6.7" fill="#008080"/><circle cx="767.22" cy="1286.42" r="6.7" fill="#008080"/><circle cx="762.67" cy="1290.35" r="6.7" fill="#008080"/><circle cx="758.72" cy="1293.94" r="6.7" fill="#008080"/><circle cx="755.29" cy="1297.17" r="6.7" fill="#008080"/><circle cx="752.29" cy="1300.07" r="6.7" fill="#008080"/><circle cx="749.64" cy="1302.65" r="6.7" fill="#008080"/><circle cx="747.32" cy="1304.95" r="6.7" fill="#008080"/><circle cx="745.28" cy="1307.01" r="6.7" fill="#008080"/><circle cx="743.51" cy="1308.86" r="6.7" fill="#008080"/><circle cx="741.99" cy="1310.55" r="6.7" fill="#008080"/><circle cx="740.72" cy="1312.11" r="6.7" fill="#008080"/><circle cx="739.68" cy="1313.55" r="6.7" fill="#008080"/><circle cx="738.86" cy="1314.89" r="6.7" fill="#008080"/><circle cx="738.19" cy="1316.11" r="6.7" fill="#008080"/><circle cx="737.64" cy="1317.22" r="6.7" fill="#008080"/><circle cx="737.16" cy="1318.2" r="6.7" fill="#008080"/><circle cx="736.74" cy="1319.07" r="6.7" fill="#008080"/><circle cx="736.38" cy="1319.84" r="6.7" fill="#008080"/><circle cx="736.08" cy="1320.54" r="6.7" fill="#008080"/><circle cx="735.83" cy="1321.16" r="6.7" fill="#008080"/><circle cx="735.61" cy="1321.71" r="6.7" fill="#008080"/><circle cx="735.42" cy="1322.2" r="6.7" fill="#008080"/><circle cx="734" cy="1326" r="6.7" fill="#008080"/><circle cx="823.87" cy="1244.3" r="6.7" fill="#008080"/><circle cx="836.91" cy="1235.1" r="6.7" fill="#008080"/><circle cx="855.37" cy="1225.1" r="6.7" fill="#008080"/><circle cx="871.51" cy="1215.9" r="6.7" fill="#008080"/><circle cx="890.07" cy="1207.5" r="6.7" fill="#008080"/><circle cx="910.83" cy="1198.3" r="6.7" fill="#008080"/><circle cx="934.7" cy="1189.9" r="6.7" fill="#008080"/><circle cx="960.78" cy="1182.2" r="6.7" fill="#008080"/><circle cx="989.27" cy="1175.3" r="6.7" fill="#008080"/><circle cx="1019.26" cy="1170.7" r="6.7" fill="#008080"/><circle cx="1052.15" cy="1168.1" r="6.7" fill="#008080"/><circle cx="1085.65" cy="1168.8" r="6.7" fill="#008080"/><circle cx="1118.55" cy="1171.6" r="6.7" fill="#008080"/><circle cx="1150.75" cy="1177.9" r="6.7" fill="#008080"/><circle cx="1180.84" cy="1186.2" r="6.7" fill="#008080"/><circle cx="1207.42" cy="1196.7" r="6.7" fill="#008080"/><circle cx="1230.49" cy="1208.6" r="6.7" fill="#008080"/><circle cx="1248.64" cy="1221.1" r="6.7" fill="#008080"/><circle cx="1264.09" cy="1233" r="6.7" fill="#008080"/><circle cx="1277.53" cy="1244.8" r="6.7" fill="#008080"/><circle cx="1287.85" cy="1255.48" r="6.7" fill="#008080"/><circle cx="1294.95" cy="1265.57" r="6.7" fill="#008080"/><circle cx="1299.99" cy="1274.51" r="6.7" fill="#008080"/><circle cx="1303.66" cy="1282.2" r="6.7" fill="#008080"/><circle cx="1306.47" cy="1288.71" r="6.7" fill="#008080"/><circle cx="1308.73" cy="1294.15" r="6.7" fill="#008080"/><circle cx="1310.49" cy="1298.72" r="6.7" fill="#008080"/><circle cx="1311.84" cy="1302.56" r="6.7" fill="#008080"/><circle cx="1312.89" cy="1305.77" r="6.7" fill="#008080"/><circle cx="1313.71" cy="1308.46" r="6.7" fill="#008080"/><circle cx="1314.35" cy="1310.71" r="6.7" fill="#008080"/><circle cx="1314.84" cy="1312.59" r="6.7" fill="#008080"/><circle cx="1315.19" cy="1314.17" r="6.7" fill="#008080"/><circle cx="1315.45" cy="1315.48" r="6.7" fill="#008080"/><circle cx="1315.66" cy="1316.58" r="6.7" fill="#008080"/><circle cx="1315.81" cy="1317.49" r="6.7" fill="#008080"/><circle cx="1315.94" cy="1318.25" r="6.7" fill="#008080"/><circle cx="1316.04" cy="1318.89" r="6.7" fill="#008080"/><circle cx="1316.13" cy="1319.41" r="6.7" fill="#008080"/><circle cx="1316.55" cy="1322" r="6.7" fill="#008080"/><circle cx="812.09" cy="1252.44" r="6.9" fill="#00FF00"/><circle cx="801.9" cy="1259.64" r="6.9" fill="#00FF00"/><circle cx="792.69" cy="1265.74" r="6.9" fill="#00FF00"/><circle cx="784.87" cy="1271.62" r="6.9" fill="#00FF00"/><circle cx="778.2" cy="1277.14" r="6.9" fill="#00FF00"/><circle cx="772.34" cy="1282.08" r="6.9" fill="#00FF00"/><circle cx="767.12" cy="1286.42" r="6.9" fill="#00FF00"/><circle cx="762.58" cy="1290.35" r="6.9" fill="#00FF00"/><circle cx="758.65" cy="1293.94" r="6.9" fill="#00FF00"/><circle cx="755.22" cy="1297.17" r="6.9" fill="#00FF00"/><circle cx="752.23" cy="1300.07" r="6.9" fill="#00FF00"/><circle cx="749.59" cy="1302.65" r="6.9" fill="#00FF00"/><circle cx="747.27" cy="1304.95" r="6.9" fill="#00FF00"/><circle cx="745.24" cy="1307.01" r="6.9" fill="#00FF00"/><circle cx="743.48" cy="1308.86" r="6.9" fill="#00FF00"/><circle cx="741.96" cy="1310.55" r="6.9" fill="#00FF00"/><circle cx="740.7" cy="1312.11" r="6.9" fill="#00FF00"/><circle cx="739.66" cy="1313.55" r="6.9" fill="#00FF00"/><circle cx="738.84" cy="1314.89" r="6.9" fill="#00FF00"/><circle cx="738.18" cy="1316.11" r="6.9" fill="#00FF00"/><circle cx="737.63" cy="1317.22" r="6.9" fill="#00FF00"/><circle cx="737.15" cy="1318.2" r="6.9" fill="#00FF00"/><circle cx="736.73" cy="1319.07" r="6.9" fill="#00FF00"/><circle cx="736.37" cy="1319.84" r="6.9" fill="#00FF00"/><circle cx="736.08" cy="1320.54" r="6.9" fill="#00FF00"/><circle cx="735.82" cy="1321.16" r="6.9" fill="#00FF00"/><circle cx="735.6" cy="1321.71" r="6.9" fill="#00FF00"/><circle cx="735.41" cy="1322.2" r="6.9" fill="#00FF00"/><circle cx="734" cy="1326" r="6.9" fill="#00FF00"/><circle cx="823.6" cy="1244.3" r="6.9" fill="#00FF00"/><circle cx="836.6" cy="1235.1" r="6.9" fill="#00FF00"/><circle cx="855" cy="1225.1" r="6.9" fill="#00FF00"/><circle cx="871.1" cy="1215.9" r="6.9" fill="#00FF00"/><circle cx="889.6" cy="1207.5" r="6.9" fill="#00FF00"/><circle cx="910.3" cy="1198.3" r="6.9" fill="#00FF00"/><circle cx="934.1" cy="1189.9" r="6.9" fill="#00FF00"/><circle cx="960.1" cy="1182.2" r="6.9" fill="#00FF00"/><circle cx="988.5" cy="1175.3" r="6.9" fill="#00FF00"/><circle cx="1018.4" cy="1170.7" r="6.9" fill="#00FF00"/><circle cx="1051.2" cy="1168.1" r="6.9" fill="#00FF00"/><circle cx="1084.6" cy="1168.8" r="6.9" fill="#00FF00"/><circle cx="1117.4" cy="1171.6" r="6.9" fill="#00FF00"/><circle cx="1149.5" cy="1177.9" r="6.9" fill="#00FF00"/><circle cx="1179.5" cy="1186.2" r="6.9" fill="#00FF00"/><circle cx="1206" cy="1196.7" r="6.9" fill="#00FF00"/><circle cx="1229" cy="1208.6" r="6.9" fill="#00FF00"/><circle cx="1247.1" cy="1221.1" r="6.9" fill="#00FF00"/><circle cx="1262.5" cy="1233" r="6.9" fill="#00FF00"/><circle cx="1275.9" cy="1244.8" r="6.9" fill="#00FF00"/><circle cx="1286.19" cy="1255.48" r="6.9" fill="#00FF00"/><circle cx="1293.27" cy="1265.57" r="6.9" fill="#00FF00"/><circle cx="1298.3" cy="1274.51" r="6.9" fill="#00FF00"/><circle cx="1301.96" cy="1282.2" r="6.9" fill="#00FF00"/><circle cx="1304.76" cy="1288.71" r="6.9" fill="#00FF00"/><circle cx="1307.01" cy="1294.15" r="6.9" fill="#00FF00"/><circle cx="1308.77" cy="1298.72" r="6.9" fill="#00FF00"/><circle cx="1310.11" cy="1302.56" r="6.9" fill="#00FF00"/><circle cx="1311.16" cy="1305.77" r="6.9" fill="#00FF00"/><circle cx="1311.98" cy="1308.46" r="6.9" fill="#00FF00"/><circle cx="1312.61" cy="1310.71" r="6.9" fill="#00FF00"/><circle cx="1313.1" cy="1312.59" r="6.9" fill="#00FF00"/><circle cx="1313.45" cy="1314.17" r="6.9" fill="#00FF00"/><circle cx="1313.71" cy="1315.48" r="6.9" fill="#00FF00"/><circle cx="1313.91" cy="1316.58" r="6.9" fill="#00FF00"/><circle cx="1314.07" cy="1317.49" r="6.9" fill="#00FF00"/><circle cx="1314.2" cy="1318.25" r="6.9" fill="#00FF00"/><circle cx="1314.3" cy="1318.89" r="6.9" fill="#00FF00"/><circle cx="1314.38" cy="1319.41" r="6.9" fill="#00FF00"/><circle cx="1314.8" cy="1322" r="6.9" fill="#00FF00"/><text x="703.33" y="1570.5" font-size="47">0.0</text><text x="825.05" y="1570.5" font-size="47">0.1</text><text x="946.24" y="1570.5" font-size="47">0.2</text><text x="1067.43" y="1570.5" font-size="47">0.3</text><text x="1188.47" y="1570.5" font-size="47">0.4</text><text x="1310.29" y="1570.5" font-size="47">0.5</text><text x="1431.52" y="1570.5" font-size="47">0.6</text><text x="1552.8" y="1570.5" font-size="47">0.7</text><text x="652.47" y="876.1" font-size="47">0.5</text><text x="651.62" y="968.8" font-size="47">0.4</text><text x="652.36" y="1059.7" font-size="47">0.3</text><text x="652.77" y="1151.2" font-size="47">0.2</text><text x="653.18" y="1243.5" font-size="47">0.1</text><text x="652.54" y="1334.9" font-size="47">0.0</text><text x="637.53" y="1428" font-size="47">-0.1</text><text x="637.12" y="1520" font-size="47">-0.2</text><g><text x="1017.04" y="1630.2" font-size="64">Z</text><text transform="translate(1064.1 1643.77) scale(1 1.7)" font-size="51.2">'</text><text x="1094.59" y="1630.2" font-size="64" font-weight="normal">(</text><text x="1114.12" y="1630.2" font-size="65.28" font-weight="normal">Ω</text><text x="1180.01" y="1630.2" font-size="64">cm</text><text x="1261.83" y="1594.5" font-size="35">2</text><text x="1280.5" y="1630.2" font-size="64" font-weight="normal">)</text></g><g transform="translate(634.7 1329.6) rotate(-90)"><text x="-2.42" y="0" font-size="66">-</text><text x="21.74" y="0" font-size="66">Z</text><text transform="translate(68.58 13.99) scale(1 1.7)" font-size="52.8">'</text><text transform="translate(85.58 13.99) scale(1 1.7)" font-size="52.8">'</text><text x="117.3" y="0" font-size="66">(</text><text x="138.32" y="0" font-size="67.32" font-weight="normal">Ω</text><text x="203.44" y="0" font-size="66">cm</text><text x="290.56" y="-36.8" font-size="39">2</text><text x="309.92" y="0" font-size="66">)</text></g><text x="741.07" y="924.7" font-size="57.5" letter-spacing="2.8">(c)</text><text x="1298.28" y="914.2" font-size="42.3">LSCFN-46271</text><text x="1382.26" y="982.3" font-size="44" font-weight="normal">@</text><text x="1432.16" y="980.8" font-size="42">650</text><text x="1506.19" y="958" font-size="26.5">o</text><text x="1518.55" y="980.8" font-size="42">C</text><text x="814.58" y="1063.4" font-size="38" letter-spacing="0.15">after recovered</text><text x="822.9" y="1293.4" font-size="37.5">50% CO<tspan dy="11" font-size="22">2</tspan><tspan dy="-11" font-size="37.5">-air</tspan></text><text x="838.48" y="1466.2" font-size="38">air</text><path d="M1314.1 1127.02L1321.6 1140.07L1306.6 1140.07Z" fill="#0000FF"/><path d="M1471.6 1143.88L1479.1 1130.83L1464.1 1130.83Z" fill="#008000"/><path d="M1314.1 1186.6L1315.83 1191.22L1320.76 1191.44L1316.9 1194.51L1318.21 1199.26L1314.1 1196.54L1309.99 1199.26L1311.3 1194.51L1307.44 1191.44L1312.37 1191.22Z" fill="#000000"/><path d="M1480.34 1193.6L1467.72 1200.85L1467.72 1186.35Z" fill="#FF00FF"/><circle cx="1314.1" cy="1250.4" r="6.7" fill="#008080"/><circle cx="1471.6" cy="1250.4" r="6.9" fill="#00FF00"/><text x="1364.56" y="1150.1" font-size="33">10h</text><text x="1523.81" y="1150.1" font-size="33">20h</text><text x="1365.96" y="1207.5" font-size="33">30h</text><text x="1524.75" y="1207.5" font-size="33">40h</text><text x="1365.88" y="1264.3" font-size="33">50h</text><text x="1524.07" y="1264.3" font-size="33">60h</text></g></g></svg></body></html>
